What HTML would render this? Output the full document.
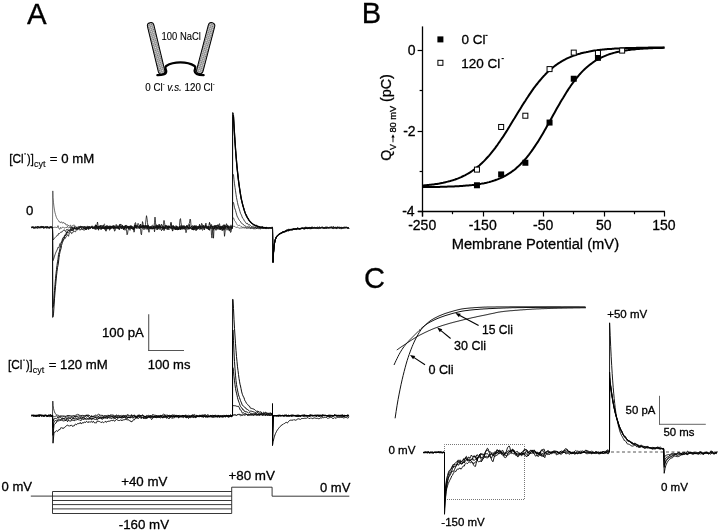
<!DOCTYPE html>
<html><head><meta charset="utf-8"><style>
html,body{margin:0;padding:0;background:#fff;width:720px;height:532px;overflow:hidden}
svg{display:block;will-change:transform}
text{font-family:"Liberation Sans", sans-serif;fill:#000;stroke:#000;stroke-width:0.3px;stroke-linejoin:round}
</style></head><body>
<svg width="720" height="532" viewBox="0 0 720 532">
<rect width="720" height="532" fill="#fff"/>
<text x="27.10" y="24.20" font-size="30" transform="translate(27.10,24.20) scale(0.982,1.0) translate(-27.10,-24.20)">A</text>
<text x="361.80" y="23.00" font-size="30" transform="translate(361.80,23.00) scale(0.97,1.0) translate(-361.80,-23.00)">B</text>
<text x="363.90" y="288.30" font-size="30" transform="translate(363.90,288.30) scale(0.97,1.0) translate(-363.90,-288.30)">C</text>
<line x1="422.50" y1="26.40" x2="422.50" y2="216.50" stroke="#000" stroke-width="1.3"/>
<line x1="418.00" y1="211.50" x2="664.90" y2="211.50" stroke="#000" stroke-width="1.3"/>
<line x1="417.60" y1="50.50" x2="422.50" y2="50.50" stroke="#000" stroke-width="1.2"/>
<line x1="417.60" y1="131.50" x2="422.50" y2="131.50" stroke="#000" stroke-width="1.2"/>
<line x1="417.60" y1="211.50" x2="422.50" y2="211.50" stroke="#000" stroke-width="1.2"/>
<line x1="419.60" y1="90.50" x2="422.50" y2="90.50" stroke="#000" stroke-width="1.2"/>
<line x1="419.60" y1="171.50" x2="422.50" y2="171.50" stroke="#000" stroke-width="1.2"/>
<line x1="422.50" y1="211.50" x2="422.50" y2="216.50" stroke="#000" stroke-width="1.2"/>
<line x1="483.50" y1="211.50" x2="483.50" y2="216.50" stroke="#000" stroke-width="1.2"/>
<line x1="543.50" y1="211.50" x2="543.50" y2="216.50" stroke="#000" stroke-width="1.2"/>
<line x1="604.50" y1="211.50" x2="604.50" y2="216.50" stroke="#000" stroke-width="1.2"/>
<line x1="664.50" y1="211.50" x2="664.50" y2="216.50" stroke="#000" stroke-width="1.2"/>
<line x1="452.50" y1="211.50" x2="452.50" y2="214.20" stroke="#000" stroke-width="1.2"/>
<line x1="513.50" y1="211.50" x2="513.50" y2="214.20" stroke="#000" stroke-width="1.2"/>
<line x1="573.50" y1="211.50" x2="573.50" y2="214.20" stroke="#000" stroke-width="1.2"/>
<line x1="634.50" y1="211.50" x2="634.50" y2="214.20" stroke="#000" stroke-width="1.2"/>
<text x="408.15" y="229.80" font-size="14">-250</text>
<text x="468.65" y="229.80" font-size="14">-150</text>
<text x="533.05" y="229.80" font-size="14">-50</text>
<text x="595.90" y="229.80" font-size="14">50</text>
<text x="652.28" y="229.80" font-size="14">150</text>
<text x="407.65" y="54.80" font-size="14">0</text>
<text x="403.15" y="135.60" font-size="14">-2</text>
<text x="402.15" y="215.80" font-size="14">-4</text>
<text x="451.70" y="249.30" font-size="14.7">Membrane Potential (mV)</text>
<g transform="translate(390.8,160.2) rotate(-90)">
<text x="-0.65" y="0" font-size="14">Q</text>
<text x="10.25" y="5.0" font-size="8.8">V</text>
<line x1="17.9" y1="2.2" x2="24.2" y2="2.2" stroke="#000" stroke-width="0.9"/>
<polygon points="26.0,2.2 22.6,0.6 22.6,3.8" fill="#000"/>
<text x="27.58" y="5.0" font-size="8.8" textLength="26.96" lengthAdjust="spacingAndGlyphs">80 mV</text>
<text x="58.10" y="0.4" font-size="14.4">(pC)</text>
</g>
<rect x="437.4" y="36.4" width="6" height="6" fill="#000"/>
<rect x="437.9" y="60.3" width="5" height="5" fill="#fff" stroke="#000" stroke-width="1"/>
<text x="461.50" y="44.20" font-size="13.5">0 Cl</text>
<text x="461.30" y="67.60" font-size="13.5">120 Cl</text>
<line x1="485.40" y1="35.40" x2="487.60" y2="35.40" stroke="#000" stroke-width="1.1"/>
<line x1="501.60" y1="58.60" x2="503.80" y2="58.60" stroke="#000" stroke-width="1.1"/>
<polyline points="422.5,187.1 423.7,187.1 424.9,187.1 426.1,187.1 427.3,187.1 428.6,187.0 429.8,187.0 431.0,187.0 432.2,187.0 433.4,187.0 434.6,187.0 435.8,186.9 437.0,186.9 438.2,186.9 439.4,186.9 440.6,186.8 441.9,186.8 443.1,186.8 444.3,186.7 445.5,186.7 446.7,186.7 447.9,186.6 449.1,186.6 450.3,186.5 451.5,186.5 452.8,186.5 454.0,186.4 455.2,186.3 456.4,186.3 457.6,186.2 458.8,186.2 460.0,186.1 461.2,186.0 462.4,185.9 463.6,185.8 464.9,185.7 466.1,185.6 467.3,185.5 468.5,185.4 469.7,185.3 470.9,185.2 472.1,185.1 473.3,184.9 474.5,184.8 475.7,184.6 476.9,184.4 478.2,184.3 479.4,184.1 480.6,183.9 481.8,183.6 483.0,183.4 484.2,183.2 485.4,182.9 486.6,182.7 487.8,182.4 489.1,182.1 490.3,181.7 491.5,181.4 492.7,181.0 493.9,180.6 495.1,180.2 496.3,179.8 497.5,179.4 498.7,178.9 499.9,178.4 501.1,177.8 502.4,177.3 503.6,176.7 504.8,176.0 506.0,175.4 507.2,174.7 508.4,173.9 509.6,173.2 510.8,172.4 512.0,171.5 513.2,170.6 514.5,169.7 515.7,168.7 516.9,167.6 518.1,166.6 519.3,165.4 520.5,164.3 521.7,163.0 522.9,161.8 524.1,160.4 525.4,159.0 526.6,157.6 527.8,156.1 529.0,154.6 530.2,153.0 531.4,151.4 532.6,149.7 533.8,147.9 535.0,146.1 536.2,144.3 537.5,142.4 538.7,140.5 539.9,138.5 541.1,136.5 542.3,134.5 543.5,132.4 544.7,130.3 545.9,128.2 547.1,126.0 548.3,123.9 549.5,121.7 550.8,119.5 552.0,117.3 553.2,115.1 554.4,113.0 555.6,110.8 556.8,108.6 558.0,106.5 559.2,104.4 560.4,102.3 561.6,100.2 562.9,98.2 564.1,96.2 565.3,94.2 566.5,92.3 567.7,90.4 568.9,88.5 570.1,86.8 571.3,85.0 572.5,83.3 573.8,81.7 575.0,80.1 576.2,78.5 577.4,77.1 578.6,75.6 579.8,74.2 581.0,72.9 582.2,71.6 583.4,70.4 584.6,69.2 585.9,68.1 587.1,67.0 588.3,66.0 589.5,65.0 590.7,64.1 591.9,63.2 593.1,62.3 594.3,61.5 595.5,60.7 596.7,60.0 598.0,59.3 599.2,58.6 600.4,58.0 601.6,57.4 602.8,56.8 604.0,56.3 605.2,55.8 606.4,55.3 607.6,54.9 608.8,54.4 610.0,54.0 611.3,53.6 612.5,53.3 613.7,52.9 614.9,52.6 616.1,52.3 617.3,52.0 618.5,51.7 619.7,51.5 620.9,51.2 622.1,51.0 623.4,50.8 624.6,50.6 625.8,50.4 627.0,50.2 628.2,50.1 629.4,49.9 630.6,49.8 631.8,49.6 633.0,49.5 634.2,49.4 635.5,49.2 636.7,49.1 637.9,49.0 639.1,48.9 640.3,48.8 641.5,48.7 642.7,48.7 643.9,48.6 645.1,48.5 646.4,48.4 647.6,48.4 648.8,48.3 650.0,48.3 651.2,48.2 652.4,48.2 653.6,48.1 654.8,48.1 656.0,48.0 657.2,48.0 658.5,48.0 659.7,47.9 660.9,47.9 662.1,47.9 663.3,47.8 664.5,47.8" fill="none" stroke="#000" stroke-width="2.0" stroke-linejoin="round"/>
<polyline points="422.5,185.5 423.7,185.4 424.9,185.3 426.1,185.2 427.3,185.1 428.6,185.0 429.8,184.8 431.0,184.7 432.2,184.5 433.4,184.4 434.6,184.2 435.8,184.0 437.0,183.9 438.2,183.7 439.4,183.5 440.6,183.2 441.9,183.0 443.1,182.8 444.3,182.5 445.5,182.2 446.7,181.9 447.9,181.6 449.1,181.3 450.3,181.0 451.5,180.6 452.8,180.3 454.0,179.9 455.2,179.5 456.4,179.0 457.6,178.6 458.8,178.1 460.0,177.6 461.2,177.1 462.4,176.5 463.6,175.9 464.9,175.3 466.1,174.7 467.3,174.0 468.5,173.3 469.7,172.6 470.9,171.8 472.1,171.0 473.3,170.2 474.5,169.3 475.7,168.4 476.9,167.4 478.2,166.4 479.4,165.4 480.6,164.3 481.8,163.2 483.0,162.1 484.2,160.9 485.4,159.6 486.6,158.3 487.8,157.0 489.1,155.6 490.3,154.2 491.5,152.7 492.7,151.2 493.9,149.7 495.1,148.1 496.3,146.4 497.5,144.8 498.7,143.0 499.9,141.3 501.1,139.5 502.4,137.7 503.6,135.9 504.8,134.0 506.0,132.1 507.2,130.2 508.4,128.2 509.6,126.3 510.8,124.3 512.0,122.3 513.2,120.3 514.5,118.3 515.7,116.3 516.9,114.3 518.1,112.3 519.3,110.4 520.5,108.4 521.7,106.4 522.9,104.5 524.1,102.6 525.4,100.7 526.6,98.8 527.8,97.0 529.0,95.1 530.2,93.4 531.4,91.6 532.6,89.9 533.8,88.2 535.0,86.6 536.2,85.0 537.5,83.5 538.7,81.9 539.9,80.5 541.1,79.1 542.3,77.7 543.5,76.3 544.7,75.1 545.9,73.8 547.1,72.6 548.3,71.4 549.5,70.3 550.8,69.3 552.0,68.2 553.2,67.2 554.4,66.3 555.6,65.4 556.8,64.5 558.0,63.6 559.2,62.8 560.4,62.1 561.6,61.3 562.9,60.6 564.1,60.0 565.3,59.3 566.5,58.7 567.7,58.1 568.9,57.6 570.1,57.1 571.3,56.6 572.5,56.1 573.8,55.6 575.0,55.2 576.2,54.8 577.4,54.4 578.6,54.0 579.8,53.7 581.0,53.3 582.2,53.0 583.4,52.7 584.6,52.4 585.9,52.2 587.1,51.9 588.3,51.7 589.5,51.4 590.7,51.2 591.9,51.0 593.1,50.8 594.3,50.6 595.5,50.4 596.7,50.3 598.0,50.1 599.2,50.0 600.4,49.8 601.6,49.7 602.8,49.6 604.0,49.5 605.2,49.3 606.4,49.2 607.6,49.1 608.8,49.0 610.0,48.9 611.3,48.9 612.5,48.8 613.7,48.7 614.9,48.6 616.1,48.6 617.3,48.5 618.5,48.4 619.7,48.4 620.9,48.3 622.1,48.3 623.4,48.2 624.6,48.2 625.8,48.1 627.0,48.1 628.2,48.0 629.4,48.0 630.6,48.0 631.8,47.9 633.0,47.9 634.2,47.9 635.5,47.9 636.7,47.8 637.9,47.8 639.1,47.8 640.3,47.8 641.5,47.7 642.7,47.7 643.9,47.7 645.1,47.7 646.4,47.7 647.6,47.7 648.8,47.6 650.0,47.6 651.2,47.6 652.4,47.6 653.6,47.6 654.8,47.6 656.0,47.6 657.2,47.6 658.5,47.5 659.7,47.5 660.9,47.5 662.1,47.5 663.3,47.5 664.5,47.5" fill="none" stroke="#000" stroke-width="2.0" stroke-linejoin="round"/>
<rect x="473.95" y="182.27" width="6" height="6" fill="#000"/>
<rect x="498.15" y="171.42" width="6" height="6" fill="#000"/>
<rect x="522.35" y="159.76" width="6" height="6" fill="#000"/>
<rect x="546.55" y="119.56" width="6" height="6" fill="#000"/>
<rect x="570.75" y="75.74" width="6" height="6" fill="#000"/>
<rect x="594.95" y="54.84" width="6" height="6" fill="#000"/>
<rect x="474.45" y="167.09" width="5" height="5" fill="#fff" stroke="#000" stroke-width="1"/>
<rect x="498.65" y="124.48" width="5" height="5" fill="#fff" stroke="#000" stroke-width="1"/>
<rect x="522.85" y="113.22" width="5" height="5" fill="#fff" stroke="#000" stroke-width="1"/>
<rect x="547.05" y="66.59" width="5" height="5" fill="#fff" stroke="#000" stroke-width="1"/>
<rect x="571.25" y="50.11" width="5" height="5" fill="#fff" stroke="#000" stroke-width="1"/>
<rect x="595.45" y="50.51" width="5" height="5" fill="#fff" stroke="#000" stroke-width="1"/>
<rect x="619.65" y="48.10" width="5" height="5" fill="#fff" stroke="#000" stroke-width="1"/>
<text x="388.45" y="454.40" font-size="11.6">0 mV</text>
<text x="441.30" y="526.20" font-size="11.5">-150 mV</text>
<text x="607.25" y="318.40" font-size="11.5">+50 mV</text>
<text x="625.55" y="413.80" font-size="11.4">50 pA</text>
<text x="663.45" y="436.20" font-size="11.4">50 ms</text>
<text x="660.95" y="491.10" font-size="11.6">0 mV</text>
<text x="482.00" y="334.30" font-size="12.1">15 Cli</text>
<text x="454.10" y="349.80" font-size="12.5">30 Cli</text>
<text x="428.40" y="374.10" font-size="12.6">0 Cli</text>
<line x1="659.50" y1="395.80" x2="659.50" y2="424.80" stroke="#666" stroke-width="1.0"/>
<line x1="659.00" y1="424.30" x2="705.80" y2="424.30" stroke="#666" stroke-width="1.0"/>
<rect x="444.5" y="444.5" width="80" height="55" fill="none" stroke="#777" stroke-width="1" stroke-dasharray="1,1" stroke-dashoffset="0.5"/>
<line x1="600.00" y1="452.00" x2="718.00" y2="452.00" stroke="#555" stroke-width="1" stroke-dasharray="3,2.5"/>
<polyline points="395.1,418.3 396.1,411.6 397.1,405.2 398.1,399.4 399.1,394.1 400.1,389.1 401.1,384.3 402.1,379.8 403.1,375.6 404.1,371.6 405.1,367.8 406.1,364.1 407.1,360.7 408.1,357.6 409.1,354.7 410.1,351.9 411.1,349.2 412.1,346.7 413.1,344.3 414.1,342.1 415.1,340.0 416.1,338.0 417.1,336.1 418.1,334.4 419.1,332.7 420.1,331.1 421.1,329.7 422.1,328.5 423.1,327.4 424.1,326.3 425.1,325.3 426.1,324.3 427.1,323.4 428.1,322.5 429.1,321.7 430.1,320.9 431.1,320.2 432.1,319.6 433.1,319.0 434.1,318.4 435.1,317.9 436.1,317.4 437.1,316.9 438.1,316.4 439.1,315.9 440.1,315.5 441.1,315.1 442.1,314.7 443.1,314.3 444.1,313.9 445.1,313.5 446.1,313.2 447.1,312.9 448.1,312.6 449.1,312.2 450.1,312.0 451.1,311.7 452.1,311.4 453.1,311.1 454.1,310.8 455.1,310.5 456.1,310.3 457.1,310.0 458.1,309.8 459.1,309.5 460.1,309.3 461.1,309.1 462.1,308.9 463.1,308.8 464.1,308.6 465.1,308.5 466.1,308.4 467.1,308.3 468.1,308.2 469.1,308.1 470.1,308.0 471.1,307.9 472.1,307.9 473.1,307.8 474.1,307.7 475.1,307.6 476.1,307.6 477.1,307.5 478.1,307.4 479.1,307.4 480.1,307.3 481.1,307.3 482.1,307.2 483.1,307.2 484.1,307.1 485.1,307.1 486.1,307.1 487.1,307.0 488.1,307.0 489.1,307.0 490.1,307.0 491.1,307.0 492.1,307.0 493.1,307.0 494.1,307.0 495.1,307.0 496.1,306.9 497.1,306.9 498.1,306.9 499.1,306.9 500.1,306.9 501.1,306.9 502.1,306.9 503.1,306.9 504.1,306.9 505.1,306.9 506.1,306.9 507.1,306.9 508.1,306.9 509.1,306.9 510.1,306.8 511.1,306.8 512.1,306.8 513.1,306.8 514.1,306.8 515.1,306.8 516.1,306.8 517.1,306.8 518.1,306.8 519.1,306.8 520.1,306.8 521.1,306.8 522.1,306.8 523.1,306.8 524.1,306.8 525.1,306.8 526.1,306.8 527.1,306.8 528.1,306.8 529.1,306.8 530.1,306.8 531.1,306.8 532.1,306.8 533.1,306.8 534.1,306.8 535.1,306.8 536.1,306.8 537.1,306.8 538.1,306.8 539.1,306.8 540.1,306.8 541.1,306.8 542.1,306.8 543.1,306.8 544.1,306.8 545.1,306.8 546.1,306.8 547.1,306.8 548.1,306.8 549.1,306.8 550.1,306.8 551.1,306.8 552.1,306.8 553.1,306.8 554.1,306.8 555.1,306.8 556.1,306.8 557.1,306.8 558.1,306.8 559.1,306.8 560.1,306.8 561.1,306.9 562.1,306.9 563.1,306.9 564.1,306.9 565.1,306.9 566.1,306.9 567.1,306.9 568.1,306.9 569.1,306.9 570.1,306.9 571.1,306.9 572.1,306.9 573.1,306.9 574.1,306.9 575.1,306.9 576.1,306.9 577.1,306.9 578.1,306.9 579.1,306.9 580.1,307.0 581.1,307.0 582.1,307.0 583.1,307.0 584.1,307.0 585.1,307.0" fill="none" stroke="#111" stroke-width="1.0" stroke-linejoin="round"/>
<polyline points="394.0,365.0 395.0,362.8 396.0,360.6 397.0,358.6 398.0,356.5 399.0,354.6 400.0,352.8 401.0,351.1 402.0,349.5 403.0,348.0 404.0,346.7 405.0,345.4 406.0,344.1 407.0,342.9 408.0,341.8 409.0,340.7 410.0,339.6 411.0,338.6 412.0,337.6 413.0,336.6 414.0,335.6 415.0,334.6 416.0,333.6 417.0,332.6 418.0,331.6 419.0,330.6 420.0,329.7 421.0,328.7 422.0,327.8 423.0,326.9 424.0,326.1 425.0,325.3 426.0,324.6 427.0,323.9 428.0,323.3 429.0,322.7 430.0,322.1 431.0,321.6 432.0,321.1 433.0,320.6 434.0,320.1 435.0,319.6 436.0,319.2 437.0,318.7 438.0,318.3 439.0,317.9 440.0,317.5 441.0,317.1 442.0,316.8 443.0,316.4 444.0,316.1 445.0,315.7 446.0,315.4 447.0,315.1 448.0,314.8 449.0,314.5 450.0,314.2 451.0,313.9 452.0,313.6 453.0,313.3 454.0,313.1 455.0,312.8 456.0,312.6 457.0,312.3 458.0,312.1 459.0,311.8 460.0,311.6 461.0,311.4 462.0,311.2 463.0,311.0 464.0,310.9 465.0,310.7 466.0,310.6 467.0,310.5 468.0,310.4 469.0,310.2 470.0,310.1 471.0,310.0 472.0,309.9 473.0,309.8 474.0,309.7 475.0,309.6 476.0,309.5 477.0,309.5 478.0,309.4 479.0,309.3 480.0,309.2 481.0,309.1 482.0,309.1 483.0,309.0 484.0,308.9 485.0,308.9 486.0,308.8 487.0,308.8 488.0,308.7 489.0,308.6 490.0,308.6 491.0,308.6 492.0,308.5 493.0,308.5 494.0,308.4 495.0,308.4 496.0,308.3 497.0,308.3 498.0,308.2 499.0,308.2 500.0,308.2 501.0,308.1 502.0,308.1 503.0,308.0 504.0,308.0 505.0,308.0 506.0,307.9 507.0,307.9 508.0,307.9 509.0,307.8 510.0,307.8 511.0,307.8 512.0,307.7 513.0,307.7 514.0,307.7 515.0,307.7 516.0,307.7 517.0,307.6 518.0,307.6 519.0,307.6 520.0,307.6 521.0,307.6 522.0,307.6 523.0,307.6 524.0,307.6 525.0,307.5 526.0,307.5 527.0,307.5 528.0,307.5 529.0,307.5 530.0,307.5 531.0,307.5 532.0,307.5 533.0,307.5 534.0,307.5 535.0,307.4 536.0,307.4 537.0,307.4 538.0,307.4 539.0,307.4 540.0,307.4 541.0,307.4 542.0,307.4 543.0,307.4 544.0,307.4 545.0,307.4 546.0,307.4 547.0,307.3 548.0,307.3 549.0,307.3 550.0,307.3 551.0,307.3 552.0,307.3 553.0,307.3 554.0,307.3 555.0,307.3 556.0,307.3 557.0,307.3 558.0,307.3 559.0,307.3 560.0,307.3 561.0,307.3 562.0,307.3 563.0,307.3 564.0,307.2 565.0,307.2 566.0,307.2 567.0,307.2 568.0,307.2 569.0,307.2 570.0,307.2 571.0,307.2 572.0,307.2 573.0,307.2 574.0,307.2 575.0,307.2 576.0,307.2 577.0,307.2 578.0,307.2 579.0,307.2 580.0,307.2 581.0,307.2 582.0,307.2 583.0,307.2 584.0,307.2 585.0,307.2 586.0,307.2" fill="none" stroke="#111" stroke-width="1.0" stroke-linejoin="round"/>
<polyline points="396.8,350.0 397.8,349.3 398.8,348.6 399.8,347.9 400.8,347.2 401.8,346.5 402.8,345.9 403.8,345.2 404.8,344.5 405.8,343.9 406.8,343.2 407.8,342.5 408.8,341.9 409.8,341.2 410.8,340.5 411.8,339.9 412.8,339.2 413.8,338.6 414.8,338.0 415.8,337.4 416.8,336.8 417.8,336.2 418.8,335.7 419.8,335.1 420.8,334.6 421.8,334.1 422.8,333.6 423.8,333.1 424.8,332.6 425.8,332.1 426.8,331.7 427.8,331.2 428.8,330.7 429.8,330.3 430.8,329.9 431.8,329.4 432.8,329.0 433.8,328.6 434.8,328.2 435.8,327.8 436.8,327.5 437.8,327.1 438.8,326.7 439.8,326.4 440.8,326.1 441.8,325.7 442.8,325.4 443.8,325.1 444.8,324.8 445.8,324.5 446.8,324.2 447.8,323.9 448.8,323.6 449.8,323.3 450.8,323.0 451.8,322.8 452.8,322.5 453.8,322.2 454.8,322.0 455.8,321.7 456.8,321.5 457.8,321.2 458.8,321.0 459.8,320.7 460.8,320.5 461.8,320.2 462.8,320.0 463.8,319.7 464.8,319.5 465.8,319.2 466.8,319.0 467.8,318.8 468.8,318.5 469.8,318.3 470.8,318.1 471.8,317.8 472.8,317.6 473.8,317.4 474.8,317.2 475.8,317.0 476.8,316.7 477.8,316.5 478.8,316.3 479.8,316.1 480.8,315.9 481.8,315.7 482.8,315.5 483.8,315.3 484.8,315.1 485.8,314.9 486.8,314.7 487.8,314.5 488.8,314.2 489.8,314.0 490.8,313.8 491.8,313.6 492.8,313.4 493.8,313.2 494.8,313.0 495.8,312.7 496.8,312.5 497.8,312.3 498.8,312.1 499.8,312.0 500.8,311.8 501.8,311.7 502.8,311.6 503.8,311.4 504.8,311.3 505.8,311.2 506.8,311.1 507.8,311.0 508.8,310.9 509.8,310.8 510.8,310.7 511.8,310.7 512.8,310.6 513.8,310.5 514.8,310.4 515.8,310.3 516.8,310.3 517.8,310.2 518.8,310.1 519.8,310.0 520.8,309.9 521.8,309.9 522.8,309.8 523.8,309.7 524.8,309.7 525.8,309.6 526.8,309.5 527.8,309.4 528.8,309.4 529.8,309.3 530.8,309.3 531.8,309.2 532.8,309.1 533.8,309.1 534.8,309.0 535.8,309.0 536.8,308.9 537.8,308.9 538.8,308.9 539.8,308.8 540.8,308.8 541.8,308.7 542.8,308.7 543.8,308.7 544.8,308.6 545.8,308.6 546.8,308.6 547.8,308.5 548.8,308.5 549.8,308.5 550.8,308.4 551.8,308.4 552.8,308.4 553.8,308.3 554.8,308.3 555.8,308.3 556.8,308.3 557.8,308.2 558.8,308.2 559.8,308.2 560.8,308.2 561.8,308.2 562.8,308.1 563.8,308.1 564.8,308.1 565.8,308.1 566.8,308.1 567.8,308.0 568.8,308.0 569.8,308.0 570.8,308.0 571.8,308.0 572.8,308.0 573.8,307.9 574.8,307.9 575.8,307.9 576.8,307.9 577.8,307.9 578.8,307.9 579.8,307.9 580.8,307.8 581.8,307.8 582.8,307.8 583.8,307.8 584.8,307.8 585.8,307.8" fill="none" stroke="#111" stroke-width="1.0" stroke-linejoin="round"/>
<line x1="478.60" y1="325.40" x2="459.38" y2="315.21" stroke="#000" stroke-width="1.1"/>
<polygon points="455.40,313.10 460.75,313.68 458.88,317.21" fill="#000"/>
<line x1="450.60" y1="338.50" x2="440.68" y2="330.36" stroke="#000" stroke-width="1.1"/>
<polygon points="437.20,327.50 442.33,329.13 439.80,332.22" fill="#000"/>
<line x1="425.00" y1="364.80" x2="413.76" y2="357.38" stroke="#000" stroke-width="1.1"/>
<polygon points="410.00,354.90 415.27,355.98 413.07,359.32" fill="#000"/>
<polyline points="423.3,453.0 424.0,452.6 424.7,452.2 425.4,452.2 426.1,452.4 426.8,452.5 427.5,452.6 428.2,452.1 428.9,452.3 429.6,452.7 430.3,452.5 431.0,452.5 431.7,452.3 432.4,452.4 433.1,452.7 433.8,452.5 434.5,452.3 435.2,452.5 435.9,452.4 436.6,451.8 437.3,452.1 438.0,452.3 438.7,451.8 439.4,451.8 440.1,452.1 440.8,452.0 441.5,451.8 442.2,452.1 442.9,452.6 443.6,452.6 444.5,452.4 444.5,514.3 445.4,499.9 446.1,491.6 446.8,485.7 447.5,481.9 448.2,478.5 448.9,476.4 449.6,474.3 450.3,473.0 451.0,472.1 451.7,471.3 452.4,471.4 453.1,471.0 453.8,471.4 454.5,469.5 455.2,467.9 455.9,466.5 456.6,465.6 457.3,464.2 458.0,463.0 458.7,462.3 459.4,462.7 460.1,461.2 460.8,461.8 461.5,461.4 462.2,460.8 462.9,460.0 463.6,459.0 464.3,459.6 465.0,458.8 465.7,458.5 466.4,458.7 467.1,460.6 467.8,460.7 468.5,460.2 469.2,460.5 469.9,460.5 470.6,460.6 471.3,459.5 472.0,458.8 472.7,457.6 473.4,456.5 474.1,456.8 474.8,456.1 475.5,456.2 476.2,457.7 476.9,459.4 477.6,461.0 478.3,461.6 479.0,461.9 479.7,461.4 480.4,460.6 481.1,462.0 481.8,460.9 482.5,459.6 483.2,459.1 483.9,457.5 484.6,455.2 485.3,452.1 486.0,450.7 486.7,449.6 487.4,448.2 488.1,448.8 488.8,450.9 489.5,452.0 490.2,451.9 490.9,452.0 491.6,453.8 492.3,455.3 493.0,455.8 493.7,455.1 494.4,454.3 495.1,453.9 495.8,453.4 496.5,453.3 497.2,452.3 497.9,451.8 498.6,451.6 499.3,450.0 500.0,450.4 500.7,452.0 501.4,453.0 502.1,451.8 502.8,452.1 503.5,453.0 504.2,453.3 504.9,453.1 505.6,453.2 506.3,453.2 507.0,453.1 507.7,453.4 508.4,453.0 509.1,452.6 509.8,450.5 510.5,451.0 511.2,450.4 511.9,449.8 512.6,450.1 513.3,450.2 514.0,451.7 514.7,452.9 515.4,452.7 516.1,453.0 516.8,453.6 517.5,455.1 518.2,454.9 518.9,454.5 519.6,453.4 520.3,454.5 521.0,454.6 521.7,454.0 522.4,454.2 523.1,453.1 523.8,454.8 524.5,454.4 525.2,453.3 525.9,451.3 526.6,451.7 527.3,452.3 528.0,453.5 528.7,452.5 529.4,452.7 530.1,453.7 530.8,452.2 531.5,451.7 532.2,451.0 532.9,451.3 533.6,451.2 534.3,450.4 535.0,452.0 535.7,453.1 536.4,452.1 537.1,451.9 537.8,452.5 538.5,453.7 539.2,452.8 539.9,452.8 540.6,451.1 541.3,450.5 542.0,450.0 542.7,449.7 543.4,449.3 544.1,449.1 544.8,451.4 545.5,452.5 546.2,452.8 546.9,453.2 547.6,453.9 548.3,453.2 549.0,452.6 549.7,453.0 550.4,452.4 551.1,452.0 551.8,451.7 552.5,451.8 553.2,451.4 553.9,450.9 554.6,451.5 555.3,451.6 556.0,451.2 556.7,451.4 557.4,452.0 558.1,452.4 558.8,452.6 559.5,452.8 560.2,454.0 560.9,454.5 561.6,454.0 562.3,453.6 563.0,452.9 563.7,451.5 564.4,450.2 565.1,450.8 565.8,450.6 566.5,449.6 567.2,449.6 567.9,451.4 568.6,452.2 569.3,451.4 570.0,451.8 570.7,452.8 571.4,453.6 572.1,453.3 572.8,453.2 573.5,453.5 574.2,454.1 574.9,454.0 575.6,453.6 576.3,453.3 577.0,453.0 577.7,453.2 578.4,452.6 579.1,452.4 579.8,451.5 580.5,450.8 581.2,451.8 581.9,450.8 582.6,451.1 583.3,451.2 584.0,452.2 584.7,453.0 585.4,452.0 586.1,452.4 586.8,452.2 587.5,452.4 588.2,452.2 588.9,451.8 589.6,452.4 590.3,453.1 591.0,453.3 591.7,452.9 592.4,453.1 593.1,453.3 593.8,453.2 594.5,453.5 595.2,453.1 595.9,453.5 596.6,452.9 597.3,452.7 598.0,452.2 598.7,452.1 599.4,452.4 600.1,452.1 600.8,453.4 601.5,452.9 602.2,453.6 602.9,453.3 603.6,453.4 604.3,453.6 605.0,452.6 605.7,453.1 606.4,453.1 607.1,451.5 607.8,451.1 608.5,451.4 609.5,451.5 609.6,322.8 610.2,335.5 610.7,346.7 611.2,356.7 611.7,365.6 612.2,373.7 612.7,380.9 613.2,387.3 613.7,393.2 614.2,398.5 614.7,403.3 615.2,407.7 615.7,411.5 616.2,414.8 616.7,417.6 617.2,420.4 617.7,422.6 618.2,424.9 618.7,427.2 619.2,428.8 619.7,430.8 620.2,432.2 620.7,433.7 621.2,434.6 621.7,435.8 622.2,436.5 622.7,437.5 623.2,438.4 623.7,439.1 624.2,440.5 624.7,440.3 625.2,440.9 625.7,441.5 626.2,441.8 626.7,443.1 627.2,443.7 627.7,444.0 628.2,444.1 628.7,444.2 629.2,444.3 629.7,444.7 630.2,444.9 630.7,445.2 631.2,445.8 631.7,446.0 632.2,446.1 632.7,446.1 633.2,446.0 633.7,445.7 634.2,445.5 634.7,445.4 635.2,445.5 635.7,445.7 636.2,446.1 636.7,446.7 637.2,446.4 637.7,447.0 638.2,447.2 638.7,447.0 639.2,447.8 639.7,447.1 640.2,447.1 640.7,447.2 641.2,446.5 641.7,446.8 642.2,447.1 642.7,447.2 643.2,447.5 643.7,447.8 644.2,448.2 644.7,448.6 645.2,448.1 645.7,448.3 646.2,448.0 646.7,447.8 647.2,448.1 647.7,447.7 648.2,447.5 648.7,447.1 649.2,447.7 649.7,448.0 650.2,448.1 650.7,448.2 651.2,448.3 651.7,448.3 652.2,448.5 652.7,448.7 653.2,449.0 653.7,448.8 654.2,449.0 654.7,448.7 655.2,448.2 655.7,448.3 656.2,447.3 656.7,447.6 657.2,447.3 657.7,446.9 658.2,447.4 658.7,447.3 659.2,447.6 659.7,448.1 660.2,448.4 660.7,448.5 661.2,448.3 661.7,448.6 662.2,448.5 662.7,448.7 663.2,448.7 663.6,448.8 664.2,473.3 665.0,468.6 665.7,465.9 666.4,464.1 667.1,462.6 667.8,461.4 668.5,460.4 669.2,459.8 669.9,459.2 670.6,458.5 671.3,458.1 672.0,458.0 672.7,457.6 673.4,456.9 674.1,455.7 674.8,456.2 675.5,456.0 676.2,456.8 676.9,456.2 677.6,456.7 678.3,456.6 679.0,456.4 679.7,456.1 680.4,455.1 681.1,455.2 681.8,454.1 682.5,454.4 683.2,454.2 683.9,454.7 684.6,454.4 685.3,453.6 686.0,453.4 686.7,453.8 687.4,454.3 688.1,454.3 688.8,453.4 689.5,453.3 690.2,452.8 690.9,453.0 691.6,452.5 692.3,453.2 693.0,453.4 693.7,453.8 694.4,453.6 695.1,453.3 695.8,453.3 696.5,453.7 697.2,453.9 697.9,453.9 698.6,453.3 699.3,453.7 700.0,453.7 700.7,454.0 701.4,453.7 702.1,454.1 702.8,453.6 703.5,453.4 704.2,452.6 704.9,452.9 705.6,452.8 706.3,452.8 707.0,452.8 707.7,453.4 708.4,453.8 709.1,452.6 709.8,451.9 710.5,451.3 711.2,451.8 711.9,452.0 712.6,453.0 713.3,453.3 714.0,453.2 714.7,452.8 715.4,452.9 716.1,453.2 716.8,452.8" fill="none" stroke="#000" stroke-width="0.9" stroke-linejoin="round"/>
<polyline points="423.3,452.3 424.0,452.4 424.7,452.7 425.4,452.2 426.1,452.1 426.8,452.0 427.5,452.1 428.2,452.5 428.9,452.7 429.6,452.7 430.3,452.2 431.0,451.7 431.7,452.4 432.4,452.9 433.1,453.1 433.8,453.1 434.5,452.4 435.2,452.5 435.9,452.8 436.6,452.6 437.3,452.3 438.0,452.2 438.7,452.4 439.4,452.6 440.1,452.6 440.8,452.8 441.5,452.6 442.2,452.3 442.9,452.6 443.6,452.3 444.5,452.4 444.5,502.3 445.4,493.1 446.1,487.6 446.8,483.5 447.5,480.8 448.2,478.7 448.9,476.8 449.6,475.9 450.3,474.8 451.0,473.3 451.7,471.2 452.4,468.8 453.1,467.3 453.8,465.7 454.5,464.3 455.2,464.7 455.9,465.1 456.6,464.9 457.3,464.1 458.0,464.8 458.7,465.2 459.4,463.7 460.1,462.8 460.8,463.9 461.5,463.7 462.2,462.8 462.9,463.2 463.6,462.0 464.3,463.1 465.0,461.5 465.7,460.9 466.4,459.6 467.1,458.8 467.8,460.1 468.5,459.3 469.2,458.7 469.9,459.9 470.6,461.0 471.3,461.5 472.0,461.7 472.7,462.4 473.4,463.9 474.1,463.3 474.8,462.8 475.5,461.8 476.2,461.4 476.9,460.6 477.6,458.1 478.3,457.3 479.0,456.9 479.7,455.1 480.4,453.7 481.1,454.0 481.8,454.3 482.5,454.1 483.2,453.9 483.9,454.8 484.6,455.0 485.3,453.6 486.0,453.9 486.7,453.7 487.4,453.5 488.1,454.7 488.8,455.3 489.5,456.5 490.2,457.2 490.9,457.9 491.6,457.9 492.3,456.4 493.0,455.7 493.7,454.0 494.4,452.0 495.1,451.6 495.8,452.0 496.5,453.2 497.2,453.3 497.9,452.0 498.6,453.8 499.3,453.3 500.0,451.6 500.7,451.8 501.4,451.7 502.1,453.9 502.8,453.5 503.5,455.0 504.2,457.2 504.9,457.4 505.6,457.6 506.3,457.2 507.0,455.5 507.7,454.9 508.4,454.8 509.1,454.2 509.8,454.0 510.5,452.7 511.2,452.8 511.9,451.2 512.6,449.0 513.3,449.6 514.0,451.4 514.7,453.5 515.4,455.2 516.1,454.8 516.8,455.7 517.5,456.7 518.2,456.2 518.9,455.7 519.6,454.7 520.3,455.1 521.0,454.3 521.7,452.6 522.4,451.5 523.1,450.9 523.8,450.3 524.5,449.2 525.2,449.3 525.9,449.8 526.6,450.6 527.3,450.5 528.0,451.2 528.7,452.0 529.4,451.4 530.1,451.1 530.8,450.6 531.5,451.1 532.2,450.4 532.9,450.8 533.6,451.2 534.3,450.9 535.0,451.6 535.7,452.6 536.4,453.8 537.1,452.7 537.8,453.9 538.5,454.3 539.2,454.9 539.9,454.9 540.6,453.8 541.3,454.5 542.0,453.6 542.7,453.6 543.4,453.9 544.1,453.3 544.8,453.2 545.5,453.9 546.2,453.6 546.9,453.5 547.6,452.8 548.3,452.3 549.0,452.8 549.7,452.3 550.4,452.6 551.1,452.6 551.8,452.6 552.5,452.4 553.2,452.2 553.9,451.2 554.6,450.9 555.3,451.0 556.0,451.4 556.7,451.8 557.4,452.1 558.1,453.3 558.8,453.8 559.5,453.6 560.2,453.3 560.9,453.5 561.6,452.7 562.3,452.2 563.0,452.5 563.7,452.3 564.4,452.0 565.1,452.0 565.8,452.0 566.5,451.4 567.2,450.5 567.9,451.0 568.6,451.1 569.3,451.3 570.0,452.3 570.7,452.5 571.4,453.3 572.1,452.4 572.8,452.3 573.5,452.6 574.2,451.8 574.9,451.4 575.6,450.5 576.3,451.2 577.0,451.1 577.7,451.1 578.4,451.3 579.1,451.7 579.8,452.3 580.5,452.5 581.2,452.8 581.9,452.2 582.6,452.2 583.3,452.2 584.0,452.1 584.7,452.1 585.4,452.2 586.1,453.0 586.8,452.7 587.5,452.7 588.2,452.7 588.9,452.6 589.6,452.1 590.3,451.6 591.0,451.3 591.7,451.2 592.4,451.3 593.1,452.1 593.8,452.2 594.5,452.5 595.2,452.9 595.9,453.1 596.6,453.2 597.3,453.0 598.0,453.0 598.7,453.6 599.4,453.8 600.1,453.5 600.8,453.2 601.5,452.3 602.2,452.0 602.9,451.8 603.6,451.7 604.3,452.3 605.0,452.1 605.7,452.5 606.4,452.7 607.1,453.2 607.8,453.0 608.5,452.9 609.5,451.5 609.6,372.0 610.6,385.2 611.1,389.0 611.6,392.5 612.1,395.8 612.6,399.0 613.1,401.9 613.6,404.7 614.1,407.3 614.6,409.7 615.1,411.9 615.6,413.9 616.1,415.7 616.6,417.3 617.1,418.9 617.6,420.5 618.1,421.9 618.6,423.7 619.1,425.3 619.6,426.7 620.1,428.3 620.6,429.4 621.1,430.4 621.6,430.8 622.1,432.0 622.6,432.8 623.1,434.4 623.6,435.7 624.1,435.6 624.6,436.3 625.1,436.2 625.6,436.8 626.1,438.1 626.6,438.9 627.1,440.5 627.6,441.1 628.1,441.2 628.6,441.2 629.1,440.6 629.6,441.0 630.1,441.1 630.6,441.6 631.1,442.1 631.6,442.0 632.1,443.1 632.6,443.0 633.1,443.4 633.6,444.1 634.1,444.1 634.6,444.7 635.1,444.6 635.6,445.2 636.1,445.6 636.6,446.0 637.1,446.4 637.6,446.0 638.1,445.3 638.6,445.4 639.1,445.8 639.6,446.1 640.1,446.3 640.6,446.6 641.1,446.2 641.6,445.7 642.1,446.2 642.6,446.2 643.1,446.9 643.6,447.2 644.1,447.5 644.6,447.5 645.1,447.3 645.6,447.5 646.1,447.2 646.6,447.3 647.1,447.4 647.6,447.2 648.1,447.2 648.6,447.1 649.1,447.3 649.6,447.8 650.1,448.0 650.6,448.0 651.1,448.2 651.6,448.0 652.1,447.8 652.6,447.8 653.1,447.6 653.6,447.7 654.1,447.8 654.6,447.8 655.1,447.9 655.6,448.1 656.1,448.3 656.6,448.2 657.1,448.1 657.6,448.3 658.1,448.1 658.6,448.8 659.1,448.9 659.6,448.8 660.1,448.8 660.6,448.7 661.1,448.7 661.6,448.6 662.1,449.1 662.6,449.1 663.1,449.1 663.6,448.8 664.2,465.3 665.0,462.4 665.7,460.6 666.4,459.5 667.1,458.6 667.8,458.2 668.5,457.7 669.2,457.3 669.9,456.7 670.6,456.2 671.3,456.2 672.0,455.9 672.7,455.7 673.4,455.0 674.1,454.8 674.8,454.6 675.5,454.7 676.2,454.6 676.9,454.5 677.6,454.1 678.3,454.1 679.0,453.7 679.7,453.8 680.4,454.0 681.1,454.1 681.8,454.0 682.5,454.4 683.2,454.2 683.9,453.7 684.6,452.7 685.3,453.5 686.0,454.5 686.7,454.2 687.4,453.8 688.1,453.2 688.8,453.3 689.5,452.6 690.2,452.8 690.9,452.7 691.6,453.4 692.3,453.1 693.0,453.8 693.7,454.1 694.4,453.7 695.1,453.1 695.8,453.0 696.5,452.9 697.2,452.9 697.9,452.6 698.6,452.5 699.3,452.3 700.0,451.7 700.7,452.3 701.4,452.4 702.1,453.2 702.8,453.1 703.5,453.5 704.2,453.2 704.9,453.3 705.6,453.1 706.3,452.9 707.0,453.0 707.7,453.3 708.4,454.2 709.1,453.8 709.8,453.4 710.5,452.3 711.2,451.2 711.9,451.0 712.6,451.6 713.3,452.4 714.0,452.1 714.7,452.1 715.4,452.2 716.1,452.8 716.8,452.5" fill="none" stroke="#000" stroke-width="0.9" stroke-linejoin="round"/>
<polyline points="423.3,452.6 424.0,452.3 424.7,452.3 425.4,452.7 426.1,452.7 426.8,452.7 427.5,452.8 428.2,452.5 428.9,452.6 429.6,453.1 430.3,452.5 431.0,452.4 431.7,452.7 432.4,452.1 433.1,452.1 433.8,452.4 434.5,452.2 435.2,452.2 435.9,452.1 436.6,452.3 437.3,452.4 438.0,452.0 438.7,451.9 439.4,452.0 440.1,451.8 440.8,452.0 441.5,452.5 442.2,452.8 442.9,452.4 443.6,452.1 444.5,452.4 444.5,498.3 445.4,488.3 446.1,482.3 446.8,478.1 447.5,475.5 448.2,473.0 448.9,471.1 449.6,470.2 450.3,469.6 451.0,468.8 451.7,468.0 452.4,466.1 453.1,464.4 453.8,464.9 454.5,463.7 455.2,463.4 455.9,462.3 456.6,461.9 457.3,462.0 458.0,461.1 458.7,461.9 459.4,461.8 460.1,461.4 460.8,463.6 461.5,464.1 462.2,464.0 462.9,462.3 463.6,461.5 464.3,462.0 465.0,458.4 465.7,456.9 466.4,456.3 467.1,458.2 467.8,458.5 468.5,457.0 469.2,457.2 469.9,458.3 470.6,457.2 471.3,455.0 472.0,455.9 472.7,456.6 473.4,457.1 474.1,455.6 474.8,457.0 475.5,458.1 476.2,456.0 476.9,454.8 477.6,454.9 478.3,456.3 479.0,455.7 479.7,454.1 480.4,455.8 481.1,459.2 481.8,460.6 482.5,459.2 483.2,456.9 483.9,455.8 484.6,454.2 485.3,452.3 486.0,451.3 486.7,449.8 487.4,450.1 488.1,450.8 488.8,451.5 489.5,453.2 490.2,455.1 490.9,457.6 491.6,459.8 492.3,461.2 493.0,461.8 493.7,459.0 494.4,456.4 495.1,454.8 495.8,452.6 496.5,451.0 497.2,449.5 497.9,450.3 498.6,451.6 499.3,450.8 500.0,451.8 500.7,452.1 501.4,454.0 502.1,454.1 502.8,453.3 503.5,454.3 504.2,453.9 504.9,453.6 505.6,452.5 506.3,452.3 507.0,451.9 507.7,451.1 508.4,450.5 509.1,451.6 509.8,451.1 510.5,451.1 511.2,450.8 511.9,450.9 512.6,450.4 513.3,450.3 514.0,450.3 514.7,452.2 515.4,452.7 516.1,453.7 516.8,453.5 517.5,452.9 518.2,453.8 518.9,453.8 519.6,453.9 520.3,454.1 521.0,454.4 521.7,455.8 522.4,455.2 523.1,452.5 523.8,451.0 524.5,450.0 525.2,450.4 525.9,449.4 526.6,449.7 527.3,451.1 528.0,453.1 528.7,452.0 529.4,451.6 530.1,450.8 530.8,450.0 531.5,450.3 532.2,451.0 532.9,451.1 533.6,452.9 534.3,453.7 535.0,455.3 535.7,456.3 536.4,455.2 537.1,455.8 537.8,455.1 538.5,454.2 539.2,453.7 539.9,452.2 540.6,452.3 541.3,454.6 542.0,454.7 542.7,455.0 543.4,454.6 544.1,456.8 544.8,457.7 545.5,455.0 546.2,454.3 546.9,454.1 547.6,454.6 548.3,454.4 549.0,454.4 549.7,454.5 550.4,453.5 551.1,453.9 551.8,453.5 552.5,452.6 553.2,452.2 553.9,452.2 554.6,452.7 555.3,453.6 556.0,454.5 556.7,454.9 557.4,454.1 558.1,454.4 558.8,453.7 559.5,452.3 560.2,451.6 560.9,452.1 561.6,452.7 562.3,452.1 563.0,452.5 563.7,452.4 564.4,452.4 565.1,452.6 565.8,452.1 566.5,452.7 567.2,452.5 567.9,452.0 568.6,452.2 569.3,451.3 570.0,452.8 570.7,451.6 571.4,452.6 572.1,452.9 572.8,452.0 573.5,452.4 574.2,451.5 574.9,453.2 575.6,453.0 576.3,452.8 577.0,453.4 577.7,453.4 578.4,453.5 579.1,452.8 579.8,452.9 580.5,453.4 581.2,452.7 581.9,452.7 582.6,452.5 583.3,452.5 584.0,452.3 584.7,452.4 585.4,453.2 586.1,453.3 586.8,453.8 587.5,453.7 588.2,453.3 588.9,453.6 589.6,453.2 590.3,452.7 591.0,452.0 591.7,452.8 592.4,452.5 593.1,452.4 593.8,452.5 594.5,452.8 595.2,453.3 595.9,452.5 596.6,452.2 597.3,452.2 598.0,452.2 598.7,452.3 599.4,452.5 600.1,452.0 600.8,453.1 601.5,452.7 602.2,452.7 602.9,452.3 603.6,451.8 604.3,452.6 605.0,453.0 605.7,452.9 606.4,452.5 607.1,452.6 607.8,453.8 608.5,453.7 609.5,451.5 609.6,378.0 610.6,387.1 611.1,390.7 611.6,394.2 612.1,397.3 612.6,400.3 613.1,403.1 613.6,405.8 614.1,408.3 614.6,410.5 615.1,412.8 615.6,414.7 616.1,416.6 616.6,418.4 617.1,419.8 617.6,421.6 618.1,423.1 618.6,424.7 619.1,426.0 619.6,427.1 620.1,428.2 620.6,429.3 621.1,430.3 621.6,431.1 622.1,432.1 622.6,433.2 623.1,434.3 623.6,435.6 624.1,436.5 624.6,437.4 625.1,437.6 625.6,438.0 626.1,438.4 626.6,438.8 627.1,439.2 627.6,439.6 628.1,440.6 628.6,440.6 629.1,440.7 629.6,441.5 630.1,441.6 630.6,441.9 631.1,442.4 631.6,442.4 632.1,442.4 632.6,443.3 633.1,444.1 633.6,444.1 634.1,444.7 634.6,444.4 635.1,444.4 635.6,445.0 636.1,444.6 636.6,444.7 637.1,445.4 637.6,445.6 638.1,446.2 638.6,446.5 639.1,446.2 639.6,446.2 640.1,446.0 640.6,446.7 641.1,446.4 641.6,446.6 642.1,446.7 642.6,446.8 643.1,447.4 643.6,447.4 644.1,447.1 644.6,446.8 645.1,446.8 645.6,447.3 646.1,447.3 646.6,446.9 647.1,446.5 647.6,446.4 648.1,447.2 648.6,447.5 649.1,447.7 649.6,448.0 650.1,447.4 650.6,448.0 651.1,448.5 651.6,448.6 652.1,449.4 652.6,449.1 653.1,448.3 653.6,448.5 654.1,448.2 654.6,448.8 655.1,449.3 655.6,448.5 656.1,448.2 656.6,447.7 657.1,447.5 657.6,447.9 658.1,448.2 658.6,448.1 659.1,447.9 659.6,447.2 660.1,447.1 660.6,447.2 661.1,447.5 661.6,448.6 662.1,448.5 662.6,448.7 663.1,449.1 663.6,448.8 664.2,461.3 665.0,459.3 665.7,458.2 666.4,457.3 667.1,457.0 667.8,456.8 668.5,456.6 669.2,456.0 669.9,455.0 670.6,455.0 671.3,454.6 672.0,454.8 672.7,454.3 673.4,454.3 674.1,454.1 674.8,454.1 675.5,454.2 676.2,453.8 676.9,453.7 677.6,453.3 678.3,453.0 679.0,453.1 679.7,453.8 680.4,453.5 681.1,452.9 681.8,453.8 682.5,453.7 683.2,454.1 683.9,453.5 684.6,454.1 685.3,454.0 686.0,453.2 686.7,454.1 687.4,454.6 688.1,454.5 688.8,453.5 689.5,452.7 690.2,452.8 690.9,453.1 691.6,452.4 692.3,453.0 693.0,452.7 693.7,453.2 694.4,453.1 695.1,453.8 695.8,453.3 696.5,453.4 697.2,453.4 697.9,453.8 698.6,454.2 699.3,453.3 700.0,453.1 700.7,452.5 701.4,452.5 702.1,453.5 702.8,453.4 703.5,454.7 704.2,453.4 704.9,452.8 705.6,452.6 706.3,452.6 707.0,453.7 707.7,452.5 708.4,453.2 709.1,453.3 709.8,453.7 710.5,452.9 711.2,452.0 711.9,452.7 712.6,453.4 713.3,454.0 714.0,453.4 714.7,453.5 715.4,453.0 716.1,452.4 716.8,452.6" fill="none" stroke="#000" stroke-width="0.9" stroke-linejoin="round"/>
<polyline points="423.3,452.5 424.0,452.5 424.7,452.2 425.4,452.3 426.1,452.7 426.8,452.1 427.5,451.8 428.2,451.8 428.9,451.9 429.6,452.5 430.3,452.9 431.0,452.5 431.7,452.1 432.4,452.7 433.1,453.1 433.8,452.4 434.5,452.2 435.2,452.3 435.9,452.3 436.6,452.6 437.3,452.5 438.0,452.4 438.7,452.6 439.4,452.7 440.1,452.4 440.8,452.2 441.5,452.8 442.2,452.8 442.9,452.4 443.6,452.5 444.5,452.4 444.5,508.3 445.4,497.5 446.1,491.8 446.8,488.4 447.5,485.9 448.2,483.6 448.9,482.1 449.6,480.6 450.3,479.3 451.0,477.9 451.7,476.0 452.4,475.4 453.1,473.8 453.8,472.5 454.5,471.8 455.2,471.6 455.9,471.5 456.6,469.9 457.3,469.1 458.0,469.0 458.7,469.2 459.4,468.1 460.1,468.0 460.8,469.2 461.5,468.7 462.2,467.5 462.9,466.3 463.6,466.0 464.3,466.1 465.0,464.2 465.7,463.5 466.4,462.9 467.1,463.6 467.8,463.3 468.5,462.6 469.2,461.9 469.9,462.3 470.6,462.7 471.3,462.2 472.0,462.4 472.7,462.7 473.4,464.7 474.1,465.7 474.8,466.5 475.5,466.3 476.2,463.2 476.9,461.2 477.6,459.1 478.3,457.8 479.0,457.0 479.7,457.3 480.4,457.5 481.1,458.2 481.8,457.2 482.5,457.2 483.2,457.3 483.9,456.6 484.6,457.5 485.3,457.2 486.0,458.0 486.7,457.7 487.4,458.1 488.1,457.4 488.8,455.9 489.5,454.5 490.2,454.0 490.9,454.5 491.6,453.9 492.3,454.4 493.0,454.9 493.7,455.6 494.4,456.6 495.1,455.9 495.8,456.1 496.5,455.0 497.2,455.0 497.9,454.5 498.6,453.2 499.3,453.7 500.0,453.0 500.7,453.4 501.4,453.9 502.1,454.3 502.8,455.5 503.5,455.1 504.2,455.0 504.9,454.9 505.6,453.2 506.3,451.4 507.0,449.2 507.7,447.3 508.4,446.8 509.1,445.9 509.8,447.3 510.5,450.2 511.2,451.9 511.9,453.8 512.6,453.2 513.3,453.8 514.0,453.6 514.7,452.9 515.4,454.3 516.1,453.5 516.8,455.3 517.5,456.2 518.2,456.6 518.9,455.3 519.6,453.9 520.3,453.7 521.0,452.8 521.7,452.1 522.4,453.3 523.1,454.0 523.8,453.2 524.5,453.6 525.2,453.6 525.9,454.5 526.6,453.9 527.3,454.3 528.0,456.0 528.7,455.0 529.4,454.4 530.1,452.9 530.8,452.0 531.5,450.8 532.2,450.2 532.9,450.9 533.6,450.3 534.3,450.2 535.0,450.7 535.7,452.2 536.4,453.1 537.1,455.2 537.8,456.4 538.5,456.4 539.2,454.8 539.9,454.4 540.6,452.5 541.3,450.2 542.0,449.5 542.7,450.0 543.4,452.2 544.1,452.1 544.8,452.5 545.5,452.3 546.2,451.8 546.9,451.6 547.6,451.1 548.3,451.8 549.0,452.0 549.7,452.8 550.4,453.4 551.1,453.0 551.8,452.6 552.5,451.5 553.2,452.4 553.9,451.6 554.6,452.2 555.3,452.3 556.0,453.1 556.7,453.6 557.4,452.6 558.1,452.9 558.8,452.3 559.5,452.9 560.2,452.2 560.9,451.5 561.6,451.0 562.3,451.1 563.0,452.1 563.7,452.0 564.4,452.1 565.1,452.8 565.8,453.9 566.5,453.9 567.2,453.1 567.9,453.5 568.6,453.7 569.3,454.3 570.0,453.8 570.7,453.1 571.4,452.7 572.1,452.9 572.8,453.5 573.5,452.7 574.2,452.5 574.9,453.7 575.6,453.8 576.3,452.6 577.0,452.2 577.7,452.1 578.4,452.2 579.1,451.5 579.8,452.2 580.5,453.2 581.2,452.9 581.9,453.4 582.6,452.5 583.3,452.5 584.0,452.0 584.7,450.8 585.4,450.4 586.1,450.0 586.8,451.3 587.5,450.7 588.2,451.1 588.9,451.4 589.6,451.7 590.3,452.3 591.0,452.1 591.7,453.3 592.4,453.2 593.1,453.1 593.8,453.1 594.5,452.8 595.2,452.6 595.9,451.6 596.6,451.7 597.3,452.1 598.0,453.3 598.7,454.0 599.4,453.6 600.1,453.9 600.8,453.2 601.5,452.9 602.2,451.9 602.9,451.6 603.6,451.6 604.3,451.5 605.0,451.2 605.7,451.4 606.4,450.8 607.1,450.0 607.8,449.9 608.5,450.2 609.5,451.5 609.6,382.0 610.6,385.2 611.1,388.9 611.6,392.4 612.1,395.7 612.6,398.9 613.1,401.8 613.6,404.5 614.1,407.0 614.6,409.3 615.1,411.5 615.6,413.8 616.1,416.0 616.6,417.8 617.1,419.5 617.6,421.0 618.1,422.6 618.6,424.0 619.1,425.5 619.6,426.7 620.1,428.0 620.6,429.0 621.1,430.0 621.6,431.0 622.1,432.2 622.6,433.9 623.1,434.6 623.6,435.5 624.1,435.6 624.6,436.0 625.1,436.8 625.6,437.3 626.1,438.4 626.6,438.8 627.1,439.6 627.6,440.0 628.1,440.3 628.6,441.2 629.1,441.4 629.6,441.9 630.1,442.4 630.6,442.2 631.1,442.9 631.6,443.1 632.1,443.5 632.6,443.5 633.1,443.4 633.6,443.5 634.1,443.1 634.6,443.4 635.1,443.5 635.6,443.8 636.1,443.9 636.6,444.3 637.1,444.8 637.6,444.9 638.1,445.7 638.6,446.7 639.1,446.6 639.6,446.8 640.1,446.2 640.6,445.2 641.1,445.2 641.6,445.1 642.1,445.8 642.6,446.7 643.1,446.8 643.6,447.2 644.1,446.9 644.6,446.8 645.1,446.5 645.6,446.6 646.1,447.1 646.6,446.5 647.1,446.8 647.6,446.9 648.1,446.8 648.6,447.5 649.1,447.5 649.6,447.8 650.1,447.8 650.6,447.9 651.1,448.4 651.6,448.3 652.1,448.4 652.6,448.3 653.1,448.1 653.6,447.5 654.1,447.6 654.6,448.1 655.1,447.8 655.6,448.4 656.1,448.2 656.6,447.6 657.1,447.8 657.6,447.3 658.1,447.5 658.6,447.7 659.1,448.0 659.6,448.9 660.1,448.8 660.6,448.6 661.1,448.8 661.6,448.5 662.1,448.4 662.6,448.5 663.1,448.2 663.6,448.8 664.2,457.3 665.0,456.2 665.7,455.6 666.4,455.2 667.1,455.1 667.8,454.6 668.5,454.6 669.2,454.7 669.9,454.7 670.6,454.2 671.3,453.7 672.0,453.4 672.7,453.4 673.4,453.2 674.1,453.7 674.8,453.5 675.5,453.5 676.2,453.9 676.9,453.7 677.6,453.1 678.3,452.6 679.0,452.0 679.7,452.7 680.4,453.0 681.1,453.8 681.8,453.7 682.5,452.4 683.2,452.6 683.9,452.7 684.6,453.1 685.3,453.6 686.0,452.9 686.7,452.7 687.4,451.1 688.1,451.6 688.8,452.4 689.5,453.4 690.2,453.2 690.9,452.7 691.6,452.9 692.3,452.6 693.0,452.5 693.7,452.7 694.4,453.1 695.1,453.8 695.8,453.5 696.5,453.2 697.2,452.8 697.9,452.8 698.6,452.7 699.3,453.1 700.0,452.8 700.7,452.5 701.4,452.8 702.1,452.3 702.8,452.9 703.5,452.5 704.2,453.6 704.9,453.0 705.6,452.8 706.3,452.2 707.0,452.7 707.7,453.3 708.4,453.5 709.1,453.4 709.8,453.5 710.5,454.2 711.2,453.7 711.9,453.2 712.6,452.7 713.3,453.3 714.0,453.9 714.7,453.4 715.4,452.9 716.1,452.7 716.8,451.7" fill="none" stroke="#000" stroke-width="0.9" stroke-linejoin="round"/>
<polyline points="423.3,452.3 424.0,452.7 424.7,452.6 425.4,452.1 426.1,452.0 426.8,452.6 427.5,452.7 428.2,452.1 428.9,452.1 429.6,452.4 430.3,452.5 431.0,452.9 431.7,452.8 432.4,452.0 433.1,452.4 433.8,452.8 434.5,452.5 435.2,452.3 435.9,452.0 436.6,452.5 437.3,452.4 438.0,451.9 438.7,452.0 439.4,452.5 440.1,452.8 440.8,452.3 441.5,452.4 442.2,453.0 442.9,452.6 443.6,452.0 444.5,452.4 444.5,500.3 445.4,490.5 446.1,484.6 446.8,480.4 447.5,477.4 448.2,475.3 448.9,472.9 449.6,472.3 450.3,470.6 451.0,469.2 451.7,467.6 452.4,466.2 453.1,467.0 453.8,467.4 454.5,466.4 455.2,466.3 455.9,466.3 456.6,465.2 457.3,462.6 458.0,459.9 458.7,460.5 459.4,460.7 460.1,459.8 460.8,460.8 461.5,462.0 462.2,462.4 462.9,461.3 463.6,458.8 464.3,459.4 465.0,458.3 465.7,458.5 466.4,457.8 467.1,458.4 467.8,460.4 468.5,461.2 469.2,461.0 469.9,460.4 470.6,459.9 471.3,459.4 472.0,460.2 472.7,458.2 473.4,460.2 474.1,460.3 474.8,460.1 475.5,459.4 476.2,458.2 476.9,459.8 477.6,457.0 478.3,456.7 479.0,456.4 479.7,456.2 480.4,454.6 481.1,453.5 481.8,454.7 482.5,454.9 483.2,454.6 483.9,455.1 484.6,456.5 485.3,456.4 486.0,456.5 486.7,456.1 487.4,457.0 488.1,457.3 488.8,456.0 489.5,455.5 490.2,454.2 490.9,454.4 491.6,453.6 492.3,453.1 493.0,453.4 493.7,453.0 494.4,453.9 495.1,452.9 495.8,452.9 496.5,451.1 497.2,450.2 497.9,451.2 498.6,450.5 499.3,451.5 500.0,450.8 500.7,451.3 501.4,451.2 502.1,450.6 502.8,450.4 503.5,451.5 504.2,453.6 504.9,455.4 505.6,455.6 506.3,455.6 507.0,455.6 507.7,453.8 508.4,452.1 509.1,451.4 509.8,451.8 510.5,451.7 511.2,450.6 511.9,450.6 512.6,451.3 513.3,451.7 514.0,450.9 514.7,451.1 515.4,452.5 516.1,451.9 516.8,451.5 517.5,451.4 518.2,452.3 518.9,453.4 519.6,452.9 520.3,454.0 521.0,454.3 521.7,454.3 522.4,453.9 523.1,453.0 523.8,453.7 524.5,455.2 525.2,455.9 525.9,455.5 526.6,456.9 527.3,455.8 528.0,455.7 528.7,455.2 529.4,452.8 530.1,453.6 530.8,452.9 531.5,453.2 532.2,453.6 532.9,451.5 533.6,453.6 534.3,452.8 535.0,453.1 535.7,452.7 536.4,452.5 537.1,454.0 537.8,452.6 538.5,453.8 539.2,452.2 539.9,454.7 540.6,455.8 541.3,454.5 542.0,456.6 542.7,455.6 543.4,456.7 544.1,455.4 544.8,452.5 545.5,452.9 546.2,451.9 546.9,452.0 547.6,450.7 548.3,450.5 549.0,451.9 549.7,451.6 550.4,452.0 551.1,452.0 551.8,453.0 552.5,453.1 553.2,453.0 553.9,452.6 554.6,452.6 555.3,452.2 556.0,452.3 556.7,452.0 557.4,451.3 558.1,452.4 558.8,452.2 559.5,452.2 560.2,451.4 560.9,451.8 561.6,452.2 562.3,452.5 563.0,451.3 563.7,450.7 564.4,450.6 565.1,448.9 565.8,448.7 566.5,448.8 567.2,449.6 567.9,450.9 568.6,451.5 569.3,452.7 570.0,453.6 570.7,453.2 571.4,454.1 572.1,453.4 572.8,453.4 573.5,453.3 574.2,452.8 574.9,453.2 575.6,452.8 576.3,452.9 577.0,453.6 577.7,453.8 578.4,453.4 579.1,453.6 579.8,453.2 580.5,453.6 581.2,452.6 581.9,452.2 582.6,452.8 583.3,451.9 584.0,451.9 584.7,451.5 585.4,450.8 586.1,451.4 586.8,450.9 587.5,451.5 588.2,452.2 588.9,452.0 589.6,453.2 590.3,452.8 591.0,453.7 591.7,453.9 592.4,452.5 593.1,453.0 593.8,452.0 594.5,452.9 595.2,451.7 595.9,451.7 596.6,453.2 597.3,452.5 598.0,453.3 598.7,453.0 599.4,452.6 600.1,453.3 600.8,452.6 601.5,453.0 602.2,452.9 602.9,453.0 603.6,453.9 604.3,452.4 605.0,452.9 605.7,451.6 606.4,451.9 607.1,450.6 607.8,451.1 608.5,452.0 609.5,451.5 609.6,385.0 610.6,386.2 611.1,389.9 611.6,393.4 612.1,396.6 612.6,399.7 613.1,402.5 613.6,405.0 614.1,407.7 614.6,409.9 615.1,412.0 615.6,414.2 616.1,415.9 616.6,417.6 617.1,419.5 617.6,420.7 618.1,422.7 618.6,424.5 619.1,426.0 619.6,427.7 620.1,428.9 620.6,430.2 621.1,431.3 621.6,432.0 622.1,432.9 622.6,433.8 623.1,434.6 623.6,435.4 624.1,436.1 624.6,436.7 625.1,437.5 625.6,437.9 626.1,438.3 626.6,438.8 627.1,439.2 627.6,439.8 628.1,440.6 628.6,440.8 629.1,441.3 629.6,441.5 630.1,442.0 630.6,442.2 631.1,442.3 631.6,443.5 632.1,443.7 632.6,444.2 633.1,444.5 633.6,444.0 634.1,443.6 634.6,443.5 635.1,443.2 635.6,443.6 636.1,444.2 636.6,444.3 637.1,445.1 637.6,444.8 638.1,444.8 638.6,445.3 639.1,445.7 639.6,446.2 640.1,446.3 640.6,446.2 641.1,446.5 641.6,446.1 642.1,446.6 642.6,446.4 643.1,445.8 643.6,446.5 644.1,446.3 644.6,446.6 645.1,447.1 645.6,447.2 646.1,447.2 646.6,447.5 647.1,447.9 647.6,447.7 648.1,448.0 648.6,448.0 649.1,447.7 649.6,447.8 650.1,447.7 650.6,447.8 651.1,447.6 651.6,447.5 652.1,447.5 652.6,447.4 653.1,447.8 653.6,447.8 654.1,447.9 654.6,448.1 655.1,447.8 655.6,448.1 656.1,448.0 656.6,448.1 657.1,448.4 657.6,448.3 658.1,448.5 658.6,448.2 659.1,448.7 659.6,448.6 660.1,448.9 660.6,449.2 661.1,448.6 661.6,448.6 662.1,448.6 662.6,448.8 663.1,449.0 663.6,448.8 664.2,467.3 665.0,463.9 665.7,461.9 666.4,460.7 667.1,459.9 667.8,459.3 668.5,458.6 669.2,457.9 669.9,457.4 670.6,457.1 671.3,456.9 672.0,456.3 672.7,455.8 673.4,455.6 674.1,455.2 674.8,454.9 675.5,454.2 676.2,455.1 676.9,455.3 677.6,455.5 678.3,455.1 679.0,454.8 679.7,454.5 680.4,454.1 681.1,453.9 681.8,455.2 682.5,454.8 683.2,453.8 683.9,452.8 684.6,452.6 685.3,453.0 686.0,453.1 686.7,453.2 687.4,453.2 688.1,452.7 688.8,452.5 689.5,453.2 690.2,452.9 690.9,453.3 691.6,453.6 692.3,454.5 693.0,453.7 693.7,452.9 694.4,452.1 695.1,453.1 695.8,453.1 696.5,452.9 697.2,453.2 697.9,453.7 698.6,454.1 699.3,452.8 700.0,452.3 700.7,451.8 701.4,453.2 702.1,453.4 702.8,454.0 703.5,453.6 704.2,453.7 704.9,453.1 705.6,453.0 706.3,452.9 707.0,452.4 707.7,452.6 708.4,452.6 709.1,453.5 709.8,453.3 710.5,452.8 711.2,453.2 711.9,452.9 712.6,452.7 713.3,453.1 714.0,453.5 714.7,454.0 715.4,453.4 716.1,453.3 716.8,453.8" fill="none" stroke="#000" stroke-width="0.9" stroke-linejoin="round"/>
<defs><pattern id="dots" width="1.5" height="1.5" patternUnits="userSpaceOnUse"><rect width="1.5" height="1.5" fill="#e4e4e4"/><rect width="0.75" height="0.75" fill="#6a6a6a"/><rect x="0.75" y="0.75" width="0.75" height="0.75" fill="#6a6a6a"/></pattern></defs>
<g transform="translate(150.70,25.90) rotate(76.50)"><rect x="-3.30" y="-3.30" width="52.88" height="6.60" rx="3.30" fill="url(#dots)" stroke="#000" stroke-width="1.0"/></g>
<g transform="translate(211.50,25.90) rotate(104.61)"><rect x="-3.30" y="-3.30" width="52.59" height="6.60" rx="3.30" fill="url(#dots)" stroke="#000" stroke-width="1.0"/></g>
<path d="M157.4,75.2 C161.5,75.3 166.3,74.6 166.2,71.2 C166.0,68.8 164.2,67.6 166.2,65.9 C174,61.3 187,61.3 194.6,66.0 C196.4,67.4 194.6,69.0 194.6,71.0 C194.8,74.4 199.0,75.2 203.6,75.2" fill="none" stroke="#000" stroke-width="2.3" stroke-linecap="round"/>
<text x="161.59" y="40.40" font-size="11.2" textLength="39.24" lengthAdjust="spacingAndGlyphs" style="stroke-width:0.1px">100 NaCl</text>
<text x="145.3" y="90.6" font-size="11.6" style="stroke-width:0.15px" transform="translate(145.3,0) scale(0.842,1) translate(-145.3,0)">0 Cl<tspan font-size="7" dy="-4.5">-</tspan><tspan dy="4.5"> </tspan><tspan font-style="italic">v.s.</tspan> 120 Cl<tspan font-size="7" dy="-4.5">-</tspan></text>
<text x="9.15" y="162.80" font-size="13.2" textLength="14.44" lengthAdjust="spacingAndGlyphs">[Cl</text>
<line x1="24.20" y1="153.90" x2="26.00" y2="153.90" stroke="#000" stroke-width="1.0"/>
<text x="27.02" y="162.80" font-size="13.2" textLength="6.75" lengthAdjust="spacingAndGlyphs">)]</text>
<text x="33.92" y="166.60" font-size="8.3" textLength="11.55" lengthAdjust="spacingAndGlyphs" style="stroke-width:0.1px">cyt</text>
<text x="49.85" y="162.80" font-size="13.2">= 0 mM</text>
<text x="8.05" y="369.00" font-size="13.2" textLength="14.44" lengthAdjust="spacingAndGlyphs">[Cl</text>
<line x1="23.10" y1="360.10" x2="24.90" y2="360.10" stroke="#000" stroke-width="1.0"/>
<text x="25.92" y="369.00" font-size="13.2" textLength="6.75" lengthAdjust="spacingAndGlyphs">)]</text>
<text x="32.82" y="372.80" font-size="8.3" textLength="11.55" lengthAdjust="spacingAndGlyphs" style="stroke-width:0.1px">cyt</text>
<text x="48.75" y="369.00" font-size="13.2">= 120 mM</text>
<text x="25.90" y="214.80" font-size="13.2">0</text>
<line x1="148.70" y1="314.20" x2="148.70" y2="351.00" stroke="#555" stroke-width="1.1"/>
<line x1="148.20" y1="350.50" x2="184.00" y2="350.50" stroke="#555" stroke-width="1.1"/>
<text x="102.00" y="337.10" font-size="13.2">100 pA</text>
<text x="147.80" y="368.80" font-size="13.0">100 ms</text>
<line x1="30.80" y1="496.10" x2="52.50" y2="496.10" stroke="#222" stroke-width="0.9"/>
<line x1="52.50" y1="491.50" x2="231.70" y2="491.50" stroke="#222" stroke-width="0.9"/>
<line x1="52.50" y1="496.10" x2="231.70" y2="496.10" stroke="#222" stroke-width="0.9"/>
<line x1="52.50" y1="500.50" x2="231.70" y2="500.50" stroke="#222" stroke-width="0.9"/>
<line x1="52.50" y1="504.60" x2="231.70" y2="504.60" stroke="#222" stroke-width="0.9"/>
<line x1="52.50" y1="508.90" x2="231.70" y2="508.90" stroke="#222" stroke-width="0.9"/>
<line x1="52.50" y1="513.50" x2="231.70" y2="513.50" stroke="#222" stroke-width="0.9"/>
<line x1="52.50" y1="491.50" x2="52.50" y2="513.50" stroke="#222" stroke-width="0.9"/>
<line x1="231.70" y1="487.20" x2="231.70" y2="513.50" stroke="#222" stroke-width="0.9"/>
<line x1="231.70" y1="487.20" x2="272.10" y2="487.20" stroke="#222" stroke-width="0.9"/>
<line x1="272.10" y1="487.20" x2="272.10" y2="496.20" stroke="#222" stroke-width="0.9"/>
<line x1="272.10" y1="496.20" x2="349.30" y2="496.20" stroke="#222" stroke-width="0.9"/>
<text x="1.50" y="491.30" font-size="13.1">0 mV</text>
<text x="121.15" y="486.20" font-size="13.3">+40 mV</text>
<text x="118.80" y="529.40" font-size="13.3">-160 mV</text>
<text x="228.45" y="479.80" font-size="13.4">+80 mV</text>
<text x="320.00" y="492.10" font-size="13.0">0 mV</text>
<polyline points="31.5,226.9 32.0,227.2 32.5,227.4 33.0,227.4 33.5,227.8 34.0,228.0 34.5,227.9 35.0,227.4 35.5,227.0 36.0,226.8 36.5,227.0 37.0,227.3 37.5,227.0 38.0,226.6 38.5,227.1 39.0,226.8 39.5,226.7 40.0,227.5 40.5,227.2 41.0,226.6 41.5,226.7 42.0,227.4 42.5,227.6 43.0,226.7 43.5,226.6 44.0,227.6 44.5,228.1 45.0,228.0 45.5,227.5 46.0,226.6 46.5,226.8 47.0,227.4 47.5,227.4 48.0,228.0 48.5,228.0 49.0,227.6 49.5,227.7 50.0,227.5 50.5,227.1 51.0,226.9 51.5,227.4 52.0,227.9 52.5,227.6 52.8,190.9 53.0,197.6 53.5,202.8 54.0,207.0 54.5,210.2 55.0,212.7 55.5,214.5 56.0,216.2 56.5,217.6 57.0,218.6 57.5,219.4 58.0,219.8 58.5,220.7 59.0,221.8 59.5,221.9 60.0,221.8 60.5,222.6 61.0,222.5 61.5,221.7 62.0,222.6 62.5,223.3 63.0,222.3 63.5,222.4 64.0,223.3 64.5,223.3 65.0,223.0 65.5,223.7 66.0,225.1 66.5,225.1 67.0,224.4 67.5,224.8 68.0,225.7 68.5,225.5 69.0,225.5 69.5,226.3 70.0,226.0 70.5,225.1 71.0,225.5 71.5,226.1 72.0,226.6 72.5,225.9 73.0,225.0 73.5,225.3 74.0,224.8 74.5,225.4 75.0,226.6 75.5,226.2 76.0,226.7 76.5,227.6 77.0,227.2 77.5,227.1 78.0,227.3 78.5,226.4 79.0,226.3 79.5,227.3 80.0,226.1 80.5,226.0 81.0,226.8 81.5,227.1 82.0,227.0 82.5,226.6 83.0,227.1 83.5,226.6 84.0,226.8 84.5,227.2 85.0,227.2 85.5,227.0 86.0,227.3 86.5,227.9 87.0,227.3 87.5,227.3 88.0,228.1 88.5,228.7 89.0,227.2 89.5,226.8 90.0,227.8 90.5,227.4 91.0,226.6 91.5,227.3 92.0,227.2 92.5,226.8 93.0,228.2 93.5,227.1 94.0,226.3 94.5,226.4 95.0,226.4 95.5,228.6 96.0,230.0 96.5,227.5 97.0,225.5 97.5,227.4 98.0,229.1 98.5,228.8 99.0,227.0 99.5,227.0 100.0,227.5 100.5,227.1 101.0,226.6 101.5,227.1 102.0,227.9 102.5,227.5 103.0,227.1 103.5,226.2 104.0,226.0 104.5,227.9 105.0,228.1 105.5,226.1 106.0,227.3 106.5,228.8 107.0,229.4 107.5,229.0 108.0,227.1 108.5,225.9 109.0,227.3 109.5,230.4 110.0,228.7 110.5,226.2 111.0,227.3 111.5,227.2 112.0,226.5 112.5,226.9 113.0,227.3 113.5,228.4 114.0,228.2 114.5,228.1 115.0,227.8 115.5,227.3 116.0,226.0 116.5,224.6 117.0,226.9 117.5,227.5 118.0,227.4 118.5,228.3 119.0,228.8 119.5,229.0 120.0,228.8 120.5,228.1 121.0,226.8 121.5,226.3 122.0,226.4 122.5,226.1 123.0,226.1 123.5,226.9 124.0,227.5 124.5,227.3 125.0,225.6 125.5,225.8 126.0,227.5 126.5,228.4 127.0,228.7 127.5,227.3 128.0,226.3 128.5,228.4 129.0,229.5 129.5,229.4 130.0,230.5 130.5,228.4 131.0,227.1 131.5,228.0 132.0,228.2 132.5,228.2 133.0,228.0 133.5,227.7 134.0,226.4 134.5,226.1 135.0,226.7 135.5,226.9 136.0,227.1 136.5,227.5 137.0,228.5 137.5,228.3 138.0,227.9 138.5,227.7 139.0,227.1 139.5,226.9 140.0,226.9 140.5,227.3 141.0,227.7 141.5,227.9 142.0,226.8 142.5,227.1 143.0,227.5 143.5,226.2 144.0,226.7 144.5,226.8 145.0,227.2 145.5,227.2 146.0,226.1 146.5,225.9 147.0,227.8 147.5,228.4 148.0,226.5 148.5,226.5 149.0,226.2 149.5,227.6 150.0,227.6 150.5,226.6 151.0,228.2 151.5,226.7 152.0,226.5 152.5,228.4 153.0,228.5 153.5,228.0 154.0,228.3 154.5,228.3 155.0,227.8 155.5,227.6 156.0,227.8 156.5,227.2 157.0,227.3 157.5,227.6 158.0,226.2 158.5,226.8 159.0,229.0 159.5,229.5 160.0,227.7 160.5,227.5 161.0,227.6 161.5,227.0 162.0,227.4 162.5,225.7 163.0,225.8 163.5,226.8 164.0,226.1 164.5,225.7 165.0,225.1 165.5,225.5 166.0,227.3 166.5,229.3 167.0,228.7 167.5,228.2 168.0,228.0 168.5,225.7 169.0,226.0 169.5,227.9 170.0,227.4 170.5,227.3 171.0,228.1 171.5,227.2 172.0,225.6 172.5,226.1 173.0,227.1 173.5,227.0 174.0,227.9 174.5,229.5 175.0,228.4 175.5,227.6 176.0,228.7 176.5,228.7 177.0,228.8 177.5,227.9 178.0,227.7 178.5,229.5 179.0,229.6 179.5,227.5 180.0,227.4 180.5,228.8 181.0,228.7 181.5,227.2 182.0,228.2 182.5,227.6 183.0,226.8 183.5,227.8 184.0,226.5 184.5,227.4 185.0,228.6 185.5,226.8 186.0,227.0 186.5,227.5 187.0,225.6 187.5,225.4 188.0,227.1 188.5,228.1 189.0,228.0 189.5,227.6 190.0,227.8 190.5,227.6 191.0,228.1 191.5,228.4 192.0,227.7 192.5,228.0 193.0,227.0 193.5,226.0 194.0,228.0 194.5,228.8 195.0,227.4 195.5,227.4 196.0,227.3 196.5,227.2 197.0,227.1 197.5,227.1 198.0,226.4 198.5,227.2 199.0,228.0 199.5,225.8 200.0,226.0 200.5,226.9 201.0,227.2 201.5,226.6 202.0,226.8 202.5,230.5 203.0,229.2 203.5,226.7 204.0,227.4 204.5,227.3 205.0,226.1 205.5,225.1 206.0,226.9 206.5,227.7 207.0,228.6 207.5,228.1 208.0,227.0 208.5,229.8 209.0,229.1 209.5,226.1 210.0,226.7 210.5,227.3 211.0,228.0 211.5,228.2 212.0,226.9 212.5,227.0 213.0,229.6 213.5,230.4 214.0,226.2 214.5,225.1 215.0,226.6 215.5,227.2 216.0,227.7 216.5,228.8 217.0,229.6 217.5,228.8 218.0,228.2 218.5,227.5 219.0,227.6 219.5,228.7 220.0,228.8 220.5,227.5 221.0,228.1 221.5,228.5 222.0,227.5 222.5,226.7 223.0,226.4 223.5,226.5 224.0,224.7 224.5,226.0 225.0,228.6 225.5,227.7 226.0,228.0 226.5,228.5 227.0,228.0 227.5,225.8 228.0,225.3 228.5,227.6 229.0,229.1 229.5,230.1 230.0,229.9 230.5,227.6 231.0,224.8 231.5,226.1 232.0,227.9 232.5,227.4 232.6,226.2 233.0,226.3 233.5,226.3 234.0,226.3 234.5,226.4 235.0,226.6 235.5,227.2 236.0,227.4 236.5,227.4 237.0,227.0 237.5,227.1 238.0,227.4 238.5,227.9 239.0,228.3 239.5,228.2 240.0,228.0 240.5,228.0 241.0,228.2 241.5,228.0 242.0,227.8 242.5,227.8 243.0,227.8 243.5,227.8 244.0,227.8 244.5,227.8 245.0,228.1 245.5,227.9 246.0,227.9 246.5,228.2 247.0,227.9 247.5,227.7 248.0,227.8 248.5,228.1 249.0,228.1 249.5,228.1 250.0,228.1 250.5,228.6 251.0,228.7 251.5,228.1 252.0,228.3 252.5,228.4 253.0,228.3 253.5,228.5 254.0,228.2 254.5,227.6 255.0,227.6 255.5,228.2 256.0,228.2 256.5,228.2 257.0,228.5 257.5,228.3 258.0,228.4 258.5,228.9 259.0,228.8 259.5,228.7 260.0,228.7 260.5,229.0 261.0,228.8 261.5,228.2 262.0,228.3 262.5,228.1 263.0,227.6 263.5,227.6 264.0,228.1 264.5,228.4 265.0,227.9 265.5,227.4 266.0,227.7 266.5,228.1 267.0,228.1 267.5,228.3 268.0,228.7 268.5,228.6 269.0,228.4 269.5,228.1 270.0,227.7 270.5,228.0 271.0,228.4 271.5,228.5 272.0,228.5 272.5,227.4 273.0,262.3 273.5,252.9 274.0,246.9 274.5,243.1 275.0,240.6 275.5,238.9 276.0,237.8 276.5,236.8 277.0,236.2 277.5,235.7 278.0,235.2 278.5,234.7 279.0,234.1 279.5,233.9 280.0,233.6 280.5,233.7 281.0,233.3 281.5,233.4 282.0,233.2 282.5,233.0 283.0,232.7 283.5,232.1 284.0,232.0 284.5,231.3 285.0,231.3 285.5,231.1 286.0,231.3 286.5,231.0 287.0,230.4 287.5,230.1 288.0,230.4 288.5,230.6 289.0,230.5 289.5,229.9 290.0,229.7 290.5,229.3 291.0,229.4 291.5,228.9 292.0,229.4 292.5,229.5 293.0,229.7 293.5,229.5 294.0,229.2 294.5,229.1 295.0,229.3 295.5,229.4 296.0,229.4 296.5,229.0 297.0,229.2 297.5,229.1 298.0,229.3 298.5,229.1 299.0,229.3 299.5,228.9 300.0,228.7 300.5,228.2 301.0,228.4 301.5,228.2 302.0,228.2 302.5,228.2 303.0,228.6 303.5,228.9 304.0,228.0 304.5,227.5 305.0,227.0 305.5,227.4 306.0,227.5 306.5,228.2 307.0,228.4 307.5,228.3 308.0,228.0 308.5,228.1 309.0,228.2 309.5,227.9 310.0,227.9 310.5,227.9 311.0,227.6 311.5,227.2 312.0,227.3 312.5,228.0 313.0,228.3 313.5,227.7 314.0,227.5 314.5,227.3 315.0,227.5 315.5,227.9 316.0,228.2 316.5,228.6 317.0,228.1 317.5,228.2 318.0,228.2 318.5,227.9 319.0,227.7 319.5,227.4 320.0,227.8 320.5,228.2 321.0,228.4 321.5,228.0 322.0,227.5 322.5,227.1 323.0,227.3 323.5,227.8 324.0,227.8 324.5,228.1 325.0,227.4 325.5,227.9 326.0,227.9 326.5,228.1 327.0,227.9 327.5,228.0 328.0,227.8 328.5,227.6 329.0,227.1 329.5,227.6 330.0,227.7 330.5,227.7 331.0,227.3 331.5,228.0 332.0,228.2 332.5,228.5 333.0,228.0 333.5,228.0 334.0,227.7 334.5,227.5 335.0,227.4 335.5,227.0 336.0,227.7 336.5,228.0 337.0,228.6 337.5,227.9 338.0,227.5 338.5,227.7 339.0,227.7 339.5,228.0 340.0,227.4 340.5,227.6 341.0,228.0 341.5,228.2 342.0,228.3 342.5,227.8 343.0,228.2 343.5,228.3 344.0,228.3 344.5,227.8 345.0,227.7 345.5,227.7 346.0,227.6 346.5,227.7 347.0,227.8 347.5,227.7 348.0,227.6 348.5,228.2 349.0,228.6" fill="none" stroke="#333" stroke-width="0.7" stroke-linejoin="round"/>
<polyline points="31.5,228.1 32.0,227.9 32.5,227.6 33.0,227.4 33.5,227.0 34.0,226.9 34.5,226.9 35.0,227.4 35.5,227.6 36.0,227.4 36.5,227.3 37.0,226.9 37.5,226.7 38.0,226.8 38.5,227.3 39.0,227.6 39.5,227.3 40.0,227.2 40.5,226.9 41.0,227.3 41.5,227.4 42.0,227.1 42.5,228.0 43.0,227.3 43.5,226.3 44.0,226.8 44.5,227.2 45.0,226.9 45.5,226.8 46.0,227.3 46.5,227.4 47.0,226.8 47.5,226.9 48.0,228.0 48.5,228.0 49.0,227.3 49.5,227.0 50.0,226.5 50.5,226.8 51.0,228.0 51.5,228.0 52.0,226.7 52.5,227.4 53.0,227.4 53.5,227.5 54.0,227.3 54.5,227.3 55.0,227.2 55.5,227.3 56.0,227.5 56.5,227.5 57.0,227.5 57.5,227.3 58.0,225.6 58.5,227.4 59.0,228.8 59.5,229.1 60.0,229.2 60.5,227.5 61.0,227.5 61.5,228.4 62.0,227.9 62.5,227.1 63.0,227.0 63.5,227.3 64.0,227.8 64.5,227.9 65.0,228.3 65.5,227.8 66.0,227.2 66.5,227.9 67.0,227.2 67.5,226.3 68.0,227.3 68.5,228.2 69.0,227.6 69.5,227.5 70.0,227.2 70.5,227.2 71.0,227.2 71.5,227.2 72.0,228.0 72.5,227.7 73.0,227.7 73.5,227.3 74.0,226.7 74.5,226.5 75.0,226.6 75.5,227.4 76.0,227.3 76.5,227.2 77.0,228.0 77.5,228.9 78.0,227.5 78.5,227.4 79.0,227.1 79.5,226.1 80.0,226.9 80.5,227.4 81.0,226.9 81.5,226.4 82.0,227.1 82.5,227.1 83.0,226.7 83.5,227.4 84.0,228.3 84.5,227.9 85.0,227.4 85.5,227.4 86.0,227.1 86.5,226.9 87.0,226.6 87.5,227.2 88.0,227.7 88.5,227.3 89.0,227.4 89.5,227.8 90.0,228.4 90.5,228.0 91.0,227.0 91.5,227.3 92.0,227.1 92.5,227.6 93.0,228.6 93.5,228.3 94.0,227.7 94.5,227.7 95.0,228.8 95.5,228.6 96.0,227.6 96.5,225.8 97.0,226.8 97.5,227.9 98.0,226.4 98.5,227.4 99.0,228.4 99.5,226.5 100.0,226.2 100.5,227.1 101.0,228.0 101.5,226.7 102.0,225.6 102.5,227.0 103.0,228.4 103.5,227.7 104.0,224.2 104.5,223.9 105.0,226.5 105.5,228.3 106.0,229.4 106.5,229.1 107.0,227.1 107.5,227.5 108.0,228.1 108.5,227.2 109.0,227.3 109.5,228.4 110.0,227.7 110.5,225.8 111.0,226.5 111.5,227.3 112.0,226.7 112.5,226.0 113.0,227.0 113.5,228.8 114.0,229.1 114.5,228.5 115.0,229.0 115.5,226.8 116.0,224.6 116.5,225.6 117.0,225.9 117.5,225.6 118.0,226.7 118.5,226.4 119.0,226.0 119.5,225.4 120.0,225.0 120.5,227.7 121.0,228.0 121.5,227.2 122.0,228.2 122.5,227.6 123.0,227.5 123.5,228.0 124.0,228.1 124.5,227.4 125.0,225.7 125.5,225.4 126.0,226.1 126.5,227.4 127.0,227.7 127.5,226.9 128.0,226.9 128.5,228.1 129.0,227.8 129.5,228.2 130.0,227.6 130.5,225.9 131.0,227.6 131.5,228.5 132.0,227.1 132.5,226.6 133.0,226.7 133.5,227.5 134.0,228.5 134.5,227.3 135.0,227.1 135.5,227.4 136.0,227.0 136.5,227.4 137.0,227.0 137.5,227.3 138.0,228.1 138.5,228.1 139.0,228.6 139.5,228.1 140.0,226.0 140.5,225.8 141.0,227.2 141.5,227.6 142.0,227.9 142.5,228.5 143.0,228.0 143.5,227.2 144.0,226.5 144.5,227.4 145.0,228.0 145.5,226.3 146.0,225.6 146.5,226.2 147.0,228.3 147.5,229.3 148.0,226.7 148.5,225.9 149.0,227.5 149.5,228.1 150.0,228.2 150.5,227.2 151.0,227.2 151.5,227.3 152.0,225.1 152.5,225.0 153.0,226.3 153.5,227.6 154.0,229.0 154.5,227.4 155.0,226.7 155.5,227.6 156.0,226.3 156.5,224.6 157.0,225.7 157.5,227.4 158.0,227.0 158.5,224.7 159.0,225.2 159.5,226.9 160.0,226.2 160.5,226.4 161.0,226.2 161.5,226.9 162.0,227.9 162.5,227.0 163.0,227.2 163.5,227.6 164.0,226.2 164.5,226.1 165.0,226.9 165.5,225.6 166.0,225.5 166.5,227.2 167.0,227.2 167.5,228.0 168.0,229.9 168.5,228.5 169.0,227.6 169.5,229.5 170.0,228.7 170.5,226.4 171.0,226.3 171.5,226.0 172.0,225.2 172.5,226.5 173.0,227.2 173.5,227.3 174.0,228.0 174.5,227.2 175.0,226.6 175.5,227.0 176.0,226.6 176.5,226.2 177.0,227.0 177.5,227.5 178.0,227.6 178.5,228.5 179.0,229.0 179.5,227.3 180.0,225.8 180.5,226.5 181.0,227.3 181.5,228.3 182.0,227.4 182.5,226.3 183.0,227.2 183.5,228.6 184.0,229.5 184.5,227.7 185.0,226.4 185.5,226.6 186.0,227.4 186.5,228.4 187.0,227.5 187.5,226.6 188.0,227.1 188.5,228.4 189.0,227.6 189.5,226.5 190.0,227.2 190.5,227.5 191.0,227.7 191.5,226.9 192.0,226.1 192.5,225.2 193.0,225.8 193.5,228.3 194.0,226.6 194.5,225.2 195.0,227.6 195.5,228.0 196.0,225.8 196.5,226.8 197.0,227.2 197.5,227.4 198.0,228.0 198.5,226.4 199.0,226.9 199.5,227.4 200.0,227.9 200.5,228.3 201.0,227.7 201.5,228.3 202.0,229.0 202.5,228.2 203.0,227.7 203.5,227.4 204.0,227.3 204.5,227.9 205.0,228.3 205.5,227.8 206.0,228.2 206.5,228.0 207.0,227.5 207.5,228.4 208.0,227.2 208.5,226.3 209.0,228.5 209.5,228.0 210.0,227.6 210.5,227.5 211.0,226.9 211.5,226.9 212.0,226.0 212.5,226.6 213.0,226.7 213.5,227.8 214.0,228.9 214.5,228.8 215.0,228.3 215.5,228.9 216.0,229.5 216.5,228.5 217.0,226.8 217.5,227.1 218.0,228.5 218.5,228.0 219.0,228.1 219.5,228.6 220.0,227.8 220.5,227.6 221.0,228.1 221.5,227.9 222.0,227.4 222.5,226.8 223.0,227.1 223.5,228.6 224.0,230.4 224.5,229.0 225.0,226.3 225.5,226.3 226.0,226.5 226.5,226.4 227.0,227.4 227.5,227.0 228.0,227.2 228.5,228.5 229.0,229.3 229.5,230.1 230.0,229.7 230.5,230.0 231.0,228.8 231.5,227.2 232.0,227.8 232.5,227.4 232.6,217.6 233.0,217.6 233.5,217.9 234.0,219.0 234.5,220.5 235.0,221.3 235.5,221.7 236.0,222.6 236.5,223.7 237.0,224.6 237.5,225.1 238.0,225.4 238.5,225.5 239.0,225.3 239.5,225.3 240.0,225.5 240.5,226.1 241.0,226.6 241.5,226.6 242.0,226.9 242.5,227.3 243.0,227.1 243.5,227.0 244.0,227.7 244.5,228.0 245.0,227.5 245.5,227.3 246.0,227.9 246.5,228.1 247.0,228.0 247.5,228.4 248.0,227.7 248.5,227.7 249.0,228.2 249.5,227.7 250.0,227.7 250.5,228.1 251.0,228.3 251.5,228.3 252.0,228.0 252.5,228.2 253.0,228.7 253.5,228.8 254.0,228.7 254.5,228.8 255.0,229.0 255.5,228.8 256.0,228.5 256.5,228.5 257.0,228.4 257.5,228.5 258.0,228.0 258.5,227.7 259.0,228.2 259.5,227.8 260.0,227.4 260.5,228.2 261.0,228.3 261.5,227.9 262.0,228.2 262.5,228.2 263.0,227.9 263.5,227.9 264.0,228.0 264.5,228.0 265.0,228.1 265.5,228.6 266.0,228.6 266.5,228.6 267.0,228.7 267.5,228.5 268.0,228.5 268.5,228.3 269.0,228.2 269.5,228.4 270.0,228.0 270.5,228.1 271.0,228.5 271.5,228.4 272.0,228.2 272.5,227.4 273.0,262.3 273.5,252.8 274.0,246.9 274.5,243.1 275.0,240.7 275.5,239.0 276.0,237.7 276.5,236.8 277.0,236.2 277.5,235.6 278.0,235.2 278.5,234.6 279.0,234.2 279.5,233.8 280.0,233.6 280.5,233.3 281.0,233.1 281.5,232.7 282.0,232.5 282.5,232.1 283.0,231.9 283.5,231.9 284.0,231.8 284.5,231.6 285.0,231.7 285.5,231.5 286.0,231.0 286.5,230.2 287.0,230.6 287.5,231.2 288.0,230.9 288.5,230.5 289.0,230.0 289.5,230.0 290.0,229.4 290.5,229.5 291.0,229.3 291.5,229.7 292.0,229.4 292.5,229.9 293.0,230.0 293.5,229.6 294.0,229.1 294.5,229.0 295.0,228.9 295.5,228.8 296.0,228.6 296.5,228.5 297.0,228.2 297.5,227.8 298.0,228.1 298.5,228.2 299.0,228.7 299.5,228.6 300.0,228.8 300.5,228.6 301.0,228.7 301.5,228.5 302.0,228.3 302.5,228.3 303.0,228.5 303.5,229.2 304.0,228.9 304.5,228.5 305.0,227.7 305.5,226.9 306.0,226.7 306.5,227.1 307.0,227.7 307.5,227.4 308.0,227.5 308.5,227.5 309.0,228.0 309.5,227.7 310.0,227.8 310.5,228.0 311.0,227.7 311.5,227.6 312.0,227.4 312.5,228.0 313.0,227.8 313.5,228.3 314.0,228.2 314.5,228.7 315.0,228.2 315.5,228.2 316.0,228.0 316.5,227.8 317.0,227.6 317.5,227.4 318.0,227.5 318.5,227.4 319.0,227.1 319.5,227.2 320.0,227.5 320.5,227.6 321.0,227.4 321.5,227.5 322.0,227.6 322.5,227.9 323.0,227.7 323.5,227.6 324.0,227.7 324.5,227.7 325.0,227.8 325.5,227.4 326.0,227.1 326.5,227.0 327.0,227.7 327.5,228.1 328.0,228.6 328.5,228.3 329.0,228.3 329.5,227.8 330.0,227.7 330.5,228.0 331.0,228.4 331.5,228.2 332.0,227.8 332.5,227.8 333.0,227.8 333.5,228.1 334.0,227.6 334.5,227.9 335.0,228.0 335.5,228.4 336.0,228.3 336.5,228.0 337.0,227.8 337.5,227.7 338.0,227.9 338.5,228.2 339.0,228.3 339.5,227.8 340.0,227.4 340.5,227.4 341.0,227.7 341.5,227.5 342.0,227.6 342.5,228.1 343.0,228.1 343.5,228.0 344.0,227.8 344.5,228.0 345.0,227.9 345.5,227.6 346.0,227.8 346.5,227.8 347.0,227.9 347.5,227.4 348.0,227.6 348.5,227.5 349.0,227.9" fill="none" stroke="#333" stroke-width="0.7" stroke-linejoin="round"/>
<polyline points="31.5,227.3 32.0,227.0 32.5,227.2 33.0,228.1 33.5,227.9 34.0,227.5 34.5,227.9 35.0,227.8 35.5,227.7 36.0,227.5 36.5,227.7 37.0,227.6 37.5,227.7 38.0,227.7 38.5,227.9 39.0,228.4 39.5,228.0 40.0,227.3 40.5,227.5 41.0,227.0 41.5,226.9 42.0,227.3 42.5,227.0 43.0,226.6 43.5,226.8 44.0,227.5 44.5,227.4 45.0,226.9 45.5,226.9 46.0,227.2 46.5,227.0 47.0,226.8 47.5,226.9 48.0,227.0 48.5,227.9 49.0,228.0 49.5,228.1 50.0,227.8 50.5,226.8 51.0,226.9 51.5,227.3 52.0,227.6 52.5,227.5 53.0,237.9 53.1,240.0 53.5,239.6 54.0,238.9 54.5,238.3 55.0,237.7 55.5,237.1 56.0,236.6 56.5,236.3 57.0,235.6 57.5,235.1 58.0,235.4 58.5,233.5 59.0,233.3 59.5,233.6 60.0,232.8 60.5,232.4 61.0,232.0 61.5,232.1 62.0,232.2 62.5,231.0 63.0,230.5 63.5,230.4 64.0,229.6 64.5,230.0 65.0,231.1 65.5,231.5 66.0,230.4 66.5,229.5 67.0,229.2 67.5,229.5 68.0,230.5 68.5,230.2 69.0,230.0 69.5,230.0 70.0,230.4 70.5,228.9 71.0,226.6 71.5,227.6 72.0,229.2 72.5,229.0 73.0,228.8 73.5,228.3 74.0,227.2 74.5,227.4 75.0,228.6 75.5,229.4 76.0,228.4 76.5,228.0 77.0,228.0 77.5,227.9 78.0,227.5 78.5,227.5 79.0,227.6 79.5,227.6 80.0,227.6 80.5,227.1 81.0,227.5 81.5,227.8 82.0,227.7 82.5,227.6 83.0,228.0 83.5,227.7 84.0,227.8 84.5,229.0 85.0,228.4 85.5,228.6 86.0,230.0 86.5,229.2 87.0,227.1 87.5,225.9 88.0,226.6 88.5,228.6 89.0,229.0 89.5,228.4 90.0,227.9 90.5,227.0 91.0,227.4 91.5,227.1 92.0,226.8 92.5,227.7 93.0,227.9 93.5,227.9 94.0,227.6 94.5,227.6 95.0,228.4 95.5,226.4 96.0,225.1 96.5,225.9 97.0,224.6 97.5,222.0 98.0,225.2 98.5,227.9 99.0,228.2 99.5,228.9 100.0,227.8 100.5,225.5 101.0,226.6 101.5,227.9 102.0,227.3 102.5,227.3 103.0,226.3 103.5,225.1 104.0,227.0 104.5,229.3 105.0,229.3 105.5,228.5 106.0,227.9 106.5,227.3 107.0,227.1 107.5,227.1 108.0,226.6 108.5,227.1 109.0,229.1 109.5,227.3 110.0,226.3 110.5,228.6 111.0,226.9 111.5,226.6 112.0,227.8 112.5,227.1 113.0,226.6 113.5,225.7 114.0,227.7 114.5,231.1 115.0,230.9 115.5,228.6 116.0,227.4 116.5,228.0 117.0,227.0 117.5,226.4 118.0,227.7 118.5,227.5 119.0,225.5 119.5,224.7 120.0,226.5 120.5,227.3 121.0,226.8 121.5,228.4 122.0,228.7 122.5,226.8 123.0,226.7 123.5,229.3 124.0,228.3 124.5,228.0 125.0,230.3 125.5,228.6 126.0,227.0 126.5,229.4 127.0,234.8 127.5,234.1 128.0,230.5 128.5,229.2 129.0,227.9 129.5,227.7 130.0,227.2 130.5,227.2 131.0,227.2 131.5,227.5 132.0,228.8 132.5,229.3 133.0,229.4 133.5,229.8 134.0,229.4 134.5,227.5 135.0,227.7 135.5,226.8 136.0,225.3 136.5,227.0 137.0,226.2 137.5,224.6 138.0,223.3 138.5,223.8 139.0,225.4 139.5,226.0 140.0,226.7 140.5,228.2 141.0,233.9 141.5,234.8 142.0,229.3 142.5,226.7 143.0,227.0 143.5,227.2 144.0,225.0 144.5,226.8 145.0,227.6 145.5,224.4 146.0,219.4 146.5,215.7 147.0,218.3 147.5,222.6 148.0,227.6 148.5,229.6 149.0,228.8 149.5,227.2 150.0,226.7 150.5,228.4 151.0,229.1 151.5,227.2 152.0,227.5 152.5,226.7 153.0,226.6 153.5,226.3 154.0,228.5 154.5,231.8 155.0,228.9 155.5,228.3 156.0,227.4 156.5,227.6 157.0,230.0 157.5,228.1 158.0,227.3 158.5,227.9 159.0,224.5 159.5,224.0 160.0,225.9 160.5,227.2 161.0,227.8 161.5,227.4 162.0,228.4 162.5,229.4 163.0,229.1 163.5,226.7 164.0,226.7 164.5,227.8 165.0,228.1 165.5,228.2 166.0,228.5 166.5,229.1 167.0,227.9 167.5,227.7 168.0,226.1 168.5,226.3 169.0,228.0 169.5,226.5 170.0,226.8 170.5,228.1 171.0,228.0 171.5,227.6 172.0,228.0 172.5,228.8 173.0,228.2 173.5,227.4 174.0,226.9 174.5,226.5 175.0,227.4 175.5,227.5 176.0,225.6 176.5,226.4 177.0,228.6 177.5,228.1 178.0,227.9 178.5,228.6 179.0,226.9 179.5,225.5 180.0,219.6 180.5,218.6 181.0,222.8 181.5,225.6 182.0,228.8 182.5,227.2 183.0,227.5 183.5,228.2 184.0,227.4 184.5,228.3 185.0,229.4 185.5,228.8 186.0,228.2 186.5,228.4 187.0,227.2 187.5,228.2 188.0,229.6 188.5,228.2 189.0,228.5 189.5,228.9 190.0,227.4 190.5,227.8 191.0,228.4 191.5,228.0 192.0,228.8 192.5,229.1 193.0,230.0 193.5,229.3 194.0,227.5 194.5,226.6 195.0,226.2 195.5,227.5 196.0,228.4 196.5,227.1 197.0,226.1 197.5,226.5 198.0,228.5 198.5,228.0 199.0,227.0 199.5,226.3 200.0,225.8 200.5,228.5 201.0,226.9 201.5,223.5 202.0,223.6 202.5,225.8 203.0,226.5 203.5,226.5 204.0,227.2 204.5,228.0 205.0,228.4 205.5,227.9 206.0,227.1 206.5,227.4 207.0,227.2 207.5,226.2 208.0,226.3 208.5,227.4 209.0,230.0 209.5,229.4 210.0,229.1 210.5,228.3 211.0,226.0 211.5,235.4 212.0,238.1 212.5,230.3 213.0,229.6 213.5,228.7 214.0,228.3 214.5,228.7 215.0,226.0 215.5,229.2 216.0,230.4 216.5,227.1 217.0,228.1 217.5,227.7 218.0,228.4 218.5,227.8 219.0,224.0 219.5,223.7 220.0,226.0 220.5,227.6 221.0,229.5 221.5,228.2 222.0,227.3 222.5,227.4 223.0,227.4 223.5,228.6 224.0,229.1 224.5,226.7 225.0,224.9 225.5,226.6 226.0,225.7 226.5,223.7 227.0,225.5 227.5,226.9 228.0,228.7 228.5,228.8 229.0,230.8 229.5,230.8 230.0,228.4 230.5,232.4 231.0,232.2 231.5,228.9 232.0,228.8 232.5,227.4 232.6,202.2 233.0,202.2 233.5,202.5 234.0,205.1 234.5,207.7 235.0,209.0 235.5,210.4 236.0,212.3 236.5,214.1 237.0,215.9 237.5,217.1 238.0,217.8 238.5,218.8 239.0,219.8 239.5,220.5 240.0,221.1 240.5,221.5 241.0,222.5 241.5,223.3 242.0,223.5 242.5,223.9 243.0,224.1 243.5,224.5 244.0,225.2 244.5,225.8 245.0,226.1 245.5,225.9 246.0,226.6 246.5,227.2 247.0,226.9 247.5,226.7 248.0,226.6 248.5,227.0 249.0,226.8 249.5,226.6 250.0,227.2 250.5,228.0 251.0,228.1 251.5,227.4 252.0,227.0 252.5,227.6 253.0,227.7 253.5,227.5 254.0,228.2 254.5,228.3 255.0,227.8 255.5,227.6 256.0,228.0 256.5,228.6 257.0,228.1 257.5,227.5 258.0,227.6 258.5,228.3 259.0,228.5 259.5,227.9 260.0,227.9 260.5,228.3 261.0,228.3 261.5,228.1 262.0,228.2 262.5,228.0 263.0,227.9 263.5,227.7 264.0,227.5 264.5,227.4 265.0,227.8 265.5,228.4 266.0,228.3 266.5,228.3 267.0,228.3 267.5,228.0 268.0,228.0 268.5,228.1 269.0,228.0 269.5,227.6 270.0,227.5 270.5,228.1 271.0,228.2 271.5,227.9 272.0,227.6 272.5,227.4 273.0,262.3 273.5,252.8 274.0,246.9 274.5,243.2 275.0,240.7 275.5,239.0 276.0,237.6 276.5,236.8 277.0,236.1 277.5,235.6 278.0,235.0 278.5,234.7 279.0,234.3 279.5,233.9 280.0,233.7 280.5,233.3 281.0,233.0 281.5,232.6 282.0,232.3 282.5,232.1 283.0,232.1 283.5,231.8 284.0,231.4 284.5,231.6 285.0,231.4 285.5,231.4 286.0,231.0 286.5,231.2 287.0,231.0 287.5,230.4 288.0,230.8 288.5,231.0 289.0,230.8 289.5,230.2 290.0,229.6 290.5,229.6 291.0,229.6 291.5,229.2 292.0,229.5 292.5,229.2 293.0,229.4 293.5,229.3 294.0,229.6 294.5,229.2 295.0,229.2 295.5,229.2 296.0,229.3 296.5,229.5 297.0,229.0 297.5,228.8 298.0,228.4 298.5,228.4 299.0,228.9 299.5,228.8 300.0,229.4 300.5,228.7 301.0,228.3 301.5,228.2 302.0,228.2 302.5,228.7 303.0,228.1 303.5,228.4 304.0,228.4 304.5,228.6 305.0,228.2 305.5,227.7 306.0,228.0 306.5,228.4 307.0,228.7 307.5,228.4 308.0,228.4 308.5,228.1 309.0,227.8 309.5,227.8 310.0,227.9 310.5,227.6 311.0,227.5 311.5,227.7 312.0,228.8 312.5,228.4 313.0,228.1 313.5,227.7 314.0,228.3 314.5,228.1 315.0,228.0 315.5,227.7 316.0,227.9 316.5,227.6 317.0,227.8 317.5,227.7 318.0,227.9 318.5,227.8 319.0,228.1 319.5,228.5 320.0,228.5 320.5,228.1 321.0,227.5 321.5,227.4 322.0,227.1 322.5,227.2 323.0,227.2 323.5,227.9 324.0,227.9 324.5,228.3 325.0,228.2 325.5,228.1 326.0,227.7 326.5,227.4 327.0,227.4 327.5,227.7 328.0,227.7 328.5,227.7 329.0,227.2 329.5,227.8 330.0,227.8 330.5,228.0 331.0,227.3 331.5,227.5 332.0,227.3 332.5,227.4 333.0,226.7 333.5,226.5 334.0,226.7 334.5,227.5 335.0,227.5 335.5,227.5 336.0,227.3 336.5,228.7 337.0,228.3 337.5,228.1 338.0,226.9 338.5,227.4 339.0,227.9 339.5,228.1 340.0,228.3 340.5,228.6 341.0,228.6 341.5,228.3 342.0,227.7 342.5,227.6 343.0,227.3 343.5,227.3 344.0,227.1 344.5,227.2 345.0,227.5 345.5,227.6 346.0,227.5 346.5,227.0 347.0,227.4 347.5,227.5 348.0,228.0 348.5,227.8 349.0,227.5" fill="none" stroke="#111" stroke-width="0.8" stroke-linejoin="round"/>
<polyline points="31.5,226.7 32.0,227.4 32.5,227.3 33.0,226.7 33.5,226.9 34.0,227.8 34.5,227.6 35.0,226.8 35.5,227.2 36.0,227.5 36.5,227.6 37.0,227.3 37.5,226.9 38.0,226.6 38.5,227.0 39.0,227.4 39.5,227.5 40.0,227.6 40.5,227.9 41.0,228.1 41.5,227.7 42.0,227.5 42.5,227.2 43.0,227.1 43.5,227.1 44.0,227.8 44.5,227.9 45.0,227.1 45.5,227.3 46.0,227.7 46.5,227.3 47.0,226.1 47.5,226.5 48.0,227.7 48.5,227.5 49.0,227.4 49.5,227.7 50.0,227.8 50.5,227.4 51.0,227.0 51.5,227.9 52.0,228.2 52.5,227.4 53.0,255.2 53.1,260.6 53.5,259.4 54.0,257.9 54.5,256.2 55.0,254.7 55.5,253.3 56.0,252.1 56.5,251.1 57.0,250.1 57.5,248.9 58.0,247.2 58.5,247.6 59.0,247.5 59.5,245.0 60.0,243.6 60.5,243.0 61.0,242.4 61.5,242.4 62.0,241.4 62.5,240.5 63.0,240.3 63.5,239.9 64.0,238.7 64.5,237.6 65.0,238.5 65.5,238.1 66.0,236.5 66.5,236.4 67.0,235.6 67.5,234.7 68.0,235.6 68.5,236.3 69.0,234.3 69.5,233.3 70.0,232.8 70.5,231.6 71.0,232.1 71.5,233.6 72.0,233.3 72.5,233.0 73.0,232.2 73.5,231.2 74.0,231.6 74.5,231.4 75.0,231.7 75.5,231.8 76.0,230.8 76.5,229.5 77.0,229.4 77.5,230.0 78.0,229.8 78.5,228.8 79.0,228.0 79.5,229.2 80.0,230.3 80.5,229.4 81.0,229.4 81.5,229.9 82.0,229.4 82.5,228.8 83.0,229.5 83.5,230.1 84.0,230.2 84.5,230.2 85.0,229.5 85.5,228.6 86.0,228.2 86.5,228.0 87.0,228.2 87.5,228.6 88.0,229.2 88.5,229.8 89.0,229.1 89.5,228.5 90.0,227.8 90.5,227.1 91.0,227.1 91.5,227.6 92.0,227.8 92.5,227.3 93.0,227.6 93.5,226.9 94.0,226.8 94.5,228.1 95.0,229.4 95.5,227.9 96.0,226.5 96.5,225.7 97.0,227.2 97.5,228.7 98.0,227.8 98.5,226.6 99.0,226.2 99.5,226.9 100.0,226.1 100.5,225.6 101.0,225.8 101.5,226.0 102.0,225.3 102.5,227.2 103.0,228.7 103.5,227.6 104.0,227.7 104.5,227.3 105.0,227.1 105.5,227.8 106.0,227.6 106.5,228.2 107.0,228.2 107.5,228.1 108.0,227.5 108.5,226.8 109.0,228.1 109.5,229.0 110.0,229.6 110.5,227.6 111.0,225.9 111.5,228.1 112.0,228.3 112.5,225.7 113.0,226.9 113.5,228.7 114.0,226.8 114.5,225.7 115.0,227.8 115.5,228.0 116.0,226.4 116.5,226.4 117.0,228.0 117.5,226.9 118.0,226.1 118.5,227.6 119.0,227.6 119.5,228.1 120.0,227.7 120.5,227.6 121.0,228.0 121.5,228.7 122.0,226.4 122.5,225.1 123.0,227.1 123.5,226.1 124.0,227.2 124.5,228.8 125.0,226.2 125.5,225.6 126.0,227.6 126.5,228.0 127.0,226.8 127.5,227.2 128.0,228.1 128.5,226.8 129.0,226.4 129.5,228.2 130.0,229.4 130.5,227.5 131.0,226.0 131.5,228.0 132.0,229.0 132.5,227.9 133.0,227.2 133.5,227.3 134.0,232.2 134.5,230.9 135.0,223.0 135.5,222.6 136.0,224.7 136.5,225.7 137.0,225.9 137.5,225.6 138.0,226.6 138.5,227.1 139.0,227.9 139.5,226.9 140.0,226.8 140.5,227.1 141.0,226.5 141.5,227.3 142.0,226.3 142.5,221.6 143.0,223.3 143.5,228.8 144.0,229.8 144.5,228.3 145.0,227.9 145.5,229.0 146.0,228.8 146.5,228.9 147.0,229.3 147.5,226.4 148.0,226.1 148.5,231.1 149.0,232.3 149.5,230.6 150.0,228.3 150.5,226.9 151.0,226.5 151.5,227.1 152.0,229.1 152.5,229.0 153.0,227.8 153.5,227.8 154.0,226.5 154.5,222.8 155.0,217.1 155.5,222.1 156.0,228.4 156.5,226.0 157.0,226.2 157.5,229.2 158.0,229.5 158.5,227.7 159.0,227.7 159.5,227.4 160.0,226.3 160.5,227.7 161.0,225.7 161.5,224.2 162.0,226.2 162.5,226.5 163.0,226.6 163.5,223.6 164.0,220.4 164.5,222.7 165.0,225.5 165.5,225.7 166.0,226.5 166.5,226.4 167.0,225.6 167.5,227.9 168.0,229.8 168.5,227.4 169.0,225.9 169.5,226.7 170.0,226.9 170.5,227.4 171.0,228.6 171.5,228.2 172.0,226.7 172.5,226.4 173.0,225.8 173.5,225.7 174.0,228.7 174.5,228.5 175.0,227.5 175.5,229.0 176.0,229.8 176.5,227.7 177.0,226.1 177.5,226.8 178.0,228.1 178.5,229.5 179.0,227.4 179.5,226.0 180.0,227.2 180.5,229.5 181.0,228.9 181.5,228.2 182.0,227.7 182.5,225.6 183.0,227.1 183.5,227.4 184.0,225.4 184.5,227.1 185.0,229.0 185.5,229.0 186.0,232.7 186.5,230.7 187.0,228.3 187.5,227.0 188.0,226.1 188.5,225.2 189.0,223.7 189.5,223.0 190.0,219.0 190.5,219.5 191.0,225.2 191.5,226.7 192.0,226.5 192.5,227.4 193.0,227.6 193.5,225.9 194.0,227.0 194.5,229.6 195.0,229.3 195.5,229.3 196.0,228.8 196.5,227.6 197.0,228.4 197.5,228.8 198.0,226.8 198.5,226.2 199.0,227.3 199.5,229.4 200.0,229.3 200.5,226.8 201.0,225.8 201.5,226.3 202.0,226.7 202.5,226.7 203.0,226.4 203.5,225.1 204.0,225.7 204.5,227.4 205.0,227.8 205.5,223.9 206.0,223.1 206.5,227.3 207.0,228.3 207.5,227.1 208.0,226.4 208.5,226.6 209.0,227.2 209.5,227.2 210.0,227.4 210.5,227.9 211.0,227.6 211.5,228.2 212.0,228.8 212.5,227.7 213.0,231.9 213.5,238.2 214.0,229.6 214.5,226.0 215.0,225.8 215.5,226.0 216.0,226.4 216.5,227.4 217.0,228.6 217.5,228.9 218.0,228.2 218.5,229.2 219.0,229.3 219.5,227.3 220.0,226.5 220.5,226.7 221.0,226.6 221.5,228.2 222.0,230.8 222.5,230.5 223.0,228.3 223.5,227.0 224.0,229.7 224.5,236.3 225.0,232.6 225.5,227.1 226.0,228.4 226.5,228.9 227.0,230.2 227.5,229.4 228.0,227.6 228.5,226.7 229.0,226.1 229.5,226.2 230.0,226.7 230.5,227.8 231.0,228.3 231.5,228.6 232.0,227.6 232.5,227.4 232.6,174.2 233.0,174.1 233.5,174.8 234.0,179.5 234.5,183.8 235.0,187.5 235.5,190.8 236.0,194.3 236.5,197.7 237.0,200.1 237.5,202.6 238.0,205.0 238.5,206.4 239.0,208.2 239.5,209.8 240.0,211.6 240.5,213.3 241.0,214.2 241.5,215.2 242.0,216.7 242.5,217.9 243.0,218.3 243.5,219.1 244.0,220.1 244.5,221.1 245.0,221.6 245.5,222.3 246.0,223.3 246.5,223.6 247.0,223.1 247.5,223.4 248.0,224.2 248.5,225.1 249.0,225.2 249.5,224.8 250.0,224.9 250.5,225.6 251.0,226.3 251.5,226.5 252.0,226.2 252.5,226.3 253.0,226.7 253.5,226.8 254.0,227.2 254.5,227.3 255.0,227.4 255.5,227.4 256.0,227.4 256.5,227.6 257.0,227.1 257.5,226.9 258.0,227.3 258.5,227.2 259.0,227.3 259.5,228.1 260.0,227.9 260.5,227.8 261.0,227.6 261.5,227.2 262.0,227.8 262.5,228.1 263.0,228.3 263.5,228.4 264.0,228.1 264.5,227.7 265.0,228.1 265.5,228.2 266.0,227.6 266.5,227.3 267.0,227.4 267.5,227.9 268.0,228.3 268.5,228.4 269.0,228.2 269.5,228.0 270.0,228.4 270.5,228.2 271.0,228.2 271.5,228.1 272.0,227.8 272.5,227.4 273.0,262.3 273.5,252.8 274.0,246.9 274.5,243.1 275.0,240.6 275.5,239.0 276.0,237.8 276.5,236.9 277.0,236.1 277.5,235.5 278.0,235.0 278.5,234.6 279.0,234.3 279.5,234.0 280.0,233.7 280.5,233.5 281.0,233.2 281.5,232.7 282.0,232.3 282.5,231.8 283.0,231.9 283.5,231.7 284.0,232.0 284.5,231.7 285.0,230.9 285.5,230.8 286.0,230.7 286.5,230.8 287.0,230.9 287.5,230.4 288.0,230.1 288.5,229.0 289.0,229.2 289.5,229.6 290.0,230.1 290.5,229.9 291.0,229.5 291.5,229.5 292.0,229.3 292.5,229.1 293.0,229.1 293.5,229.3 294.0,229.7 294.5,229.4 295.0,229.2 295.5,228.8 296.0,228.8 296.5,228.7 297.0,228.9 297.5,228.6 298.0,228.4 298.5,228.6 299.0,228.2 299.5,228.5 300.0,228.3 300.5,228.9 301.0,228.5 301.5,228.3 302.0,227.9 302.5,228.2 303.0,228.5 303.5,228.6 304.0,228.5 304.5,228.6 305.0,229.0 305.5,228.6 306.0,228.3 306.5,228.0 307.0,228.3 307.5,228.7 308.0,228.4 308.5,228.1 309.0,227.9 309.5,227.3 310.0,227.4 310.5,227.8 311.0,228.5 311.5,228.7 312.0,227.8 312.5,227.8 313.0,227.6 313.5,228.3 314.0,228.1 314.5,227.4 315.0,227.0 315.5,227.7 316.0,228.2 316.5,227.6 317.0,226.9 317.5,227.2 318.0,227.5 318.5,227.8 319.0,227.1 319.5,227.1 320.0,227.3 320.5,227.8 321.0,227.7 321.5,227.7 322.0,228.0 322.5,228.2 323.0,227.7 323.5,227.8 324.0,227.8 324.5,227.9 325.0,228.0 325.5,228.2 326.0,228.1 326.5,227.2 327.0,227.1 327.5,227.2 328.0,227.6 328.5,227.8 329.0,227.5 329.5,227.2 330.0,226.8 330.5,227.1 331.0,227.1 331.5,227.0 332.0,226.8 332.5,227.2 333.0,227.3 333.5,227.7 334.0,227.2 334.5,227.5 335.0,227.0 335.5,227.7 336.0,228.1 336.5,228.3 337.0,228.2 337.5,227.9 338.0,227.6 338.5,227.7 339.0,227.7 339.5,228.0 340.0,228.0 340.5,227.8 341.0,227.6 341.5,227.1 342.0,227.4 342.5,228.0 343.0,228.1 343.5,228.0 344.0,227.2 344.5,227.3 345.0,227.1 345.5,227.1 346.0,227.2 346.5,227.6 347.0,228.0 347.5,227.9 348.0,228.0 348.5,227.9 349.0,228.5" fill="none" stroke="#111" stroke-width="0.8" stroke-linejoin="round"/>
<polyline points="31.5,227.5 32.0,227.2 32.5,227.5 33.0,227.8 33.5,227.5 34.0,227.8 34.5,227.7 35.0,227.5 35.5,227.1 36.0,227.0 36.5,227.2 37.0,227.2 37.5,226.7 38.0,226.2 38.5,226.9 39.0,227.4 39.5,227.4 40.0,227.0 40.5,226.9 41.0,227.1 41.5,226.4 42.0,226.3 42.5,227.0 43.0,227.0 43.5,227.3 44.0,227.2 44.5,227.2 45.0,227.6 45.5,227.6 46.0,227.6 46.5,227.8 47.0,228.2 47.5,227.9 48.0,227.1 48.5,227.3 49.0,228.1 49.5,228.0 50.0,227.3 50.5,227.2 51.0,226.9 51.5,226.8 52.0,227.9 52.5,227.4 52.7,307.5 53.0,307.5 53.5,304.7 54.0,297.1 54.5,290.6 55.0,284.5 55.5,278.7 56.0,273.7 56.5,269.4 57.0,265.4 57.5,261.8 58.0,259.2 58.5,254.4 59.0,252.6 59.5,251.1 60.0,248.3 60.5,245.7 61.0,243.2 61.5,242.8 62.0,241.1 62.5,238.6 63.0,237.6 63.5,237.6 64.0,237.4 64.5,235.4 65.0,234.8 65.5,235.5 66.0,234.0 66.5,231.9 67.0,232.1 67.5,232.2 68.0,230.9 68.5,230.1 69.0,230.3 69.5,230.8 70.0,229.7 70.5,229.4 71.0,230.2 71.5,230.7 72.0,229.0 72.5,227.5 73.0,228.5 73.5,229.3 74.0,228.8 74.5,227.5 75.0,228.2 75.5,228.7 76.0,228.8 76.5,227.7 77.0,228.4 77.5,228.7 78.0,227.8 78.5,228.6 79.0,228.2 79.5,227.9 80.0,227.2 80.5,226.8 81.0,227.3 81.5,226.5 82.0,226.4 82.5,226.7 83.0,227.5 83.5,227.6 84.0,226.2 84.5,226.5 85.0,227.2 85.5,228.8 86.0,229.9 86.5,228.6 87.0,227.1 87.5,228.3 88.0,228.9 88.5,226.6 89.0,226.7 89.5,226.7 90.0,227.2 90.5,228.4 91.0,227.0 91.5,226.4 92.0,225.8 92.5,227.1 93.0,228.4 93.5,227.8 94.0,228.5 94.5,227.9 95.0,226.5 95.5,226.4 96.0,227.2 96.5,226.9 97.0,226.3 97.5,227.3 98.0,227.7 98.5,227.0 99.0,225.9 99.5,225.9 100.0,227.4 100.5,229.1 101.0,229.5 101.5,228.1 102.0,227.7 102.5,228.3 103.0,229.0 103.5,228.0 104.0,227.7 104.5,228.8 105.0,227.6 105.5,229.4 106.0,231.2 106.5,227.6 107.0,226.2 107.5,228.2 108.0,229.0 108.5,227.3 109.0,226.7 109.5,228.0 110.0,226.9 110.5,227.4 111.0,227.6 111.5,226.9 112.0,226.5 112.5,226.9 113.0,228.2 113.5,227.6 114.0,226.4 114.5,226.7 115.0,227.6 115.5,227.8 116.0,227.3 116.5,228.1 117.0,228.0 117.5,227.2 118.0,228.8 118.5,228.0 119.0,226.7 119.5,226.6 120.0,224.0 120.5,224.4 121.0,225.3 121.5,224.7 122.0,225.5 122.5,227.3 123.0,227.9 123.5,229.7 124.0,229.2 124.5,227.7 125.0,228.0 125.5,227.4 126.0,225.6 126.5,225.4 127.0,226.9 127.5,227.5 128.0,227.4 128.5,226.9 129.0,226.9 129.5,227.1 130.0,227.0 130.5,226.1 131.0,225.5 131.5,226.6 132.0,228.7 132.5,228.8 133.0,228.0 133.5,229.6 134.0,229.3 134.5,227.4 135.0,225.4 135.5,225.4 136.0,228.1 136.5,227.6 137.0,226.2 137.5,226.9 138.0,227.4 138.5,226.6 139.0,227.2 139.5,228.6 140.0,227.0 140.5,224.0 141.0,225.4 141.5,228.0 142.0,227.5 142.5,225.8 143.0,225.0 143.5,226.4 144.0,227.3 144.5,227.5 145.0,228.1 145.5,227.2 146.0,225.3 146.5,226.2 147.0,228.3 147.5,227.2 148.0,224.9 148.5,227.6 149.0,228.2 149.5,226.8 150.0,228.6 150.5,227.7 151.0,226.5 151.5,227.9 152.0,227.6 152.5,226.9 153.0,226.5 153.5,226.4 154.0,227.9 154.5,226.3 155.0,225.7 155.5,227.7 156.0,227.4 156.5,227.4 157.0,227.4 157.5,227.9 158.0,226.1 158.5,226.3 159.0,228.6 159.5,228.0 160.0,227.3 160.5,228.1 161.0,229.9 161.5,230.6 162.0,230.0 162.5,227.0 163.0,227.3 163.5,229.0 164.0,226.9 164.5,227.1 165.0,228.7 165.5,227.0 166.0,226.6 166.5,227.6 167.0,227.1 167.5,227.2 168.0,227.8 168.5,228.1 169.0,226.9 169.5,226.0 170.0,226.2 170.5,225.6 171.0,222.3 171.5,225.6 172.0,229.2 172.5,228.7 173.0,225.9 173.5,226.0 174.0,228.2 174.5,228.7 175.0,228.5 175.5,228.9 176.0,229.9 176.5,228.8 177.0,228.2 177.5,229.8 178.0,229.7 178.5,228.4 179.0,229.6 179.5,227.5 180.0,227.0 180.5,228.5 181.0,225.4 181.5,226.4 182.0,229.5 182.5,228.7 183.0,227.9 183.5,228.9 184.0,228.1 184.5,227.4 185.0,228.4 185.5,227.5 186.0,226.8 186.5,226.6 187.0,225.8 187.5,226.5 188.0,227.7 188.5,228.0 189.0,228.2 189.5,228.6 190.0,228.7 190.5,227.6 191.0,226.7 191.5,226.0 192.0,227.7 192.5,229.5 193.0,227.9 193.5,227.1 194.0,228.1 194.5,227.4 195.0,226.3 195.5,227.8 196.0,230.7 196.5,230.0 197.0,228.1 197.5,228.0 198.0,228.7 198.5,227.5 199.0,227.9 199.5,227.2 200.0,226.6 200.5,227.6 201.0,229.4 201.5,228.9 202.0,227.3 202.5,226.6 203.0,225.6 203.5,227.2 204.0,229.4 204.5,229.9 205.0,227.2 205.5,225.3 206.0,225.5 206.5,226.2 207.0,228.3 207.5,229.1 208.0,228.2 208.5,227.5 209.0,225.4 209.5,222.4 210.0,224.1 210.5,225.5 211.0,225.7 211.5,226.2 212.0,226.9 212.5,227.3 213.0,225.9 213.5,226.3 214.0,227.9 214.5,227.7 215.0,227.9 215.5,227.3 216.0,225.0 216.5,225.8 217.0,226.8 217.5,227.6 218.0,227.5 218.5,227.0 219.0,225.8 219.5,226.9 220.0,227.8 220.5,227.0 221.0,227.5 221.5,228.9 222.0,227.4 222.5,225.7 223.0,228.4 223.5,226.5 224.0,224.8 224.5,226.7 225.0,227.3 225.5,226.3 226.0,226.9 226.5,226.9 227.0,227.3 227.5,228.2 228.0,226.1 228.5,227.3 229.0,228.6 229.5,227.9 230.0,228.4 230.5,227.7 231.0,226.5 231.5,227.2 232.0,228.8 232.5,227.4 232.6,117.2 233.0,117.2 233.5,119.2 234.0,128.0 234.5,136.1 235.0,143.3 235.5,150.3 236.0,156.8 236.5,162.7 237.0,168.5 237.5,172.7 238.0,177.2 238.5,181.6 239.0,184.8 239.5,188.4 240.0,192.0 240.5,195.2 241.0,198.6 241.5,200.4 242.0,201.9 242.5,204.5 243.0,206.3 243.5,207.5 244.0,209.3 244.5,211.2 245.0,212.8 245.5,213.9 246.0,215.3 246.5,216.6 247.0,217.4 247.5,218.0 248.0,217.9 248.5,219.1 249.0,220.6 249.5,221.2 250.0,221.8 250.5,222.0 251.0,222.4 251.5,223.3 252.0,223.5 252.5,223.6 253.0,224.1 253.5,224.6 254.0,225.5 254.5,225.6 255.0,225.9 255.5,226.3 256.0,225.8 256.5,225.9 257.0,226.3 257.5,227.1 258.0,226.7 258.5,226.4 259.0,226.7 259.5,226.7 260.0,226.6 260.5,226.9 261.0,227.5 261.5,227.6 262.0,227.3 262.5,227.3 263.0,227.8 263.5,227.9 264.0,228.0 264.5,227.9 265.0,227.9 265.5,228.1 266.0,227.8 266.5,227.6 267.0,227.6 267.5,227.7 268.0,227.9 268.5,227.9 269.0,228.0 269.5,227.8 270.0,228.0 270.5,227.8 271.0,227.7 271.5,227.4 272.0,227.2 272.5,227.4 273.0,262.3 273.5,252.8 274.0,246.9 274.5,243.2 275.0,240.7 275.5,239.0 276.0,237.8 276.5,236.9 277.0,236.2 277.5,235.6 278.0,235.1 278.5,234.7 279.0,234.2 279.5,233.9 280.0,233.3 280.5,233.4 281.0,233.3 281.5,233.2 282.0,232.8 282.5,232.5 283.0,232.2 283.5,231.8 284.0,231.6 284.5,232.2 285.0,231.8 285.5,231.1 286.0,230.3 286.5,230.0 287.0,230.2 287.5,230.2 288.0,230.1 288.5,230.0 289.0,229.6 289.5,229.4 290.0,229.8 290.5,229.5 291.0,229.7 291.5,229.8 292.0,230.4 292.5,229.7 293.0,229.1 293.5,228.5 294.0,229.2 294.5,229.1 295.0,228.9 295.5,229.0 296.0,229.4 296.5,229.6 297.0,228.6 297.5,228.2 298.0,227.8 298.5,228.8 299.0,228.9 299.5,229.3 300.0,228.9 300.5,229.0 301.0,228.5 301.5,228.4 302.0,228.3 302.5,227.9 303.0,228.0 303.5,228.0 304.0,228.6 304.5,228.4 305.0,228.1 305.5,228.4 306.0,228.1 306.5,228.0 307.0,228.2 307.5,228.5 308.0,228.8 308.5,228.4 309.0,228.3 309.5,228.6 310.0,228.7 310.5,228.9 311.0,228.4 311.5,228.0 312.0,227.7 312.5,227.9 313.0,228.1 313.5,227.8 314.0,227.6 314.5,227.8 315.0,228.2 315.5,228.0 316.0,228.0 316.5,227.9 317.0,228.3 317.5,228.3 318.0,228.3 318.5,228.6 319.0,228.2 319.5,227.9 320.0,227.5 320.5,227.8 321.0,227.7 321.5,227.8 322.0,227.7 322.5,227.7 323.0,227.5 323.5,227.7 324.0,228.2 324.5,228.0 325.0,227.9 325.5,227.7 326.0,228.5 326.5,228.3 327.0,228.4 327.5,227.5 328.0,227.8 328.5,227.6 329.0,227.9 329.5,227.5 330.0,227.4 330.5,227.4 331.0,227.7 331.5,227.6 332.0,227.7 332.5,228.3 333.0,228.4 333.5,228.6 334.0,227.9 334.5,227.9 335.0,227.8 335.5,227.4 336.0,227.6 336.5,227.6 337.0,228.0 337.5,227.5 338.0,227.7 338.5,227.3 339.0,227.6 339.5,227.2 340.0,227.2 340.5,227.6 341.0,228.1 341.5,228.8 342.0,228.4 342.5,227.8 343.0,227.5 343.5,227.5 344.0,227.3 344.5,227.5 345.0,227.8 345.5,228.1 346.0,227.5 346.5,227.3 347.0,227.5 347.5,228.3 348.0,228.4 348.5,228.1 349.0,227.7" fill="none" stroke="#111" stroke-width="1.0" stroke-linejoin="round"/>
<polyline points="31.5,227.5 32.0,227.3 32.5,226.6 33.0,227.3 33.5,228.1 34.0,228.3 34.5,227.9 35.0,227.6 35.5,227.9 36.0,227.6 36.5,227.7 37.0,227.8 37.5,228.1 38.0,228.2 38.5,227.5 39.0,227.5 39.5,228.0 40.0,227.1 40.5,226.9 41.0,227.5 41.5,227.4 42.0,227.0 42.5,226.6 43.0,227.4 43.5,228.3 44.0,228.3 44.5,227.7 45.0,226.9 45.5,227.0 46.0,227.5 46.5,227.9 47.0,227.9 47.5,227.7 48.0,227.5 48.5,227.2 49.0,227.5 49.5,227.2 50.0,227.5 50.5,227.8 51.0,226.6 51.5,226.9 52.0,227.6 52.5,227.4 52.7,317.4 53.0,317.1 53.5,313.9 54.0,306.2 54.5,298.8 55.0,292.1 55.5,286.6 56.0,281.1 56.5,275.9 57.0,271.6 57.5,267.7 58.0,265.3 58.5,262.0 59.0,257.7 59.5,254.5 60.0,251.9 60.5,250.1 61.0,248.7 61.5,245.5 62.0,243.8 62.5,242.5 63.0,240.9 63.5,239.9 64.0,238.8 64.5,236.4 65.0,235.6 65.5,235.4 66.0,235.1 66.5,234.5 67.0,232.8 67.5,232.5 68.0,232.5 68.5,233.0 69.0,232.6 69.5,231.5 70.0,231.1 70.5,230.7 71.0,230.4 71.5,229.7 72.0,229.3 72.5,230.5 73.0,231.0 73.5,228.9 74.0,227.9 74.5,228.9 75.0,228.6 75.5,227.9 76.0,228.1 76.5,229.0 77.0,229.6 77.5,229.0 78.0,228.7 78.5,228.6 79.0,228.2 79.5,228.1 80.0,226.9 80.5,226.6 81.0,227.7 81.5,228.8 82.0,228.7 82.5,229.2 83.0,229.6 83.5,228.3 84.0,227.4 84.5,228.8 85.0,228.9 85.5,226.8 86.0,227.2 86.5,227.5 87.0,227.6 87.5,227.0 88.0,227.1 88.5,228.7 89.0,227.9 89.5,226.7 90.0,227.0 90.5,228.3 91.0,227.8 91.5,227.0 92.0,228.1 92.5,228.5 93.0,227.8 93.5,227.6 94.0,227.8 94.5,227.3 95.0,226.9 95.5,224.9 96.0,225.1 96.5,228.4 97.0,228.9 97.5,227.7 98.0,228.6 98.5,230.2 99.0,227.9 99.5,226.6 100.0,227.0 100.5,226.3 101.0,227.6 101.5,229.3 102.0,227.7 102.5,226.7 103.0,227.7 103.5,227.5 104.0,228.0 104.5,228.6 105.0,228.1 105.5,226.4 106.0,227.1 106.5,226.4 107.0,225.3 107.5,228.4 108.0,228.5 108.5,226.8 109.0,226.3 109.5,225.8 110.0,227.4 110.5,228.9 111.0,226.9 111.5,228.2 112.0,228.5 112.5,227.3 113.0,226.1 113.5,225.7 114.0,227.9 114.5,228.1 115.0,226.8 115.5,227.6 116.0,227.4 116.5,227.7 117.0,228.5 117.5,227.2 118.0,227.7 118.5,228.1 119.0,229.6 119.5,229.4 120.0,226.1 120.5,226.3 121.0,226.8 121.5,226.1 122.0,226.6 122.5,227.1 123.0,228.6 123.5,228.6 124.0,227.1 124.5,226.2 125.0,225.9 125.5,226.2 126.0,227.1 126.5,227.7 127.0,228.2 127.5,226.1 128.0,226.1 128.5,228.7 129.0,225.9 129.5,226.3 130.0,228.4 130.5,226.1 131.0,226.4 131.5,226.6 132.0,226.1 132.5,227.7 133.0,228.9 133.5,229.3 134.0,228.1 134.5,225.2 135.0,224.7 135.5,227.0 136.0,228.3 136.5,228.2 137.0,226.5 137.5,226.0 138.0,226.0 138.5,226.3 139.0,225.7 139.5,225.6 140.0,228.0 140.5,227.1 141.0,227.4 141.5,226.1 142.0,225.7 142.5,226.8 143.0,225.9 143.5,227.3 144.0,228.2 144.5,226.3 145.0,225.9 145.5,225.9 146.0,225.9 146.5,227.2 147.0,227.4 147.5,226.7 148.0,226.1 148.5,226.0 149.0,226.3 149.5,228.0 150.0,228.5 150.5,227.7 151.0,228.2 151.5,228.9 152.0,229.0 152.5,228.8 153.0,227.4 153.5,227.5 154.0,228.9 154.5,228.2 155.0,227.5 155.5,227.0 156.0,227.6 156.5,227.7 157.0,225.0 157.5,226.4 158.0,226.9 158.5,227.4 159.0,228.0 159.5,225.6 160.0,225.3 160.5,227.0 161.0,227.5 161.5,227.5 162.0,227.0 162.5,227.2 163.0,228.3 163.5,227.6 164.0,230.6 164.5,229.2 165.0,226.9 165.5,226.7 166.0,225.6 166.5,226.0 167.0,225.8 167.5,226.9 168.0,226.3 168.5,226.8 169.0,227.1 169.5,227.3 170.0,227.5 170.5,226.6 171.0,227.2 171.5,227.2 172.0,228.1 172.5,231.1 173.0,230.1 173.5,226.8 174.0,226.9 174.5,227.8 175.0,227.3 175.5,229.3 176.0,228.8 176.5,226.7 177.0,226.6 177.5,227.1 178.0,229.6 178.5,228.4 179.0,227.2 179.5,227.0 180.0,228.2 180.5,229.4 181.0,228.0 181.5,227.3 182.0,228.0 182.5,227.7 183.0,227.0 183.5,226.1 184.0,225.9 184.5,227.8 185.0,226.9 185.5,227.2 186.0,227.2 186.5,225.6 187.0,225.9 187.5,227.3 188.0,227.8 188.5,228.6 189.0,226.1 189.5,224.5 190.0,228.3 190.5,228.0 191.0,228.1 191.5,228.5 192.0,229.7 192.5,227.9 193.0,226.6 193.5,230.0 194.0,230.0 194.5,227.2 195.0,227.0 195.5,226.4 196.0,225.5 196.5,228.8 197.0,229.5 197.5,228.8 198.0,228.5 198.5,228.7 199.0,226.7 199.5,224.4 200.0,225.8 200.5,227.4 201.0,226.9 201.5,226.9 202.0,227.7 202.5,227.7 203.0,226.3 203.5,226.7 204.0,227.5 204.5,227.0 205.0,227.3 205.5,226.9 206.0,226.8 206.5,227.8 207.0,227.9 207.5,227.5 208.0,227.3 208.5,227.8 209.0,229.6 209.5,230.3 210.0,227.9 210.5,226.8 211.0,225.1 211.5,224.6 212.0,226.6 212.5,227.6 213.0,228.1 213.5,228.8 214.0,228.7 214.5,228.0 215.0,226.7 215.5,226.0 216.0,226.5 216.5,227.6 217.0,227.1 217.5,224.9 218.0,225.0 218.5,226.2 219.0,226.8 219.5,227.4 220.0,230.0 220.5,229.2 221.0,226.0 221.5,226.3 222.0,228.1 222.5,229.7 223.0,228.5 223.5,228.8 224.0,229.6 224.5,227.4 225.0,227.4 225.5,227.7 226.0,227.5 226.5,226.1 227.0,225.5 227.5,225.3 228.0,225.8 228.5,226.7 229.0,227.4 229.5,227.9 230.0,226.3 230.5,225.8 231.0,226.6 231.5,226.7 232.0,228.0 232.5,227.4 232.6,112.7 233.0,112.6 233.5,114.5 234.0,123.8 234.5,132.0 235.0,139.5 235.5,147.0 236.0,153.6 236.5,159.6 237.0,165.7 237.5,170.6 238.0,175.0 238.5,179.6 239.0,183.5 239.5,187.0 240.0,190.5 240.5,193.5 241.0,196.9 241.5,199.7 242.0,201.6 242.5,203.8 243.0,205.2 243.5,207.1 244.0,209.1 244.5,210.7 245.0,212.4 245.5,213.6 246.0,214.5 246.5,215.3 247.0,216.5 247.5,217.6 248.0,218.6 248.5,219.6 249.0,220.2 249.5,220.7 250.0,221.7 250.5,222.1 251.0,222.8 251.5,223.3 252.0,223.4 252.5,223.7 253.0,224.1 253.5,224.8 254.0,225.0 254.5,224.7 255.0,224.9 255.5,225.3 256.0,225.4 256.5,225.3 257.0,225.4 257.5,226.2 258.0,226.5 258.5,226.6 259.0,227.1 259.5,227.5 260.0,227.5 260.5,227.5 261.0,227.6 261.5,227.2 262.0,226.5 262.5,226.6 263.0,227.4 263.5,227.9 264.0,227.5 264.5,227.5 265.0,228.3 265.5,227.9 266.0,227.4 266.5,227.6 267.0,227.9 267.5,227.9 268.0,227.8 268.5,227.6 269.0,227.3 269.5,227.7 270.0,228.0 270.5,227.7 271.0,227.6 271.5,227.6 272.0,227.8 272.5,227.4 273.0,262.3 273.5,252.9 274.0,246.9 274.5,243.2 275.0,240.7 275.5,239.1 276.0,238.0 276.5,236.9 277.0,236.1 277.5,235.4 278.0,234.9 278.5,234.8 279.0,234.4 279.5,234.1 280.0,233.7 280.5,233.6 281.0,233.4 281.5,233.1 282.0,232.6 282.5,232.4 283.0,232.4 283.5,232.0 284.0,232.1 284.5,231.9 285.0,232.0 285.5,231.7 286.0,231.3 286.5,230.7 287.0,230.3 287.5,230.0 288.0,230.4 288.5,230.1 289.0,230.2 289.5,230.0 290.0,229.7 290.5,229.5 291.0,229.3 291.5,229.8 292.0,229.7 292.5,229.7 293.0,229.4 293.5,229.3 294.0,229.2 294.5,229.2 295.0,229.2 295.5,229.1 296.0,229.0 296.5,228.9 297.0,228.4 297.5,228.4 298.0,228.5 298.5,228.9 299.0,229.0 299.5,229.2 300.0,229.2 300.5,229.0 301.0,228.5 301.5,228.7 302.0,228.5 302.5,228.5 303.0,228.2 303.5,228.1 304.0,228.8 304.5,229.0 305.0,229.1 305.5,228.2 306.0,227.8 306.5,227.9 307.0,227.8 307.5,228.1 308.0,228.3 308.5,228.2 309.0,228.0 309.5,227.9 310.0,227.8 310.5,228.0 311.0,227.7 311.5,227.4 312.0,227.1 312.5,226.9 313.0,227.6 313.5,227.7 314.0,227.7 314.5,227.5 315.0,227.8 315.5,228.0 316.0,228.0 316.5,228.0 317.0,228.3 317.5,228.4 318.0,228.0 318.5,227.8 319.0,227.5 319.5,227.9 320.0,228.2 320.5,228.1 321.0,227.6 321.5,227.1 322.0,227.1 322.5,227.7 323.0,228.2 323.5,228.7 324.0,228.0 324.5,227.8 325.0,227.0 325.5,227.2 326.0,227.2 326.5,227.4 327.0,227.7 327.5,227.4 328.0,227.5 328.5,227.6 329.0,227.7 329.5,228.1 330.0,227.7 330.5,227.5 331.0,227.0 331.5,227.1 332.0,227.5 332.5,227.8 333.0,228.1 333.5,227.6 334.0,227.8 334.5,227.9 335.0,228.2 335.5,228.1 336.0,227.7 336.5,227.4 337.0,227.3 337.5,227.0 338.0,227.4 338.5,227.5 339.0,228.1 339.5,228.1 340.0,227.9 340.5,227.6 341.0,227.1 341.5,227.6 342.0,227.9 342.5,228.2 343.0,227.9 343.5,227.7 344.0,228.0 344.5,227.9 345.0,227.8 345.5,227.5 346.0,227.2 346.5,227.7 347.0,228.0 347.5,228.2 348.0,227.9 348.5,228.0 349.0,228.5" fill="none" stroke="#111" stroke-width="1.0" stroke-linejoin="round"/>
<polyline points="233.0,115.2 233.5,117.1 234.0,126.1 234.5,134.4 235.0,142.0 235.5,149.0 236.0,155.5 236.5,161.4 237.0,166.8 237.5,171.8 238.0,176.4 238.5,180.6 239.0,184.5 239.5,188.0 240.0,191.3 240.5,194.3 241.0,197.0 241.5,199.6 242.0,201.9 242.5,204.0 243.0,206.0 243.5,207.8 244.0,209.5 244.5,211.0 245.0,212.4 245.5,213.7 246.0,214.8 246.5,215.9 247.0,216.9 247.5,217.8 248.0,218.7 248.5,219.5 249.0,220.2 249.5,220.8 250.0,221.4 250.5,222.0 251.0,222.5 251.5,222.9 252.0,223.4 252.5,223.8 253.0,224.1 253.5,224.5 254.0,224.8 254.5,225.0 255.0,225.3 255.5,225.5 256.0,225.7 256.5,225.9 257.0,226.1 257.5,226.3 258.0,226.5 258.5,226.6 259.0,226.7 259.5,226.8 260.0,227.0 260.5,227.1 261.0,227.1 261.5,227.2 262.0,227.3 262.5,227.4 263.0,227.5 263.5,227.5 264.0,227.6 264.5,227.6 265.0,227.7 265.5,227.7 266.0,227.7 266.5,227.8 267.0,227.8" fill="none" stroke="#000" stroke-width="1.3" stroke-linejoin="round"/>
<polyline points="273.0,262.3 273.5,252.8 274.0,246.9 274.5,243.1 275.0,240.6 275.5,238.9 276.0,237.7 276.5,236.8 277.0,236.2 277.5,235.6 278.0,235.1 278.5,234.7 279.0,234.3 279.5,234.0 280.0,233.7 280.5,233.4 281.0,233.1 281.5,232.8 282.0,232.6 282.5,232.3 283.0,232.1 283.5,231.9 284.0,231.7 284.5,231.5 285.0,231.3 285.5,231.1 286.0,231.0 286.5,230.8 287.0,230.7 287.5,230.5 288.0,230.4 288.5,230.2 289.0,230.1 289.5,230.0 290.0,229.9 290.5,229.8 291.0,229.7 291.5,229.6 292.0,229.5 292.5,229.4 293.0,229.3 293.5,229.2 294.0,229.2 294.5,229.1 295.0,229.0 295.5,229.0 296.0,228.9 296.5,228.8 297.0,228.8 297.5,228.7 298.0,228.7 298.5,228.6 299.0,228.6 299.5,228.5 300.0,228.5 300.5,228.5 301.0,228.4 301.5,228.4 302.0,228.4 302.5,228.3 303.0,228.3 303.5,228.3 304.0,228.2 304.5,228.2 305.0,228.2 305.5,228.2 306.0,228.1 306.5,228.1 307.0,228.1 307.5,228.1 308.0,228.1 308.5,228.0 309.0,228.0 309.5,228.0 310.0,228.0 310.5,228.0 311.0,228.0 311.5,228.0 312.0,227.9" fill="none" stroke="#000" stroke-width="1.2" stroke-linejoin="round"/>
<polyline points="31.5,415.1 32.0,415.1 32.5,415.6 33.0,416.0 33.5,415.4 34.0,415.7 34.5,416.0 35.0,415.1 35.5,415.2 36.0,415.2 36.5,415.4 37.0,415.9 37.5,415.7 38.0,415.6 38.5,416.1 39.0,415.6 39.5,414.7 40.0,415.1 40.5,415.2 41.0,415.4 41.5,416.3 42.0,416.2 42.5,415.7 43.0,416.1 43.5,416.0 44.0,415.2 44.5,415.2 45.0,415.0 45.5,415.3 46.0,416.5 46.5,416.6 47.0,416.1 47.5,415.8 48.0,415.9 48.5,415.5 49.0,415.4 49.5,415.7 50.0,415.5 50.5,415.8 51.0,416.4 51.5,415.9 52.0,414.9 52.5,415.7 52.8,401.1 53.0,405.3 53.5,408.4 54.0,410.3 54.5,411.8 55.0,413.1 55.5,413.6 56.0,414.2 56.5,415.2 57.0,415.5 57.5,415.1 58.0,415.4 58.5,415.4 59.0,415.3 59.5,416.2 60.0,416.7 60.5,415.8 61.0,415.4 61.5,416.2 62.0,415.7 62.5,416.0 63.0,416.4 63.5,416.3 64.0,416.5 64.5,416.7 65.0,416.9 65.5,416.4 66.0,416.5 66.5,415.8 67.0,415.2 67.5,415.5 68.0,415.6 68.5,415.6 69.0,415.5 69.5,416.0 70.0,415.6 70.5,415.8 71.0,416.3 71.5,416.0 72.0,415.8 72.5,415.7 73.0,415.5 73.5,415.6 74.0,416.1 74.5,416.1 75.0,416.0 75.5,416.8 76.0,416.7 76.5,415.9 77.0,416.0 77.5,416.2 78.0,416.3 78.5,415.9 79.0,416.1 79.5,416.1 80.0,415.6 80.5,415.4 81.0,415.9 81.5,416.0 82.0,415.0 82.5,415.2 83.0,415.8 83.5,416.0 84.0,416.0 84.5,415.5 85.0,415.1 85.5,415.4 86.0,415.6 86.5,415.4 87.0,415.8 87.5,415.1 88.0,414.5 88.5,415.9 89.0,416.1 89.5,415.4 90.0,416.1 90.5,416.5 91.0,415.9 91.5,415.7 92.0,416.8 92.5,416.9 93.0,416.5 93.5,416.4 94.0,416.2 94.5,416.0 95.0,415.4 95.5,415.2 96.0,414.8 96.5,415.4 97.0,415.8 97.5,414.9 98.0,414.2 98.5,414.2 99.0,414.6 99.5,414.7 100.0,414.7 100.5,415.2 101.0,415.2 101.5,415.3 102.0,415.3 102.5,415.3 103.0,416.7 103.5,416.3 104.0,415.7 104.5,415.7 105.0,415.4 105.5,415.5 106.0,415.0 106.5,415.9 107.0,416.1 107.5,415.2 108.0,415.4 108.5,415.4 109.0,415.5 109.5,415.7 110.0,415.0 110.5,414.9 111.0,414.9 111.5,414.9 112.0,414.9 112.5,414.9 113.0,415.2 113.5,415.6 114.0,415.8 114.5,416.2 115.0,416.7 115.5,415.8 116.0,415.2 116.5,415.6 117.0,415.8 117.5,415.2 118.0,415.7 118.5,415.9 119.0,415.5 119.5,415.9 120.0,416.0 120.5,416.0 121.0,416.3 121.5,417.2 122.0,417.0 122.5,415.9 123.0,415.4 123.5,415.4 124.0,415.8 124.5,415.5 125.0,415.4 125.5,415.4 126.0,416.2 126.5,416.7 127.0,415.6 127.5,415.4 128.0,415.1 128.5,415.5 129.0,416.0 129.5,415.9 130.0,415.7 130.5,416.1 131.0,416.1 131.5,414.7 132.0,414.8 132.5,415.6 133.0,416.1 133.5,416.0 134.0,415.4 134.5,415.9 135.0,416.2 135.5,416.1 136.0,416.3 136.5,416.1 137.0,415.9 137.5,415.5 138.0,414.7 138.5,415.0 139.0,415.8 139.5,416.3 140.0,416.1 140.5,415.7 141.0,415.6 141.5,415.5 142.0,414.9 142.5,415.0 143.0,415.8 143.5,415.8 144.0,415.8 144.5,416.1 145.0,416.6 145.5,417.3 146.0,416.7 146.5,416.1 147.0,416.0 147.5,415.5 148.0,415.2 148.5,415.1 149.0,415.7 149.5,415.7 150.0,415.5 150.5,415.5 151.0,415.8 151.5,416.1 152.0,415.5 152.5,415.4 153.0,415.7 153.5,416.1 154.0,416.0 154.5,416.1 155.0,415.7 155.5,415.2 156.0,415.4 156.5,415.6 157.0,416.2 157.5,415.6 158.0,415.5 158.5,416.1 159.0,415.7 159.5,415.5 160.0,415.9 160.5,415.6 161.0,415.5 161.5,415.8 162.0,415.2 162.5,414.7 163.0,414.6 163.5,414.2 164.0,413.9 164.5,414.5 165.0,415.2 165.5,415.5 166.0,415.1 166.5,415.1 167.0,415.3 167.5,415.1 168.0,415.3 168.5,415.5 169.0,415.6 169.5,415.7 170.0,415.6 170.5,416.0 171.0,416.2 171.5,415.4 172.0,415.6 172.5,416.3 173.0,415.7 173.5,416.0 174.0,416.7 174.5,416.3 175.0,415.8 175.5,415.4 176.0,415.2 176.5,415.2 177.0,416.3 177.5,416.0 178.0,415.4 178.5,415.6 179.0,415.9 179.5,415.9 180.0,415.8 180.5,416.0 181.0,416.1 181.5,416.0 182.0,415.6 182.5,415.6 183.0,415.6 183.5,415.9 184.0,416.3 184.5,416.1 185.0,415.7 185.5,416.0 186.0,415.8 186.5,415.4 187.0,415.5 187.5,415.9 188.0,415.7 188.5,415.0 189.0,415.1 189.5,415.5 190.0,416.2 190.5,416.4 191.0,415.9 191.5,415.6 192.0,415.3 192.5,414.8 193.0,414.4 193.5,415.2 194.0,414.9 194.5,414.4 195.0,414.6 195.5,415.1 196.0,415.9 196.5,415.9 197.0,416.0 197.5,415.8 198.0,415.5 198.5,415.8 199.0,415.4 199.5,415.5 200.0,415.8 200.5,415.7 201.0,416.4 201.5,416.2 202.0,415.5 202.5,416.0 203.0,416.8 203.5,415.9 204.0,415.7 204.5,415.2 205.0,414.1 205.5,415.1 206.0,415.9 206.5,415.7 207.0,415.9 207.5,416.0 208.0,416.2 208.5,416.6 209.0,416.2 209.5,415.6 210.0,415.6 210.5,415.7 211.0,415.7 211.5,415.6 212.0,415.5 212.5,415.8 213.0,415.6 213.5,415.5 214.0,415.4 214.5,416.0 215.0,415.7 215.5,414.8 216.0,415.3 216.5,416.2 217.0,416.3 217.5,416.3 218.0,416.4 218.5,416.1 219.0,415.6 219.5,415.8 220.0,416.0 220.5,415.9 221.0,415.7 221.5,415.6 222.0,415.6 222.5,415.6 223.0,416.1 223.5,416.2 224.0,416.1 224.5,415.8 225.0,415.6 225.5,415.7 226.0,416.1 226.5,415.6 227.0,415.4 227.5,416.0 228.0,416.4 228.5,416.4 229.0,415.8 229.5,415.7 230.0,416.0 230.5,415.2 231.0,414.8 231.5,415.9 232.0,416.1 232.5,414.9 233.0,414.9 233.5,415.1 234.0,415.0 234.5,414.8 235.0,415.1 235.5,415.0 236.0,414.9 236.5,415.4 237.0,415.2 237.5,414.5 238.0,414.7 238.5,414.4 239.0,413.9 239.5,414.4 240.0,415.6 240.5,415.9 241.0,415.3 241.5,414.9 242.0,415.0 242.5,414.9 243.0,415.0 243.5,414.8 244.0,414.8 244.5,415.1 245.0,415.0 245.5,415.0 246.0,414.6 246.5,414.4 247.0,414.8 247.5,415.1 248.0,415.1 248.5,415.5 249.0,415.1 249.5,414.6 250.0,414.6 250.5,414.9 251.0,415.1 251.5,415.0 252.0,414.8 252.5,414.7 253.0,414.9 253.5,415.0 254.0,414.8 254.5,414.6 255.0,414.5 255.5,414.5 256.0,415.0 256.5,415.1 257.0,415.1 257.5,415.5 258.0,415.4 258.5,415.0 259.0,414.7 259.5,414.3 260.0,414.2 260.5,414.7 261.0,414.7 261.5,414.8 262.0,414.8 262.5,414.7 263.0,414.8 263.5,414.5 264.0,414.6 264.5,415.1 265.0,415.6 265.5,415.5 266.0,415.3 266.5,415.2 267.0,414.8 267.5,415.5 268.0,415.4 268.5,414.9 269.0,415.2 269.5,415.0 270.0,414.9 270.5,415.0 271.0,414.9 271.5,415.0 272.0,415.4 272.5,415.7 272.5,403.9 272.5,428.7 273.0,419.5 273.2,415.7 273.5,415.7 274.0,415.7 274.5,415.7 275.0,415.7 275.5,415.7 276.0,415.7 276.5,415.8 277.0,415.8 277.5,415.9 278.0,415.9 278.5,415.8 279.0,415.6 279.5,415.5 280.0,415.4 280.5,415.5 281.0,415.7 281.5,415.5 282.0,415.5 282.5,415.5 283.0,415.9 283.5,415.9 284.0,415.6 284.5,415.5 285.0,415.3 285.5,415.5 286.0,415.8 286.5,416.2 287.0,416.3 287.5,415.8 288.0,415.4 288.5,415.4 289.0,415.5 289.5,415.6 290.0,415.7 290.5,415.7 291.0,415.8 291.5,415.6 292.0,415.4 292.5,415.5 293.0,415.3 293.5,415.6 294.0,415.4 294.5,415.5 295.0,415.4 295.5,415.4 296.0,415.3 296.5,415.4 297.0,415.5 297.5,416.1 298.0,415.7 298.5,415.9 299.0,415.4 299.5,416.2 300.0,416.1 300.5,416.6 301.0,416.2 301.5,416.0 302.0,415.8 302.5,415.7 303.0,415.8 303.5,415.9 304.0,415.8 304.5,415.9 305.0,415.6 305.5,415.7 306.0,415.6 306.5,415.8 307.0,415.8 307.5,415.6 308.0,415.7 308.5,415.8 309.0,415.6 309.5,415.3 310.0,415.1 310.5,415.6 311.0,415.5 311.5,415.6 312.0,415.9 312.5,416.0 313.0,415.8 313.5,415.2 314.0,415.2 314.5,415.4 315.0,416.0 315.5,415.9 316.0,416.1 316.5,416.1 317.0,415.8 317.5,415.2 318.0,415.1 318.5,415.4 319.0,415.7 319.5,415.6 320.0,415.6 320.5,415.5 321.0,415.6 321.5,416.0 322.0,415.9 322.5,415.9 323.0,415.6 323.5,415.6 324.0,415.2 324.5,415.5 325.0,415.2 325.5,415.4 326.0,415.4 326.5,415.5 327.0,415.6 327.5,415.5 328.0,415.9 328.5,415.9 329.0,416.0 329.5,415.7 330.0,415.7 330.5,415.6 331.0,415.9 331.5,416.0 332.0,416.3 332.5,416.4 333.0,416.1 333.5,415.4 334.0,414.9 334.5,414.5 335.0,414.9 335.5,415.1 336.0,416.0 336.5,416.4 337.0,416.1 337.5,415.5 338.0,415.0 338.5,415.3 339.0,415.5 339.5,415.3 340.0,414.9 340.5,415.3 341.0,415.6 341.5,415.7 342.0,415.6 342.5,415.7 343.0,416.3 343.5,416.0 344.0,415.9 344.5,415.7 345.0,415.5 345.5,415.5 346.0,415.6 346.5,415.7 347.0,415.6 347.5,415.0 348.0,414.9 348.5,415.8 349.0,416.4" fill="none" stroke="#111" stroke-width="0.8" stroke-linejoin="round"/>
<polyline points="31.5,415.3 32.0,415.5 32.5,415.2 33.0,415.0 33.5,415.6 34.0,416.3 34.5,416.0 35.0,416.0 35.5,416.1 36.0,415.6 36.5,415.2 37.0,415.8 37.5,416.2 38.0,415.4 38.5,415.1 39.0,416.1 39.5,416.4 40.0,415.9 40.5,416.0 41.0,415.3 41.5,415.0 42.0,415.2 42.5,415.0 43.0,415.1 43.5,415.5 44.0,415.5 44.5,415.3 45.0,415.9 45.5,415.6 46.0,415.0 46.5,415.5 47.0,415.9 47.5,415.6 48.0,414.9 48.5,415.1 49.0,415.7 49.5,416.8 50.0,416.4 50.5,415.6 51.0,415.7 51.5,415.8 52.0,415.5 52.5,416.6 53.0,416.3 53.5,416.3 54.0,416.5 54.5,416.6 55.0,416.6 55.5,416.3 56.0,415.9 56.5,415.7 57.0,416.4 57.5,417.0 58.0,416.7 58.5,416.6 59.0,416.9 59.5,416.7 60.0,417.1 60.5,416.8 61.0,416.3 61.5,416.2 62.0,416.6 62.5,417.2 63.0,417.1 63.5,416.3 64.0,415.5 64.5,416.2 65.0,416.7 65.5,416.3 66.0,416.5 66.5,416.8 67.0,417.1 67.5,416.4 68.0,415.2 68.5,416.2 69.0,416.5 69.5,415.6 70.0,415.3 70.5,416.1 71.0,416.6 71.5,416.1 72.0,416.3 72.5,416.8 73.0,416.2 73.5,415.9 74.0,416.0 74.5,416.0 75.0,416.1 75.5,415.2 76.0,414.6 76.5,415.0 77.0,414.8 77.5,414.2 78.0,414.3 78.5,414.5 79.0,414.5 79.5,415.6 80.0,416.2 80.5,416.3 81.0,416.0 81.5,415.6 82.0,415.9 82.5,416.2 83.0,415.6 83.5,415.5 84.0,416.2 84.5,416.1 85.0,415.7 85.5,416.0 86.0,416.0 86.5,415.8 87.0,415.7 87.5,415.8 88.0,416.3 88.5,416.0 89.0,415.6 89.5,415.7 90.0,416.2 90.5,416.4 91.0,416.1 91.5,416.2 92.0,416.3 92.5,416.3 93.0,416.0 93.5,416.2 94.0,416.3 94.5,416.0 95.0,416.3 95.5,416.4 96.0,416.4 96.5,416.8 97.0,416.3 97.5,415.9 98.0,416.4 98.5,416.7 99.0,416.0 99.5,415.3 100.0,415.7 100.5,415.9 101.0,416.0 101.5,416.0 102.0,415.8 102.5,415.6 103.0,415.4 103.5,416.4 104.0,416.5 104.5,415.9 105.0,415.7 105.5,416.5 106.0,417.0 106.5,416.9 107.0,417.0 107.5,416.6 108.0,416.7 108.5,416.6 109.0,416.3 109.5,416.0 110.0,415.3 110.5,415.3 111.0,415.8 111.5,416.0 112.0,415.8 112.5,415.7 113.0,415.5 113.5,415.2 114.0,415.5 114.5,415.9 115.0,415.9 115.5,415.7 116.0,415.3 116.5,414.9 117.0,415.3 117.5,415.9 118.0,415.3 118.5,415.1 119.0,415.8 119.5,416.0 120.0,415.8 120.5,415.6 121.0,415.7 121.5,415.4 122.0,415.3 122.5,415.6 123.0,415.6 123.5,415.7 124.0,415.5 124.5,416.0 125.0,416.3 125.5,415.8 126.0,416.1 126.5,415.9 127.0,414.7 127.5,414.5 128.0,415.1 128.5,415.0 129.0,415.3 129.5,415.8 130.0,415.4 130.5,415.3 131.0,415.8 131.5,415.4 132.0,415.5 132.5,415.6 133.0,415.6 133.5,415.4 134.0,415.0 134.5,415.1 135.0,415.4 135.5,416.4 136.0,416.9 136.5,416.5 137.0,415.8 137.5,415.7 138.0,415.8 138.5,415.7 139.0,415.7 139.5,415.1 140.0,415.0 140.5,415.6 141.0,415.9 141.5,415.9 142.0,415.5 142.5,415.2 143.0,415.6 143.5,416.0 144.0,416.3 144.5,416.4 145.0,416.1 145.5,416.4 146.0,415.7 146.5,415.4 147.0,416.0 147.5,416.2 148.0,416.1 148.5,415.6 149.0,416.2 149.5,416.3 150.0,415.8 150.5,415.5 151.0,415.3 151.5,415.7 152.0,415.1 152.5,414.5 153.0,414.8 153.5,414.8 154.0,414.5 154.5,415.4 155.0,415.6 155.5,415.4 156.0,416.1 156.5,416.4 157.0,416.4 157.5,416.3 158.0,415.7 158.5,415.6 159.0,415.4 159.5,415.9 160.0,416.5 160.5,415.8 161.0,415.5 161.5,415.7 162.0,415.6 162.5,415.5 163.0,415.5 163.5,415.6 164.0,415.5 164.5,415.2 165.0,414.9 165.5,414.9 166.0,416.0 166.5,416.5 167.0,416.2 167.5,415.8 168.0,415.8 168.5,415.8 169.0,415.4 169.5,415.1 170.0,415.6 170.5,416.4 171.0,416.0 171.5,416.2 172.0,416.8 172.5,416.0 173.0,416.0 173.5,415.4 174.0,415.0 174.5,414.9 175.0,415.8 175.5,416.8 176.0,415.6 176.5,415.7 177.0,416.1 177.5,415.6 178.0,415.6 178.5,415.5 179.0,415.5 179.5,415.4 180.0,415.6 180.5,416.0 181.0,415.6 181.5,415.5 182.0,415.9 182.5,415.7 183.0,416.4 183.5,417.0 184.0,416.3 184.5,416.3 185.0,415.8 185.5,415.8 186.0,416.1 186.5,415.9 187.0,415.9 187.5,415.9 188.0,416.0 188.5,416.1 189.0,415.8 189.5,416.1 190.0,416.2 190.5,415.8 191.0,415.7 191.5,415.4 192.0,415.4 192.5,415.2 193.0,415.1 193.5,415.7 194.0,415.6 194.5,415.5 195.0,416.2 195.5,416.7 196.0,416.4 196.5,415.2 197.0,415.4 197.5,415.7 198.0,415.2 198.5,416.0 199.0,415.8 199.5,415.0 200.0,414.9 200.5,415.2 201.0,415.9 201.5,415.4 202.0,415.3 202.5,414.9 203.0,414.9 203.5,415.0 204.0,415.2 204.5,416.0 205.0,415.7 205.5,415.7 206.0,415.9 206.5,415.4 207.0,415.3 207.5,414.7 208.0,414.3 208.5,415.7 209.0,416.3 209.5,416.7 210.0,416.8 210.5,415.7 211.0,415.2 211.5,415.7 212.0,415.6 212.5,415.1 213.0,415.3 213.5,415.5 214.0,415.6 214.5,415.5 215.0,416.1 215.5,416.4 216.0,415.7 216.5,416.2 217.0,416.9 217.5,416.9 218.0,416.4 218.5,415.3 219.0,415.7 219.5,416.5 220.0,416.3 220.5,416.6 221.0,416.3 221.5,416.2 222.0,415.9 222.5,415.7 223.0,415.7 223.5,415.4 224.0,415.1 224.5,415.4 225.0,416.3 225.5,416.3 226.0,415.7 226.5,415.3 227.0,415.5 227.5,416.3 228.0,416.0 228.5,415.3 229.0,415.6 229.5,415.6 230.0,415.3 230.5,414.9 231.0,415.1 231.5,415.7 232.0,415.6 232.5,414.9 233.0,414.9 233.5,415.0 234.0,414.9 234.5,414.9 235.0,414.6 235.5,414.8 236.0,415.6 236.5,415.3 237.0,414.7 237.5,414.7 238.0,415.1 238.5,414.6 239.0,414.2 239.5,414.3 240.0,414.9 240.5,414.5 241.0,414.6 241.5,415.4 242.0,415.3 242.5,415.3 243.0,415.1 243.5,414.6 244.0,414.7 244.5,414.9 245.0,414.5 245.5,414.5 246.0,414.6 246.5,414.5 247.0,414.9 247.5,415.3 248.0,415.3 248.5,414.8 249.0,414.9 249.5,414.9 250.0,414.9 250.5,415.0 251.0,414.8 251.5,414.9 252.0,414.8 252.5,414.7 253.0,414.7 253.5,414.6 254.0,414.2 254.5,414.4 255.0,414.9 255.5,415.0 256.0,415.1 256.5,415.0 257.0,414.9 257.5,414.3 258.0,414.6 258.5,415.3 259.0,414.8 259.5,414.2 260.0,414.1 260.5,414.6 261.0,415.1 261.5,414.7 262.0,414.9 262.5,414.9 263.0,414.7 263.5,415.4 264.0,414.8 264.5,414.2 265.0,414.4 265.5,414.7 266.0,414.9 266.5,414.7 267.0,414.9 267.5,415.2 268.0,415.4 268.5,415.5 269.0,415.3 269.5,415.4 270.0,415.4 270.5,414.8 271.0,414.6 271.5,414.6 272.0,413.9 272.5,415.7 272.5,403.9 272.5,433.7 273.0,421.0 273.2,415.7 273.5,415.7 274.0,415.7 274.5,415.8 275.0,415.8 275.5,415.8 276.0,415.7 276.5,415.8 277.0,415.7 277.5,415.6 278.0,415.6 278.5,415.6 279.0,415.7 279.5,415.6 280.0,415.8 280.5,415.8 281.0,415.8 281.5,415.7 282.0,415.9 282.5,415.9 283.0,415.9 283.5,415.8 284.0,416.1 284.5,416.1 285.0,415.9 285.5,415.5 286.0,415.3 286.5,415.1 287.0,415.6 287.5,415.9 288.0,416.3 288.5,415.9 289.0,416.1 289.5,416.0 290.0,416.3 290.5,416.1 291.0,415.9 291.5,416.1 292.0,416.2 292.5,415.9 293.0,415.2 293.5,415.0 294.0,415.5 294.5,415.7 295.0,415.7 295.5,415.8 296.0,415.8 296.5,415.8 297.0,415.7 297.5,415.8 298.0,415.5 298.5,415.5 299.0,415.2 299.5,415.6 300.0,415.7 300.5,416.0 301.0,415.8 301.5,415.5 302.0,415.4 302.5,415.6 303.0,415.6 303.5,416.2 304.0,416.0 304.5,415.9 305.0,415.4 305.5,415.5 306.0,416.0 306.5,415.9 307.0,415.8 307.5,415.7 308.0,416.1 308.5,416.0 309.0,415.9 309.5,415.6 310.0,415.4 310.5,415.5 311.0,415.4 311.5,415.4 312.0,415.3 312.5,415.2 313.0,415.4 313.5,415.5 314.0,415.8 314.5,415.4 315.0,415.4 315.5,415.3 316.0,415.7 316.5,416.0 317.0,415.7 317.5,416.0 318.0,415.8 318.5,416.3 319.0,416.2 319.5,415.6 320.0,415.0 320.5,415.1 321.0,415.4 321.5,415.3 322.0,414.6 322.5,414.7 323.0,415.0 323.5,415.5 324.0,415.1 324.5,415.4 325.0,415.2 325.5,415.4 326.0,415.4 326.5,416.1 327.0,416.3 327.5,416.2 328.0,415.7 328.5,415.7 329.0,415.6 329.5,415.9 330.0,415.9 330.5,415.8 331.0,415.4 331.5,415.3 332.0,415.2 332.5,415.4 333.0,415.8 333.5,416.0 334.0,416.0 334.5,415.7 335.0,415.6 335.5,415.4 336.0,415.6 336.5,415.5 337.0,415.9 337.5,415.8 338.0,415.7 338.5,415.6 339.0,415.4 339.5,416.0 340.0,416.0 340.5,416.3 341.0,416.0 341.5,415.9 342.0,415.9 342.5,415.9 343.0,416.1 343.5,416.3 344.0,416.3 344.5,416.2 345.0,416.2 345.5,415.7 346.0,415.7 346.5,415.7 347.0,415.9 347.5,415.9 348.0,415.4 348.5,415.4 349.0,415.3" fill="none" stroke="#111" stroke-width="0.8" stroke-linejoin="round"/>
<polyline points="31.5,415.6 32.0,415.5 32.5,415.5 33.0,416.1 33.5,416.2 34.0,415.3 34.5,415.6 35.0,416.0 35.5,415.8 36.0,416.8 36.5,416.4 37.0,415.7 37.5,415.7 38.0,415.8 38.5,416.4 39.0,415.8 39.5,415.6 40.0,415.9 40.5,415.0 41.0,415.0 41.5,415.8 42.0,415.8 42.5,415.7 43.0,416.0 43.5,416.2 44.0,415.8 44.5,415.3 45.0,415.1 45.5,415.0 46.0,415.5 46.5,415.0 47.0,415.3 47.5,416.5 48.0,416.3 48.5,415.9 49.0,415.2 49.5,415.1 50.0,415.2 50.5,415.3 51.0,415.3 51.5,415.4 52.0,416.4 52.5,415.7 53.0,421.3 53.5,419.9 54.0,418.7 54.5,418.7 55.0,418.4 55.5,418.4 56.0,418.5 56.5,418.9 57.0,418.3 57.5,417.4 58.0,417.5 58.5,417.5 59.0,417.0 59.5,417.1 60.0,417.4 60.5,417.1 61.0,417.7 61.5,418.3 62.0,418.9 62.5,419.1 63.0,419.5 63.5,418.9 64.0,418.0 64.5,418.4 65.0,417.7 65.5,417.9 66.0,417.5 66.5,418.0 67.0,418.7 67.5,417.8 68.0,417.4 68.5,417.6 69.0,418.0 69.5,418.0 70.0,418.0 70.5,417.8 71.0,417.9 71.5,417.6 72.0,417.6 72.5,417.8 73.0,417.6 73.5,417.9 74.0,417.5 74.5,416.3 75.0,416.3 75.5,416.8 76.0,416.5 76.5,416.6 77.0,416.7 77.5,417.0 78.0,417.4 78.5,417.4 79.0,417.2 79.5,417.0 80.0,417.3 80.5,417.7 81.0,416.9 81.5,416.8 82.0,417.7 82.5,417.7 83.0,417.2 83.5,417.1 84.0,417.1 84.5,417.2 85.0,416.8 85.5,416.3 86.0,416.1 86.5,415.0 87.0,415.2 87.5,416.3 88.0,416.7 88.5,416.8 89.0,417.3 89.5,417.5 90.0,417.8 90.5,418.0 91.0,417.4 91.5,416.5 92.0,416.5 92.5,416.6 93.0,416.4 93.5,416.7 94.0,417.4 94.5,417.1 95.0,417.1 95.5,417.5 96.0,417.5 96.5,417.8 97.0,417.7 97.5,417.2 98.0,417.0 98.5,416.9 99.0,416.9 99.5,417.2 100.0,417.2 100.5,417.2 101.0,417.0 101.5,417.3 102.0,417.8 102.5,418.0 103.0,417.8 103.5,417.4 104.0,417.5 104.5,416.9 105.0,417.0 105.5,417.2 106.0,416.7 106.5,416.5 107.0,416.9 107.5,417.1 108.0,416.4 108.5,415.4 109.0,415.6 109.5,416.2 110.0,416.4 110.5,416.3 111.0,416.2 111.5,416.4 112.0,416.7 112.5,416.5 113.0,416.8 113.5,416.4 114.0,416.2 114.5,416.3 115.0,416.6 115.5,417.0 116.0,417.3 116.5,417.1 117.0,416.5 117.5,416.9 118.0,416.7 118.5,416.2 119.0,416.3 119.5,416.6 120.0,417.0 120.5,417.2 121.0,417.0 121.5,416.5 122.0,416.4 122.5,416.4 123.0,417.1 123.5,417.4 124.0,416.4 124.5,416.4 125.0,416.3 125.5,416.2 126.0,416.8 126.5,416.8 127.0,416.8 127.5,417.4 128.0,417.8 128.5,417.0 129.0,416.8 129.5,417.8 130.0,417.8 130.5,416.9 131.0,416.1 131.5,415.7 132.0,415.9 132.5,416.5 133.0,416.2 133.5,415.7 134.0,415.6 134.5,415.7 135.0,416.3 135.5,416.7 136.0,417.0 136.5,417.0 137.0,416.3 137.5,416.5 138.0,415.9 138.5,415.6 139.0,415.5 139.5,415.2 140.0,415.4 140.5,415.8 141.0,415.9 141.5,415.9 142.0,415.7 142.5,415.3 143.0,415.7 143.5,416.0 144.0,416.1 144.5,416.8 145.0,417.4 145.5,416.9 146.0,416.1 146.5,416.5 147.0,417.0 147.5,417.4 148.0,417.0 148.5,416.3 149.0,416.4 149.5,416.6 150.0,416.8 150.5,417.1 151.0,417.0 151.5,416.4 152.0,416.8 152.5,417.0 153.0,417.0 153.5,417.3 154.0,417.0 154.5,416.4 155.0,416.3 155.5,416.6 156.0,415.7 156.5,415.6 157.0,416.0 157.5,416.2 158.0,416.7 158.5,416.7 159.0,416.7 159.5,416.7 160.0,415.9 160.5,415.3 161.0,415.5 161.5,415.9 162.0,416.2 162.5,416.0 163.0,416.1 163.5,416.8 164.0,416.6 164.5,415.7 165.0,415.7 165.5,416.2 166.0,416.0 166.5,416.2 167.0,416.3 167.5,415.9 168.0,415.9 168.5,415.6 169.0,416.0 169.5,416.0 170.0,415.3 170.5,415.6 171.0,416.3 171.5,416.1 172.0,416.3 172.5,417.1 173.0,417.0 173.5,416.5 174.0,416.7 174.5,416.4 175.0,415.8 175.5,415.8 176.0,416.1 176.5,416.2 177.0,415.6 177.5,416.2 178.0,416.2 178.5,415.5 179.0,415.6 179.5,416.5 180.0,417.0 180.5,416.1 181.0,416.2 181.5,416.7 182.0,416.2 182.5,415.9 183.0,416.0 183.5,416.2 184.0,416.6 184.5,416.2 185.0,415.9 185.5,416.2 186.0,416.1 186.5,416.5 187.0,416.8 187.5,416.3 188.0,416.2 188.5,416.5 189.0,416.4 189.5,416.2 190.0,416.1 190.5,416.0 191.0,415.5 191.5,415.9 192.0,416.2 192.5,415.6 193.0,415.4 193.5,415.4 194.0,416.4 194.5,417.0 195.0,416.1 195.5,416.4 196.0,416.7 196.5,416.3 197.0,416.6 197.5,416.5 198.0,416.5 198.5,416.6 199.0,416.6 199.5,415.7 200.0,415.5 200.5,415.7 201.0,415.0 201.5,415.3 202.0,415.7 202.5,415.6 203.0,415.9 203.5,415.8 204.0,415.4 204.5,415.7 205.0,416.2 205.5,416.7 206.0,416.9 206.5,416.1 207.0,415.8 207.5,416.6 208.0,416.7 208.5,416.6 209.0,416.9 209.5,416.3 210.0,415.9 210.5,415.4 211.0,415.8 211.5,416.2 212.0,416.0 212.5,415.8 213.0,416.2 213.5,416.8 214.0,416.3 214.5,415.8 215.0,415.9 215.5,415.8 216.0,415.4 216.5,416.2 217.0,416.1 217.5,415.4 218.0,415.8 218.5,416.6 219.0,417.3 219.5,417.1 220.0,416.6 220.5,416.0 221.0,416.2 221.5,416.7 222.0,416.5 222.5,416.9 223.0,416.8 223.5,416.4 224.0,415.7 224.5,415.7 225.0,416.3 225.5,416.0 226.0,415.3 226.5,415.4 227.0,416.3 227.5,416.0 228.0,415.5 228.5,416.4 229.0,415.8 229.5,416.1 230.0,416.7 230.5,415.7 231.0,415.4 231.5,415.5 232.0,415.7 232.5,415.7 232.6,405.3 233.0,405.5 233.5,405.6 234.0,405.4 234.5,405.7 235.0,405.7 235.5,405.8 236.0,406.1 236.5,406.2 237.0,406.5 237.5,406.4 238.0,406.7 238.5,406.3 239.0,407.2 239.5,407.9 240.0,409.5 240.5,410.0 241.0,410.2 241.5,411.3 242.0,412.4 242.5,413.2 243.0,413.0 243.5,412.7 244.0,413.3 244.5,413.8 245.0,413.6 245.5,413.5 246.0,414.0 246.5,414.3 247.0,414.7 247.5,414.6 248.0,414.6 248.5,414.5 249.0,414.5 249.5,415.2 250.0,414.8 250.5,414.0 251.0,414.3 251.5,414.6 252.0,414.6 252.5,414.9 253.0,415.2 253.5,415.3 254.0,415.0 254.5,414.9 255.0,414.7 255.5,414.4 256.0,414.9 256.5,414.7 257.0,414.4 257.5,414.4 258.0,414.4 258.5,414.4 259.0,414.8 259.5,415.5 260.0,414.9 260.5,414.8 261.0,414.7 261.5,414.3 262.0,414.9 262.5,415.4 263.0,415.3 263.5,414.8 264.0,414.6 264.5,415.1 265.0,415.4 265.5,415.2 266.0,414.8 266.5,414.4 267.0,414.5 267.5,414.7 268.0,414.6 268.5,414.6 269.0,414.6 269.5,415.3 270.0,415.8 270.5,415.3 271.0,415.0 271.5,414.9 272.0,415.0 272.5,415.7 272.5,403.9 272.5,437.7 273.0,422.2 273.2,415.7 273.5,415.7 274.0,415.7 274.5,415.7 275.0,415.7 275.5,415.7 276.0,415.8 276.5,415.8 277.0,415.7 277.5,415.7 278.0,415.6 278.5,415.7 279.0,415.5 279.5,415.7 280.0,415.7 280.5,415.9 281.0,415.8 281.5,415.5 282.0,415.3 282.5,415.4 283.0,415.9 283.5,416.0 284.0,415.9 284.5,415.2 285.0,415.5 285.5,415.4 286.0,415.5 286.5,415.3 287.0,415.7 287.5,415.5 288.0,415.2 288.5,415.2 289.0,415.5 289.5,415.9 290.0,415.7 290.5,415.5 291.0,415.3 291.5,415.4 292.0,415.3 292.5,415.2 293.0,415.1 293.5,415.4 294.0,415.5 294.5,415.5 295.0,415.7 295.5,416.1 296.0,416.1 296.5,416.3 297.0,415.6 297.5,415.8 298.0,415.8 298.5,416.5 299.0,416.2 299.5,415.8 300.0,415.6 300.5,416.2 301.0,416.0 301.5,415.3 302.0,414.9 302.5,414.9 303.0,415.4 303.5,415.7 304.0,415.4 304.5,415.1 305.0,415.0 305.5,415.6 306.0,415.9 306.5,416.1 307.0,416.1 307.5,416.1 308.0,415.6 308.5,416.0 309.0,415.5 309.5,415.7 310.0,414.7 310.5,415.1 311.0,414.8 311.5,415.7 312.0,415.9 312.5,415.8 313.0,415.6 313.5,415.7 314.0,415.9 314.5,415.5 315.0,415.0 315.5,415.1 316.0,415.6 316.5,416.1 317.0,415.9 317.5,415.5 318.0,415.4 318.5,415.2 319.0,415.2 319.5,415.1 320.0,415.1 320.5,415.4 321.0,415.7 321.5,415.9 322.0,416.2 322.5,415.9 323.0,415.7 323.5,415.4 324.0,415.5 324.5,415.6 325.0,415.7 325.5,415.5 326.0,415.4 326.5,415.7 327.0,415.9 327.5,416.0 328.0,416.0 328.5,415.8 329.0,416.1 329.5,416.0 330.0,416.2 330.5,416.2 331.0,415.6 331.5,415.5 332.0,415.4 332.5,416.2 333.0,416.4 333.5,416.3 334.0,415.8 334.5,415.5 335.0,415.4 335.5,415.4 336.0,415.9 336.5,415.9 337.0,415.9 337.5,415.9 338.0,415.9 338.5,415.8 339.0,415.6 339.5,415.6 340.0,415.1 340.5,415.6 341.0,415.5 341.5,415.8 342.0,415.0 342.5,415.1 343.0,415.5 343.5,415.8 344.0,415.7 344.5,415.3 345.0,415.6 345.5,415.8 346.0,416.1 346.5,415.6 347.0,415.6 347.5,415.4 348.0,415.7 348.5,415.7 349.0,415.6" fill="none" stroke="#000" stroke-width="0.95" stroke-linejoin="round"/>
<polyline points="31.5,415.2 32.0,415.4 32.5,415.4 33.0,416.1 33.5,416.3 34.0,415.6 34.5,415.1 35.0,415.2 35.5,415.5 36.0,415.6 36.5,415.8 37.0,415.5 37.5,415.8 38.0,415.9 38.5,415.8 39.0,416.4 39.5,416.3 40.0,415.4 40.5,415.2 41.0,416.0 41.5,416.0 42.0,415.7 42.5,416.2 43.0,415.3 43.5,415.1 44.0,416.5 44.5,415.7 45.0,414.9 45.5,415.2 46.0,415.0 46.5,415.7 47.0,416.0 47.5,415.9 48.0,416.0 48.5,415.0 49.0,414.8 49.5,415.3 50.0,416.0 50.5,416.5 51.0,415.8 51.5,415.6 52.0,416.1 52.5,415.4 53.0,427.7 53.5,424.5 54.0,421.4 54.5,421.2 55.0,420.8 55.5,420.5 56.0,420.7 56.5,421.1 57.0,420.3 57.5,420.2 58.0,419.9 58.5,418.8 59.0,419.1 59.5,419.3 60.0,419.3 60.5,419.6 61.0,418.9 61.5,419.2 62.0,419.2 62.5,418.4 63.0,418.3 63.5,418.6 64.0,419.0 64.5,418.9 65.0,419.7 65.5,420.6 66.0,420.1 66.5,418.8 67.0,418.8 67.5,419.0 68.0,419.1 68.5,419.2 69.0,418.2 69.5,418.0 70.0,418.5 70.5,418.5 71.0,418.8 71.5,419.8 72.0,419.5 72.5,418.6 73.0,417.8 73.5,418.1 74.0,419.3 74.5,419.0 75.0,418.2 75.5,418.0 76.0,418.1 76.5,418.3 77.0,419.1 77.5,418.9 78.0,418.6 78.5,418.7 79.0,418.6 79.5,418.4 80.0,418.0 80.5,418.3 81.0,419.2 81.5,418.9 82.0,418.0 82.5,417.6 83.0,418.1 83.5,418.0 84.0,417.6 84.5,418.6 85.0,419.0 85.5,418.5 86.0,418.2 86.5,417.7 87.0,418.1 87.5,418.9 88.0,418.6 88.5,418.3 89.0,417.8 89.5,418.0 90.0,419.0 90.5,418.8 91.0,418.2 91.5,418.5 92.0,418.8 92.5,418.8 93.0,418.0 93.5,418.2 94.0,418.3 94.5,417.8 95.0,417.7 95.5,417.3 96.0,417.8 96.5,418.4 97.0,418.3 97.5,418.0 98.0,418.0 98.5,418.5 99.0,417.7 99.5,417.7 100.0,418.5 100.5,417.8 101.0,418.2 101.5,418.5 102.0,417.1 102.5,417.3 103.0,418.0 103.5,417.8 104.0,417.3 104.5,417.1 105.0,417.8 105.5,417.8 106.0,417.6 106.5,418.2 107.0,417.7 107.5,417.6 108.0,417.8 108.5,417.6 109.0,417.1 109.5,417.0 110.0,416.9 110.5,416.9 111.0,417.4 111.5,416.9 112.0,416.4 112.5,416.7 113.0,417.3 113.5,418.1 114.0,418.1 114.5,417.5 115.0,417.5 115.5,416.6 116.0,416.4 116.5,417.3 117.0,417.1 117.5,417.1 118.0,417.9 118.5,417.6 119.0,417.4 119.5,417.4 120.0,417.3 120.5,417.4 121.0,417.5 121.5,417.7 122.0,417.4 122.5,416.5 123.0,417.4 123.5,418.0 124.0,417.4 124.5,416.9 125.0,416.7 125.5,417.6 126.0,417.7 126.5,416.9 127.0,417.5 127.5,417.4 128.0,416.7 128.5,417.5 129.0,417.3 129.5,417.4 130.0,417.9 130.5,417.5 131.0,417.4 131.5,417.1 132.0,417.1 132.5,416.9 133.0,417.0 133.5,417.2 134.0,416.9 134.5,416.8 135.0,416.6 135.5,416.4 136.0,416.7 136.5,417.5 137.0,417.9 137.5,417.2 138.0,416.8 138.5,416.6 139.0,416.0 139.5,416.1 140.0,416.4 140.5,416.4 141.0,416.7 141.5,417.1 142.0,417.2 142.5,417.4 143.0,417.5 143.5,417.6 144.0,417.8 144.5,418.1 145.0,418.8 145.5,418.6 146.0,417.8 146.5,417.6 147.0,417.3 147.5,416.9 148.0,417.0 148.5,416.7 149.0,416.2 149.5,416.3 150.0,416.5 150.5,416.4 151.0,416.7 151.5,417.0 152.0,416.9 152.5,417.0 153.0,416.8 153.5,416.5 154.0,416.4 154.5,416.8 155.0,416.9 155.5,416.8 156.0,416.9 156.5,416.8 157.0,416.7 157.5,417.2 158.0,416.7 158.5,416.5 159.0,416.9 159.5,417.2 160.0,416.9 160.5,416.2 161.0,416.2 161.5,416.2 162.0,417.0 162.5,417.2 163.0,416.9 163.5,416.6 164.0,416.3 164.5,416.4 165.0,416.8 165.5,417.0 166.0,416.2 166.5,416.5 167.0,416.6 167.5,416.0 168.0,416.4 168.5,416.3 169.0,416.8 169.5,417.1 170.0,416.4 170.5,416.3 171.0,416.2 171.5,416.2 172.0,416.9 172.5,417.2 173.0,416.5 173.5,416.1 174.0,416.2 174.5,416.3 175.0,416.6 175.5,416.7 176.0,416.7 176.5,416.6 177.0,416.0 177.5,416.1 178.0,416.6 178.5,416.5 179.0,416.2 179.5,416.4 180.0,416.3 180.5,416.4 181.0,416.3 181.5,416.3 182.0,416.2 182.5,415.4 183.0,415.3 183.5,415.9 184.0,415.6 184.5,415.9 185.0,415.7 185.5,414.8 186.0,415.9 186.5,417.1 187.0,417.3 187.5,417.5 188.0,417.9 188.5,418.2 189.0,418.1 189.5,417.6 190.0,416.7 190.5,416.1 191.0,416.7 191.5,416.4 192.0,416.0 192.5,416.0 193.0,416.0 193.5,416.3 194.0,416.0 194.5,416.3 195.0,416.5 195.5,416.0 196.0,415.5 196.5,415.7 197.0,416.5 197.5,416.6 198.0,416.5 198.5,416.5 199.0,416.8 199.5,416.2 200.0,415.8 200.5,416.5 201.0,416.0 201.5,416.7 202.0,417.1 202.5,416.2 203.0,416.4 203.5,416.0 204.0,415.9 204.5,416.5 205.0,416.3 205.5,416.2 206.0,416.6 206.5,417.0 207.0,417.5 207.5,417.3 208.0,416.7 208.5,416.3 209.0,415.9 209.5,416.5 210.0,416.1 210.5,415.6 211.0,416.5 211.5,416.0 212.0,415.8 212.5,416.3 213.0,415.8 213.5,416.1 214.0,416.0 214.5,415.8 215.0,415.9 215.5,416.4 216.0,417.0 216.5,417.1 217.0,416.5 217.5,416.9 218.0,417.3 218.5,416.7 219.0,417.0 219.5,417.1 220.0,417.1 220.5,417.0 221.0,416.1 221.5,416.9 222.0,417.4 222.5,416.4 223.0,416.0 223.5,416.3 224.0,416.5 224.5,416.4 225.0,416.8 225.5,417.0 226.0,416.8 226.5,416.5 227.0,415.8 227.5,415.7 228.0,416.1 228.5,416.3 229.0,416.1 229.5,416.1 230.0,415.8 230.5,415.2 231.0,415.1 231.5,416.3 232.0,416.6 232.5,415.7 232.6,367.7 233.0,367.6 233.5,371.7 234.0,376.6 234.5,380.8 235.0,384.8 235.5,388.5 236.0,391.1 236.5,393.2 237.0,395.3 237.5,397.7 238.0,399.5 238.5,401.1 239.0,402.3 239.5,403.7 240.0,405.3 240.5,406.4 241.0,407.1 241.5,407.7 242.0,408.0 242.5,409.3 243.0,410.1 243.5,409.7 244.0,410.8 244.5,411.2 245.0,411.1 245.5,411.9 246.0,412.1 246.5,411.8 247.0,412.0 247.5,412.3 248.0,412.7 248.5,413.1 249.0,412.6 249.5,412.6 250.0,413.0 250.5,413.3 251.0,413.5 251.5,413.4 252.0,413.6 252.5,413.7 253.0,413.3 253.5,413.2 254.0,413.8 254.5,413.7 255.0,413.9 255.5,413.6 256.0,412.9 256.5,413.4 257.0,414.2 257.5,414.5 258.0,414.3 258.5,414.0 259.0,414.4 259.5,414.7 260.0,414.2 260.5,414.3 261.0,413.6 261.5,413.0 262.0,413.3 262.5,413.7 263.0,414.3 263.5,413.9 264.0,413.3 264.5,413.6 265.0,414.0 265.5,414.1 266.0,414.3 266.5,414.4 267.0,414.0 267.5,413.9 268.0,414.0 268.5,414.0 269.0,414.3 269.5,414.0 270.0,413.7 270.5,414.1 271.0,413.9 271.5,413.6 272.0,414.3 272.5,415.7 272.5,403.9 272.5,441.7 273.0,423.3 273.2,415.7 273.5,415.7 274.0,415.7 274.5,415.6 275.0,415.6 275.5,415.5 276.0,415.6 276.5,415.6 277.0,415.6 277.5,415.7 278.0,415.8 278.5,416.1 279.0,415.7 279.5,415.8 280.0,415.6 280.5,415.7 281.0,415.6 281.5,415.5 282.0,415.4 282.5,415.3 283.0,415.3 283.5,416.0 284.0,415.9 284.5,416.0 285.0,415.4 285.5,415.8 286.0,415.8 286.5,416.3 287.0,415.8 287.5,416.3 288.0,415.9 288.5,416.0 289.0,415.8 289.5,415.8 290.0,416.1 290.5,415.6 291.0,415.9 291.5,416.3 292.0,416.5 292.5,416.3 293.0,415.8 293.5,415.9 294.0,415.8 294.5,415.8 295.0,415.8 295.5,415.8 296.0,415.8 296.5,416.1 297.0,416.3 297.5,416.5 298.0,416.3 298.5,416.2 299.0,416.0 299.5,416.1 300.0,416.1 300.5,415.9 301.0,415.6 301.5,415.4 302.0,415.9 302.5,415.9 303.0,416.3 303.5,416.1 304.0,416.2 304.5,415.9 305.0,416.0 305.5,415.9 306.0,415.8 306.5,415.4 307.0,415.2 307.5,415.7 308.0,415.3 308.5,416.0 309.0,415.9 309.5,416.3 310.0,416.5 310.5,416.0 311.0,416.3 311.5,415.7 312.0,415.8 312.5,415.7 313.0,415.5 313.5,416.0 314.0,415.8 314.5,415.9 315.0,415.7 315.5,415.9 316.0,416.0 316.5,415.7 317.0,415.5 317.5,415.4 318.0,415.6 318.5,416.1 319.0,416.3 319.5,416.3 320.0,415.6 320.5,415.7 321.0,415.8 321.5,415.7 322.0,416.1 322.5,415.9 323.0,416.1 323.5,415.3 324.0,415.6 324.5,415.3 325.0,415.9 325.5,415.2 326.0,415.4 326.5,415.5 327.0,415.7 327.5,416.0 328.0,415.9 328.5,416.1 329.0,416.2 329.5,416.2 330.0,416.1 330.5,415.8 331.0,415.8 331.5,415.7 332.0,416.0 332.5,416.0 333.0,415.7 333.5,415.5 334.0,414.9 334.5,415.1 335.0,415.4 335.5,415.7 336.0,415.9 336.5,415.6 337.0,416.1 337.5,416.1 338.0,416.2 338.5,416.0 339.0,415.8 339.5,415.9 340.0,415.7 340.5,415.6 341.0,415.7 341.5,416.0 342.0,416.3 342.5,416.5 343.0,416.2 343.5,416.1 344.0,415.6 344.5,415.6 345.0,415.5 345.5,415.5 346.0,415.5 346.5,415.7 347.0,415.8 347.5,415.9 348.0,415.6 348.5,415.9 349.0,415.9" fill="none" stroke="#000" stroke-width="0.95" stroke-linejoin="round"/>
<polyline points="31.5,416.1 32.0,415.7 32.5,415.3 33.0,415.4 33.5,415.2 34.0,415.4 34.5,415.4 35.0,415.5 35.5,416.1 36.0,416.3 36.5,416.1 37.0,416.3 37.5,415.3 38.0,414.6 38.5,415.3 39.0,414.8 39.5,414.8 40.0,415.4 40.5,415.4 41.0,415.8 41.5,415.2 42.0,415.1 42.5,415.9 43.0,415.8 43.5,415.8 44.0,416.2 44.5,416.4 45.0,415.8 45.5,415.4 46.0,416.0 46.5,415.9 47.0,415.5 47.5,415.9 48.0,416.5 48.5,416.3 49.0,415.4 49.5,415.6 50.0,415.6 50.5,415.2 51.0,415.7 51.5,416.1 52.0,415.9 52.5,415.5 53.0,435.4 53.5,430.1 54.0,424.9 54.5,424.3 55.0,423.8 55.5,423.5 56.0,423.0 56.5,421.8 57.0,421.8 57.5,421.2 58.0,420.4 58.5,420.9 59.0,421.2 59.5,420.6 60.0,420.8 60.5,420.5 61.0,420.1 61.5,420.2 62.0,420.2 62.5,420.6 63.0,420.6 63.5,420.9 64.0,420.9 64.5,420.7 65.0,420.5 65.5,420.5 66.0,420.0 66.5,419.9 67.0,420.8 67.5,421.7 68.0,421.0 68.5,419.8 69.0,420.6 69.5,421.1 70.0,420.8 70.5,420.9 71.0,421.3 71.5,420.6 72.0,420.1 72.5,420.2 73.0,420.0 73.5,420.2 74.0,420.9 74.5,420.7 75.0,419.9 75.5,419.8 76.0,420.3 76.5,419.7 77.0,419.2 77.5,419.5 78.0,419.3 78.5,419.9 79.0,420.3 79.5,419.9 80.0,420.4 80.5,420.4 81.0,420.1 81.5,420.1 82.0,419.7 82.5,418.7 83.0,419.1 83.5,419.8 84.0,419.1 84.5,418.9 85.0,418.9 85.5,419.2 86.0,419.3 86.5,419.3 87.0,419.0 87.5,418.9 88.0,419.5 88.5,419.1 89.0,418.9 89.5,419.1 90.0,419.1 90.5,418.7 91.0,419.2 91.5,419.9 92.0,419.6 92.5,418.6 93.0,418.5 93.5,419.0 94.0,419.2 94.5,419.3 95.0,419.4 95.5,419.4 96.0,419.7 96.5,419.6 97.0,419.5 97.5,419.7 98.0,419.1 98.5,418.2 99.0,418.1 99.5,418.2 100.0,417.9 100.5,417.8 101.0,418.5 101.5,418.8 102.0,418.8 102.5,419.2 103.0,419.0 103.5,418.2 104.0,417.9 104.5,418.0 105.0,417.9 105.5,417.8 106.0,417.9 106.5,417.9 107.0,417.9 107.5,418.6 108.0,418.1 108.5,417.6 109.0,418.2 109.5,417.9 110.0,418.1 110.5,418.1 111.0,418.4 111.5,418.6 112.0,417.8 112.5,418.1 113.0,417.6 113.5,417.2 114.0,418.4 114.5,418.5 115.0,418.3 115.5,418.5 116.0,418.0 116.5,416.9 117.0,417.5 117.5,418.4 118.0,418.3 118.5,417.8 119.0,417.7 119.5,417.6 120.0,417.4 120.5,417.6 121.0,417.7 121.5,417.8 122.0,418.1 122.5,418.1 123.0,417.2 123.5,416.9 124.0,417.3 124.5,417.1 125.0,417.4 125.5,418.3 126.0,418.7 126.5,418.6 127.0,418.7 127.5,418.4 128.0,417.8 128.5,417.5 129.0,417.4 129.5,417.4 130.0,417.7 130.5,418.0 131.0,417.3 131.5,416.8 132.0,417.4 132.5,418.1 133.0,417.9 133.5,417.8 134.0,417.5 134.5,416.7 135.0,416.5 135.5,417.5 136.0,418.3 136.5,417.9 137.0,416.9 137.5,416.8 138.0,417.0 138.5,416.8 139.0,417.0 139.5,416.8 140.0,416.9 140.5,417.1 141.0,417.0 141.5,417.7 142.0,417.3 142.5,416.8 143.0,417.4 143.5,417.8 144.0,416.9 144.5,416.2 145.0,416.8 145.5,416.6 146.0,417.3 146.5,417.7 147.0,417.6 147.5,417.6 148.0,417.2 148.5,417.2 149.0,417.5 149.5,417.1 150.0,416.7 150.5,416.8 151.0,417.4 151.5,417.3 152.0,416.4 152.5,416.6 153.0,416.8 153.5,417.2 154.0,417.0 154.5,416.4 155.0,417.1 155.5,417.1 156.0,417.0 156.5,417.1 157.0,416.6 157.5,416.7 158.0,416.8 158.5,416.8 159.0,416.8 159.5,416.6 160.0,416.6 160.5,416.8 161.0,416.5 161.5,416.6 162.0,417.2 162.5,417.8 163.0,417.8 163.5,416.9 164.0,416.6 164.5,416.8 165.0,417.0 165.5,417.1 166.0,417.5 166.5,417.9 167.0,417.8 167.5,417.7 168.0,417.7 168.5,418.0 169.0,418.9 169.5,417.8 170.0,416.6 170.5,416.6 171.0,416.3 171.5,415.6 172.0,414.8 172.5,415.1 173.0,415.3 173.5,414.8 174.0,415.5 174.5,416.8 175.0,416.5 175.5,416.2 176.0,416.4 176.5,416.1 177.0,416.8 177.5,416.4 178.0,416.3 178.5,417.6 179.0,417.0 179.5,416.3 180.0,415.9 180.5,416.1 181.0,416.6 181.5,417.0 182.0,417.1 182.5,416.7 183.0,416.2 183.5,415.1 184.0,415.6 184.5,416.7 185.0,417.2 185.5,416.8 186.0,417.3 186.5,417.3 187.0,416.3 187.5,416.3 188.0,416.4 188.5,416.3 189.0,416.2 189.5,416.5 190.0,417.2 190.5,417.6 191.0,417.7 191.5,417.3 192.0,416.5 192.5,416.6 193.0,417.3 193.5,417.6 194.0,417.1 194.5,416.9 195.0,417.2 195.5,417.1 196.0,417.3 196.5,417.4 197.0,416.7 197.5,416.3 198.0,416.1 198.5,416.6 199.0,417.0 199.5,416.3 200.0,416.2 200.5,416.3 201.0,416.0 201.5,416.6 202.0,416.9 202.5,416.1 203.0,415.7 203.5,416.2 204.0,416.4 204.5,416.2 205.0,416.2 205.5,416.7 206.0,416.9 206.5,416.3 207.0,416.0 207.5,415.9 208.0,416.4 208.5,416.8 209.0,416.7 209.5,416.5 210.0,416.0 210.5,415.7 211.0,416.3 211.5,416.8 212.0,417.0 212.5,416.8 213.0,416.2 213.5,415.8 214.0,415.8 214.5,416.1 215.0,415.8 215.5,416.1 216.0,416.8 216.5,416.5 217.0,416.5 217.5,416.5 218.0,415.7 218.5,415.7 219.0,415.9 219.5,416.3 220.0,416.1 220.5,415.8 221.0,415.7 221.5,415.8 222.0,416.6 222.5,416.3 223.0,416.6 223.5,417.0 224.0,416.7 224.5,416.6 225.0,416.3 225.5,416.2 226.0,416.2 226.5,416.0 227.0,416.1 227.5,416.6 228.0,415.8 228.5,415.4 229.0,416.0 229.5,416.3 230.0,416.2 230.5,416.2 231.0,417.0 231.5,416.9 232.0,415.9 232.5,415.7 232.6,330.0 233.0,330.0 233.5,340.7 234.0,352.1 234.5,361.5 235.0,368.8 235.5,375.2 236.0,380.6 236.5,384.4 237.0,387.6 237.5,390.1 238.0,392.4 238.5,394.8 239.0,396.3 239.5,397.7 240.0,399.1 240.5,400.5 241.0,401.9 241.5,402.9 242.0,404.4 242.5,405.3 243.0,405.4 243.5,406.0 244.0,406.7 244.5,407.3 245.0,407.3 245.5,407.7 246.0,408.8 246.5,409.0 247.0,408.9 247.5,409.5 248.0,410.0 248.5,410.3 249.0,410.7 249.5,411.2 250.0,411.1 250.5,411.1 251.0,411.4 251.5,411.2 252.0,411.3 252.5,411.5 253.0,411.3 253.5,411.8 254.0,412.1 254.5,412.0 255.0,412.6 255.5,412.6 256.0,412.9 256.5,413.2 257.0,412.6 257.5,412.5 258.0,412.8 258.5,413.1 259.0,413.0 259.5,413.2 260.0,413.5 260.5,413.2 261.0,412.8 261.5,412.9 262.0,413.9 262.5,413.9 263.0,414.0 263.5,413.7 264.0,413.4 264.5,414.0 265.0,413.8 265.5,413.8 266.0,413.6 266.5,413.2 267.0,413.4 267.5,413.9 268.0,414.0 268.5,413.7 269.0,413.8 269.5,414.2 270.0,414.1 270.5,413.4 271.0,413.7 271.5,414.6 272.0,414.6 272.5,415.7 272.5,403.9 272.5,445.4 273.0,442.4 273.2,441.4 273.5,440.0 274.0,437.9 274.5,436.2 275.0,434.8 275.5,433.5 276.0,432.5 276.5,431.5 277.0,430.6 277.5,429.8 278.0,429.1 278.5,428.5 279.0,427.9 279.5,427.2 280.0,426.6 280.5,426.3 281.0,425.8 281.5,425.1 282.0,424.8 282.5,424.6 283.0,424.4 283.5,423.9 284.0,423.7 284.5,423.5 285.0,423.1 285.5,422.7 286.0,422.4 286.5,422.4 287.0,422.8 287.5,422.8 288.0,422.4 288.5,421.5 289.0,420.9 289.5,420.6 290.0,420.2 290.5,420.2 291.0,420.0 291.5,420.2 292.0,420.4 292.5,420.1 293.0,420.3 293.5,419.8 294.0,420.1 294.5,419.8 295.0,420.0 295.5,420.2 296.0,420.0 296.5,419.8 297.0,419.5 297.5,419.1 298.0,419.1 298.5,418.8 299.0,419.0 299.5,419.1 300.0,419.3 300.5,419.4 301.0,418.8 301.5,418.6 302.0,418.5 302.5,418.5 303.0,418.6 303.5,418.5 304.0,418.5 304.5,418.3 305.0,418.1 305.5,418.3 306.0,418.3 306.5,418.3 307.0,417.7 307.5,417.7 308.0,417.7 308.5,418.2 309.0,418.3 309.5,418.5 310.0,418.5 310.5,418.0 311.0,417.7 311.5,418.0 312.0,418.6 312.5,418.7 313.0,418.2 313.5,418.2 314.0,417.8 314.5,417.9 315.0,417.8 315.5,418.2 316.0,418.2 316.5,418.4 317.0,418.1 317.5,418.3 318.0,418.3 318.5,418.7 319.0,418.6 319.5,418.6 320.0,417.9 320.5,417.9 321.0,417.7 321.5,418.0 322.0,417.8 322.5,417.6 323.0,417.7 323.5,417.7 324.0,417.8 324.5,417.4 325.0,417.2 325.5,417.3 326.0,417.3 326.5,417.5 327.0,417.8 327.5,418.3 328.0,418.2 328.5,418.2 329.0,417.7 329.5,417.7 330.0,417.4 330.5,417.3 331.0,417.2 331.5,417.4 332.0,418.0 332.5,418.3 333.0,418.5 333.5,418.4 334.0,418.2 334.5,417.7 335.0,418.1 335.5,418.0 336.0,418.4 336.5,417.8 337.0,417.9 337.5,417.3 338.0,417.2 338.5,417.4 339.0,417.5 339.5,417.6 340.0,417.1 340.5,417.3 341.0,417.3 341.5,417.5 342.0,417.4 342.5,417.5 343.0,417.5 343.5,417.9 344.0,417.6 344.5,417.7 345.0,417.7 345.5,417.5 346.0,417.5 346.5,417.3 347.0,418.0 347.5,418.2 348.0,417.6 348.5,417.6 349.0,417.3" fill="none" stroke="#000" stroke-width="0.95" stroke-linejoin="round"/>
<polyline points="31.5,415.7 32.0,415.6 32.5,415.7 33.0,415.3 33.5,415.1 34.0,415.7 34.5,415.8 35.0,416.2 35.5,416.2 36.0,415.7 36.5,415.2 37.0,415.4 37.5,416.0 38.0,415.2 38.5,415.0 39.0,416.0 39.5,415.6 40.0,415.3 40.5,415.2 41.0,414.9 41.5,415.2 42.0,415.9 42.5,415.5 43.0,415.7 43.5,415.9 44.0,415.1 44.5,415.8 45.0,416.2 45.5,415.7 46.0,416.0 46.5,415.9 47.0,416.0 47.5,416.5 48.0,416.3 48.5,415.5 49.0,415.4 49.5,415.4 50.0,415.1 50.5,414.4 51.0,415.2 51.5,416.6 52.0,416.2 52.5,415.7 53.0,443.2 53.5,438.0 54.0,432.5 54.5,432.3 55.0,432.1 55.5,431.7 56.0,431.3 56.5,430.6 57.0,431.2 57.5,431.3 58.0,431.0 58.5,430.4 59.0,429.4 59.5,429.6 60.0,429.6 60.5,428.4 61.0,427.5 61.5,427.8 62.0,428.3 62.5,428.1 63.0,428.2 63.5,428.2 64.0,428.2 64.5,427.4 65.0,426.8 65.5,426.7 66.0,426.2 66.5,425.6 67.0,425.2 67.5,425.2 68.0,425.4 68.5,425.7 69.0,426.1 69.5,426.1 70.0,425.5 70.5,425.6 71.0,425.5 71.5,424.9 72.0,425.7 72.5,426.4 73.0,426.0 73.5,425.9 74.0,425.9 74.5,425.6 75.0,424.3 75.5,424.0 76.0,424.5 76.5,424.7 77.0,424.2 77.5,423.6 78.0,423.7 78.5,423.6 79.0,423.4 79.5,423.4 80.0,422.5 80.5,422.7 81.0,423.8 81.5,423.6 82.0,422.8 82.5,422.8 83.0,422.9 83.5,422.8 84.0,422.7 84.5,421.9 85.0,422.1 85.5,422.6 86.0,421.9 86.5,421.3 87.0,421.5 87.5,422.0 88.0,422.7 88.5,421.9 89.0,421.5 89.5,422.1 90.0,422.0 90.5,422.0 91.0,421.9 91.5,421.6 92.0,422.3 92.5,422.3 93.0,421.4 93.5,421.4 94.0,422.1 94.5,422.9 95.0,422.6 95.5,422.7 96.0,423.2 96.5,422.6 97.0,421.2 97.5,421.2 98.0,421.5 98.5,421.3 99.0,421.1 99.5,421.6 100.0,421.7 100.5,422.0 101.0,422.5 101.5,422.4 102.0,422.2 102.5,421.9 103.0,422.2 103.5,422.6 104.0,422.4 104.5,422.1 105.0,421.6 105.5,421.4 106.0,422.3 106.5,422.0 107.0,421.6 107.5,421.5 108.0,420.9 108.5,421.3 109.0,421.4 109.5,421.2 110.0,420.9 110.5,420.8 111.0,420.9 111.5,420.4 112.0,420.7 112.5,420.7 113.0,419.9 113.5,420.3 114.0,420.7 114.5,421.0 115.0,421.2 115.5,420.4 116.0,419.5 116.5,419.5 117.0,419.8 117.5,420.0 118.0,420.3 118.5,420.5 119.0,420.6 119.5,420.5 120.0,420.0 120.5,419.8 121.0,420.5 121.5,420.5 122.0,419.8 122.5,420.3 123.0,420.4 123.5,419.7 124.0,420.0 124.5,419.9 125.0,419.2 125.5,419.4 126.0,419.7 126.5,419.6 127.0,419.7 127.5,419.8 128.0,420.1 128.5,419.8 129.0,419.9 129.5,420.7 130.0,421.3 130.5,421.1 131.0,421.0 131.5,421.8 132.0,421.8 132.5,420.9 133.0,420.2 133.5,419.8 134.0,420.1 134.5,419.8 135.0,418.5 135.5,418.2 136.0,418.4 136.5,417.6 137.0,417.4 137.5,418.3 138.0,418.6 138.5,418.4 139.0,418.1 139.5,417.5 140.0,417.4 140.5,418.1 141.0,418.4 141.5,418.2 142.0,418.3 142.5,417.8 143.0,418.3 143.5,418.5 144.0,417.8 144.5,417.9 145.0,417.8 145.5,417.4 146.0,417.6 146.5,418.5 147.0,418.0 147.5,417.9 148.0,417.7 148.5,416.8 149.0,417.1 149.5,417.6 150.0,417.2 150.5,417.2 151.0,418.6 151.5,419.5 152.0,419.0 152.5,418.7 153.0,417.7 153.5,416.8 154.0,417.3 154.5,417.4 155.0,417.4 155.5,417.5 156.0,417.0 156.5,417.8 157.0,418.0 157.5,416.9 158.0,417.2 158.5,418.0 159.0,417.3 159.5,417.2 160.0,417.8 160.5,417.9 161.0,417.9 161.5,417.3 162.0,417.2 162.5,417.6 163.0,417.2 163.5,417.7 164.0,417.8 164.5,417.5 165.0,416.7 165.5,416.5 166.0,417.7 166.5,417.8 167.0,417.9 167.5,417.5 168.0,416.3 168.5,416.2 169.0,416.7 169.5,416.5 170.0,417.2 170.5,417.5 171.0,417.9 171.5,417.9 172.0,418.1 172.5,418.1 173.0,417.8 173.5,417.8 174.0,417.6 174.5,417.6 175.0,417.3 175.5,416.8 176.0,416.8 176.5,417.3 177.0,416.5 177.5,416.5 178.0,417.7 178.5,418.0 179.0,417.5 179.5,416.9 180.0,417.5 180.5,416.9 181.0,415.9 181.5,416.6 182.0,416.8 182.5,417.2 183.0,417.3 183.5,417.6 184.0,417.3 184.5,416.8 185.0,417.4 185.5,417.2 186.0,417.2 186.5,417.8 187.0,417.4 187.5,416.9 188.0,417.3 188.5,418.0 189.0,417.8 189.5,416.8 190.0,416.6 190.5,416.8 191.0,416.6 191.5,416.6 192.0,417.0 192.5,417.2 193.0,417.2 193.5,417.0 194.0,416.7 194.5,417.0 195.0,417.5 195.5,417.7 196.0,417.0 196.5,416.0 197.0,415.9 197.5,416.0 198.0,416.0 198.5,416.5 199.0,417.0 199.5,416.9 200.0,416.3 200.5,416.0 201.0,416.1 201.5,416.3 202.0,417.1 202.5,416.8 203.0,416.9 203.5,417.4 204.0,417.1 204.5,416.4 205.0,416.5 205.5,417.2 206.0,417.2 206.5,416.5 207.0,416.1 207.5,416.3 208.0,416.1 208.5,416.1 209.0,416.4 209.5,416.9 210.0,417.2 210.5,416.8 211.0,416.7 211.5,416.9 212.0,417.1 212.5,417.3 213.0,417.7 213.5,417.4 214.0,417.0 214.5,417.1 215.0,417.0 215.5,416.9 216.0,416.6 216.5,416.4 217.0,416.9 217.5,416.7 218.0,415.8 218.5,415.8 219.0,416.0 219.5,416.1 220.0,415.9 220.5,416.2 221.0,416.6 221.5,416.5 222.0,416.2 222.5,416.0 223.0,416.3 223.5,416.2 224.0,416.4 224.5,416.3 225.0,416.2 225.5,416.2 226.0,415.9 226.5,415.8 227.0,416.4 227.5,416.7 228.0,416.6 228.5,417.4 229.0,417.2 229.5,417.0 230.0,416.3 230.5,415.9 231.0,416.6 231.5,416.5 232.0,416.1 232.5,415.7 232.6,299.4 233.0,299.3 233.5,308.6 234.0,319.3 234.5,328.3 235.0,336.0 235.5,343.7 236.0,350.5 236.5,356.5 237.0,361.7 237.5,366.8 238.0,370.5 238.5,374.5 239.0,378.3 239.5,381.2 240.0,384.2 240.5,386.0 241.0,388.5 241.5,391.1 242.0,393.1 242.5,394.7 243.0,395.9 243.5,396.9 244.0,397.8 244.5,399.4 245.0,400.8 245.5,401.4 246.0,402.4 246.5,403.3 247.0,403.7 247.5,404.3 248.0,405.1 248.5,405.7 249.0,406.1 249.5,406.2 250.0,407.3 250.5,408.2 251.0,408.4 251.5,408.4 252.0,408.5 252.5,408.7 253.0,408.9 253.5,409.0 254.0,409.0 254.5,409.6 255.0,409.8 255.5,410.3 256.0,411.0 256.5,411.4 257.0,410.9 257.5,411.1 258.0,412.0 258.5,411.5 259.0,411.6 259.5,412.2 260.0,411.8 260.5,411.8 261.0,412.2 261.5,412.4 262.0,412.7 262.5,413.2 263.0,412.7 263.5,412.3 264.0,412.4 264.5,412.8 265.0,412.3 265.5,412.1 266.0,413.1 266.5,413.1 267.0,413.1 267.5,413.2 268.0,413.1 268.5,413.3 269.0,413.3 269.5,413.2 270.0,413.3 270.5,412.8 271.0,413.1 271.5,413.6 272.0,413.2 272.5,415.7 272.5,403.9 272.5,445.4 273.0,424.5 273.2,415.7 273.5,415.7 274.0,415.7 274.5,415.7 275.0,415.6 275.5,415.5 276.0,415.5 276.5,415.6 277.0,415.7 277.5,415.7 278.0,415.9 278.5,415.9 279.0,415.7 279.5,415.6 280.0,415.5 280.5,415.7 281.0,415.8 281.5,415.9 282.0,416.0 282.5,415.5 283.0,415.3 283.5,415.4 284.0,415.9 284.5,415.9 285.0,415.7 285.5,415.7 286.0,415.6 286.5,415.6 287.0,415.4 287.5,415.6 288.0,415.9 288.5,415.8 289.0,415.8 289.5,415.5 290.0,415.5 290.5,415.5 291.0,415.5 291.5,415.7 292.0,415.8 292.5,415.7 293.0,415.7 293.5,415.6 294.0,415.8 294.5,415.3 295.0,415.4 295.5,415.5 296.0,416.1 296.5,416.1 297.0,416.1 297.5,416.0 298.0,415.9 298.5,415.9 299.0,415.6 299.5,415.7 300.0,416.0 300.5,416.4 301.0,415.7 301.5,415.5 302.0,415.3 302.5,415.5 303.0,415.3 303.5,414.8 304.0,415.3 304.5,415.7 305.0,416.3 305.5,415.7 306.0,415.5 306.5,415.5 307.0,416.1 307.5,416.0 308.0,415.7 308.5,415.5 309.0,415.6 309.5,416.2 310.0,416.2 310.5,415.7 311.0,415.5 311.5,415.4 312.0,415.8 312.5,415.4 313.0,415.7 313.5,415.5 314.0,415.6 314.5,415.1 315.0,415.5 315.5,415.5 316.0,416.3 316.5,416.2 317.0,416.1 317.5,415.4 318.0,415.6 318.5,416.0 319.0,416.3 319.5,416.0 320.0,416.4 320.5,415.8 321.0,416.4 321.5,415.8 322.0,415.9 322.5,415.6 323.0,415.4 323.5,415.6 324.0,415.8 324.5,415.7 325.0,415.8 325.5,415.5 326.0,415.8 326.5,415.8 327.0,416.0 327.5,416.3 328.0,416.3 328.5,416.3 329.0,416.3 329.5,416.0 330.0,415.8 330.5,415.9 331.0,416.1 331.5,415.9 332.0,415.6 332.5,415.5 333.0,415.6 333.5,415.7 334.0,415.5 334.5,415.7 335.0,415.7 335.5,415.5 336.0,415.5 336.5,415.0 337.0,415.9 337.5,415.2 338.0,415.5 338.5,415.3 339.0,415.8 339.5,416.2 340.0,415.8 340.5,416.0 341.0,416.0 341.5,416.0 342.0,415.7 342.5,415.5 343.0,416.2 343.5,416.5 344.0,417.0 344.5,416.3 345.0,416.2 345.5,415.5 346.0,415.4 346.5,415.6 347.0,415.9 347.5,416.3 348.0,416.1 348.5,415.6 349.0,415.4" fill="none" stroke="#000" stroke-width="0.95" stroke-linejoin="round"/>
<polyline points="274.5,415.4 275.5,415.7 276.5,415.7 277.5,415.4 278.5,415.2 279.5,415.1 280.5,415.3 281.5,415.6 282.5,415.7 283.5,415.5 284.5,415.2 285.5,415.1 286.5,415.2 287.5,415.5 288.5,415.7 289.5,415.6 290.5,415.3 291.5,415.1 292.5,415.2 293.5,415.4 294.5,415.7 295.5,415.7 296.5,415.4 297.5,415.1 298.5,415.1 299.5,415.4 300.5,415.6 301.5,415.7 302.5,415.5 303.5,415.2 304.5,415.1 305.5,415.3 306.5,415.6 307.5,415.7 308.5,415.6 309.5,415.3 310.5,415.1 311.5,415.2 312.5,415.5 313.5,415.7 314.5,415.6 315.5,415.4 316.5,415.1 317.5,415.2 318.5,415.4 319.5,415.7 320.5,415.7 321.5,415.4 322.5,415.2 323.5,415.1 324.5,415.3 325.5,415.6 326.5,415.7 327.5,415.5 328.5,415.2 329.5,415.1 330.5,415.2 331.5,415.5 332.5,415.7 333.5,415.6 334.5,415.3 335.5,415.1 336.5,415.2 337.5,415.5 338.5,415.7 339.5,415.6 340.5,415.4 341.5,415.1 342.5,415.1 343.5,415.4 344.5,415.6 345.5,415.7 346.5,415.5 347.5,415.2 348.5,415.1" fill="none" stroke="#000" stroke-width="1.0" stroke-linejoin="round"/>
</svg></body></html>
